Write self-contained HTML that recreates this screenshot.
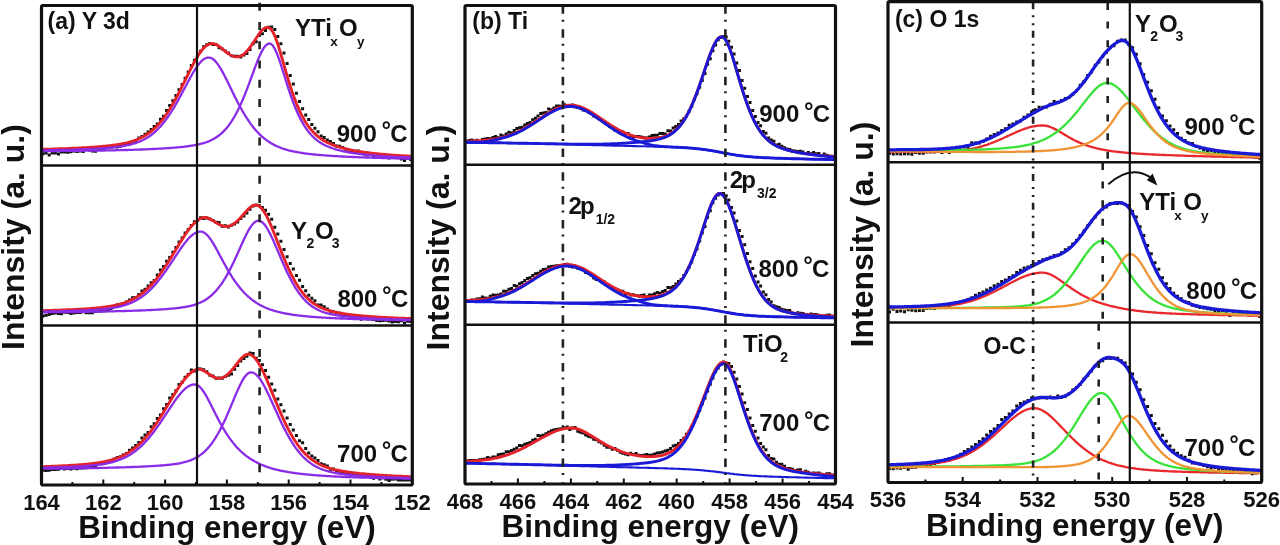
<!DOCTYPE html><html><head><meta charset="utf-8"><style>
html,body{margin:0;padding:0;background:#fff;width:1280px;height:545px;overflow:hidden}
svg{display:block;filter:blur(0.45px)}
text{font-family:"Liberation Sans",sans-serif;font-weight:bold;fill:#111}
</style></head><body>
<svg width="1280" height="545" viewBox="0 0 1280 545">
<defs><clipPath id="ca0"><rect x="41.5" y="5.5" width="370.8" height="160.0"/></clipPath><clipPath id="ca1"><rect x="41.5" y="165.5" width="370.8" height="160.0"/></clipPath><clipPath id="ca2"><rect x="41.5" y="325.5" width="370.8" height="159.5"/></clipPath><clipPath id="cb0"><rect x="465.0" y="5.5" width="370.5" height="159.3"/></clipPath><clipPath id="cb1"><rect x="465.0" y="164.8" width="370.5" height="160.0"/></clipPath><clipPath id="cb2"><rect x="465.0" y="324.8" width="370.5" height="159.2"/></clipPath><clipPath id="cc0"><rect x="888.0" y="1.7" width="373.70000000000005" height="160.5"/></clipPath><clipPath id="cc1"><rect x="888.0" y="162.2" width="373.70000000000005" height="160.3"/></clipPath><clipPath id="cc2"><rect x="888.0" y="322.5" width="373.70000000000005" height="160.0"/></clipPath></defs><g clip-path="url(#ca0)"><path d="M43.0 153.8h0M46.1 153.1h0M49.2 154.9h0M52.3 152.9h0M55.4 153.0h0M58.5 153.9h0M61.5 151.9h0M64.6 152.0h0M67.7 152.3h0M70.8 151.8h0M73.9 151.0h0M77.0 151.4h0M80.1 151.1h0M83.2 151.5h0M86.3 149.6h0M89.4 150.0h0M92.4 151.0h0M95.5 151.2h0M98.6 148.4h0M101.7 149.6h0M104.8 148.0h0M107.9 147.6h0M111.0 147.0h0M114.1 146.8h0M117.2 147.1h0M120.3 146.2h0M123.3 144.8h0M126.4 143.6h0M129.5 142.7h0M132.6 141.4h0M135.7 140.6h0M138.8 138.0h0M141.9 136.5h0M145.0 134.3h0M148.1 132.0h0M151.2 129.5h0M154.2 126.4h0M157.3 123.9h0M160.4 119.2h0M163.5 116.2h0M166.6 110.5h0M169.7 105.5h0M172.8 100.8h0M175.9 95.5h0M179.0 89.7h0M182.1 84.5h0M185.1 78.3h0M188.2 71.9h0M191.3 65.5h0M194.4 60.2h0M197.5 56.3h0M200.6 51.2h0M203.7 46.7h0M206.8 44.7h0M209.9 43.4h0M213.0 44.4h0M216.0 44.4h0M219.1 47.8h0M222.2 48.9h0M225.3 50.9h0M228.4 52.9h0M231.5 55.8h0M234.6 56.2h0M237.7 56.3h0M240.8 56.9h0M243.9 55.1h0M246.9 53.6h0M250.0 49.5h0M253.1 43.7h0M256.2 41.8h0M259.3 35.4h0M262.4 33.7h0M265.5 30.6h0M268.6 27.3h0M271.7 27.0h0M274.8 29.4h0M277.8 36.6h0M280.9 43.8h0M284.0 53.0h0M287.1 63.5h0M290.2 75.4h0M293.3 83.9h0M296.4 93.2h0M299.5 101.4h0M302.6 108.7h0M305.7 115.1h0M308.7 119.4h0M311.8 124.5h0M314.9 128.2h0M318.0 131.7h0M321.1 136.0h0M324.2 137.5h0M327.3 140.1h0M330.4 141.6h0M333.5 143.4h0M336.6 145.9h0M339.6 146.3h0M342.7 147.5h0M345.8 149.3h0M348.9 150.2h0M352.0 151.3h0M355.1 151.7h0M358.2 151.1h0M361.3 153.5h0M364.4 154.0h0M367.5 155.0h0M370.5 154.2h0M373.6 157.1h0M376.7 155.0h0M379.8 156.8h0M382.9 156.7h0M386.0 156.8h0M389.1 158.1h0M392.2 157.6h0M395.3 156.5h0M398.4 157.7h0M401.4 159.1h0M404.5 160.6h0M407.6 158.3h0M410.7 159.6h0" stroke="#111" stroke-width="3.0" stroke-linecap="square" fill="none"/><path d="M41.5 149.3L42.5 149.3L43.5 149.3L44.5 149.2L45.5 149.2L46.5 149.2L47.5 149.2L48.5 149.1L49.5 149.1L50.5 149.1L51.5 149.1L52.5 149.0L53.5 149.0L54.5 149.0L55.5 148.9L56.5 148.9L57.5 148.9L58.5 148.8L59.5 148.8L60.5 148.8L61.5 148.7L62.5 148.7L63.5 148.7L64.5 148.6L65.5 148.6L66.5 148.6L67.5 148.5L68.5 148.5L69.5 148.4L70.5 148.4L71.5 148.3L72.5 148.3L73.5 148.3L74.5 148.2L75.5 148.2L76.5 148.1L77.5 148.1L78.5 148.0L79.5 148.0L80.5 147.9L81.5 147.9L82.5 147.8L83.5 147.8L84.5 147.7L85.5 147.6L86.5 147.6L87.5 147.5L88.5 147.5L89.5 147.4L90.5 147.3L91.5 147.3L92.5 147.2L93.5 147.1L94.5 147.1L95.5 147.0L96.5 146.9L97.5 146.8L98.5 146.7L99.5 146.7L100.5 146.6L101.5 146.5L102.5 146.4L103.5 146.3L104.5 146.2L105.5 146.1L106.5 146.0L107.5 145.9L108.5 145.8L109.5 145.7L110.5 145.6L111.5 145.4L112.5 145.3L113.5 145.2L114.5 145.0L115.5 144.9L116.5 144.8L117.5 144.6L118.5 144.4L119.5 144.3L120.5 144.1L121.5 143.9L122.5 143.7L123.5 143.5L124.5 143.3L125.5 143.1L126.5 142.9L127.5 142.6L128.5 142.4L129.5 142.1L130.5 141.8L131.5 141.5L132.5 141.2L133.5 140.9L134.5 140.5L135.5 140.2L136.5 139.8L137.5 139.4L138.5 139.0L139.5 138.5L140.5 138.1L141.5 137.6L142.5 137.0L143.5 136.5L144.5 135.9L145.5 135.3L146.5 134.7L147.5 134.0L148.5 133.3L149.5 132.6L150.5 131.8L151.5 131.0L152.5 130.2L153.5 129.3L154.5 128.4L155.5 127.5L156.5 126.5L157.5 125.4L158.5 124.4L159.5 123.2L160.5 122.1L161.5 120.9L162.5 119.6L163.5 118.3L164.5 117.0L165.5 115.6L166.5 114.1L167.5 112.6L168.5 111.1L169.5 109.5L170.5 107.9L171.5 106.3L172.5 104.6L173.5 102.8L174.5 101.1L175.5 99.2L176.5 97.4L177.5 95.5L178.5 93.6L179.5 91.6L180.5 89.7L181.5 87.7L182.5 85.7L183.5 83.6L184.5 81.6L185.5 79.5L186.5 77.5L187.5 75.5L188.5 73.4L189.5 71.4L190.5 69.4L191.5 67.4L192.5 65.5L193.5 63.6L194.5 61.7L195.5 59.9L196.5 58.2L197.5 56.5L198.5 54.9L199.5 53.4L200.5 51.9L201.5 50.6L202.5 49.4L203.5 48.2L204.5 47.2L205.5 46.3L206.5 45.6L207.5 44.9L208.5 44.4L209.5 44.0L210.5 43.7L211.5 43.6L212.5 43.6L213.5 43.7L214.5 43.9L215.5 44.3L216.5 44.8L217.5 45.3L218.5 46.0L219.5 46.7L220.5 47.4L221.5 48.2L222.5 49.0L223.5 49.8L224.5 50.7L225.5 51.5L226.5 52.3L227.5 53.0L228.5 53.7L229.5 54.4L230.5 55.0L231.5 55.5L232.5 56.0L233.5 56.3L234.5 56.6L235.5 56.8L236.5 56.9L237.5 56.8L238.5 56.7L239.5 56.5L240.5 56.1L241.5 55.6L242.5 55.1L243.5 54.4L244.5 53.6L245.5 52.6L246.5 51.6L247.5 50.5L248.5 49.3L249.5 48.0L250.5 46.7L251.5 45.3L252.5 43.8L253.5 42.3L254.5 40.7L255.5 39.2L256.5 37.7L257.5 36.2L258.5 34.7L259.5 33.3L260.5 32.0L261.5 30.8L262.5 29.8L263.5 28.9L264.5 28.2L265.5 27.7L266.5 27.5L267.5 27.4L268.5 27.6L269.5 28.1L270.5 28.8L271.5 29.9L272.5 31.4L273.5 33.2L274.5 35.3L275.5 37.7L276.5 40.4L277.5 43.3L278.5 46.4L279.5 49.6L280.5 52.9L281.5 56.4L282.5 59.8L283.5 63.3L284.5 66.9L285.5 70.3L286.5 73.8L287.5 77.2L288.5 80.5L289.5 83.7L290.5 86.9L291.5 89.9L292.5 92.9L293.5 95.8L294.5 98.5L295.5 101.1L296.5 103.7L297.5 106.1L298.5 108.4L299.5 110.7L300.5 112.8L301.5 114.8L302.5 116.7L303.5 118.5L304.5 120.3L305.5 121.9L306.5 123.5L307.5 125.0L308.5 126.4L309.5 127.7L310.5 129.0L311.5 130.1L312.5 131.3L313.5 132.3L314.5 133.4L315.5 134.3L316.5 135.2L317.5 136.1L318.5 136.9L319.5 137.7L320.5 138.4L321.5 139.1L322.5 139.7L323.5 140.4L324.5 140.9L325.5 141.5L326.5 142.0L327.5 142.6L328.5 143.0L329.5 143.5L330.5 143.9L331.5 144.4L332.5 144.8L333.5 145.2L334.5 145.5L335.5 145.9L336.5 146.2L337.5 146.6L338.5 146.9L339.5 147.2L340.5 147.5L341.5 147.8L342.5 148.0L343.5 148.3L344.5 148.5L345.5 148.8L346.5 149.0L347.5 149.3L348.5 149.5L349.5 149.7L350.5 149.9L351.5 150.1L352.5 150.3L353.5 150.5L354.5 150.7L355.5 150.9L356.5 151.0L357.5 151.2L358.5 151.4L359.5 151.5L360.5 151.7L361.5 151.8L362.5 152.0L363.5 152.1L364.5 152.3L365.5 152.4L366.5 152.5L367.5 152.7L368.5 152.8L369.5 152.9L370.5 153.0L371.5 153.1L372.5 153.3L373.5 153.4L374.5 153.5L375.5 153.6L376.5 153.7L377.5 153.8L378.5 153.9L379.5 154.0L380.5 154.1L381.5 154.2L382.5 154.3L383.5 154.4L384.5 154.4L385.5 154.5L386.5 154.6L387.5 154.7L388.5 154.8L389.5 154.9L390.5 154.9L391.5 155.0L392.5 155.1L393.5 155.1L394.5 155.2L395.5 155.3L396.5 155.4L397.5 155.4L398.5 155.5L399.5 155.6L400.5 155.6L401.5 155.7L402.5 155.7L403.5 155.8L404.5 155.9L405.5 155.9L406.5 156.0L407.5 156.0L408.5 156.1L409.5 156.1L410.5 156.2L411.5 156.2" fill="none" stroke="#e3222a" stroke-width="2.9"/><path d="M41.5 150.4L42.5 150.3L43.5 150.3L44.5 150.3L45.5 150.3L46.5 150.3L47.5 150.3L48.5 150.2L49.5 150.2L50.5 150.2L51.5 150.2L52.5 150.2L53.5 150.1L54.5 150.1L55.5 150.1L56.5 150.1L57.5 150.1L58.5 150.0L59.5 150.0L60.5 150.0L61.5 150.0L62.5 149.9L63.5 149.9L64.5 149.9L65.5 149.9L66.5 149.8L67.5 149.8L68.5 149.8L69.5 149.8L70.5 149.7L71.5 149.7L72.5 149.7L73.5 149.6L74.5 149.6L75.5 149.6L76.5 149.5L77.5 149.5L78.5 149.5L79.5 149.4L80.5 149.4L81.5 149.4L82.5 149.3L83.5 149.3L84.5 149.2L85.5 149.2L86.5 149.2L87.5 149.1L88.5 149.1L89.5 149.0L90.5 149.0L91.5 148.9L92.5 148.9L93.5 148.8L94.5 148.8L95.5 148.7L96.5 148.7L97.5 148.6L98.5 148.6L99.5 148.5L100.5 148.4L101.5 148.4L102.5 148.3L103.5 148.2L104.5 148.2L105.5 148.1L106.5 148.0L107.5 147.9L108.5 147.8L109.5 147.7L110.5 147.6L111.5 147.6L112.5 147.5L113.5 147.3L114.5 147.2L115.5 147.1L116.5 147.0L117.5 146.9L118.5 146.7L119.5 146.6L120.5 146.5L121.5 146.3L122.5 146.2L123.5 146.0L124.5 145.8L125.5 145.6L126.5 145.4L127.5 145.2L128.5 145.0L129.5 144.8L130.5 144.5L131.5 144.3L132.5 144.0L133.5 143.7L134.5 143.4L135.5 143.1L136.5 142.7L137.5 142.4L138.5 142.0L139.5 141.6L140.5 141.2L141.5 140.7L142.5 140.3L143.5 139.8L144.5 139.2L145.5 138.7L146.5 138.1L147.5 137.5L148.5 136.9L149.5 136.2L150.5 135.5L151.5 134.7L152.5 134.0L153.5 133.2L154.5 132.3L155.5 131.4L156.5 130.5L157.5 129.5L158.5 128.5L159.5 127.5L160.5 126.4L161.5 125.2L162.5 124.1L163.5 122.8L164.5 121.6L165.5 120.3L166.5 118.9L167.5 117.5L168.5 116.1L169.5 114.6L170.5 113.1L171.5 111.5L172.5 109.9L173.5 108.3L174.5 106.6L175.5 104.9L176.5 103.2L177.5 101.4L178.5 99.6L179.5 97.8L180.5 95.9L181.5 94.1L182.5 92.2L183.5 90.3L184.5 88.4L185.5 86.5L186.5 84.7L187.5 82.8L188.5 80.9L189.5 79.1L190.5 77.2L191.5 75.5L192.5 73.7L193.5 72.0L194.5 70.4L195.5 68.8L196.5 67.3L197.5 65.9L198.5 64.5L199.5 63.3L200.5 62.2L201.5 61.1L202.5 60.2L203.5 59.4L204.5 58.8L205.5 58.3L206.5 57.9L207.5 57.7L208.5 57.6L209.5 57.6L210.5 57.8L211.5 58.2L212.5 58.8L213.5 59.5L214.5 60.4L215.5 61.4L216.5 62.6L217.5 63.9L218.5 65.3L219.5 66.8L220.5 68.4L221.5 70.1L222.5 71.9L223.5 73.7L224.5 75.7L225.5 77.6L226.5 79.6L227.5 81.6L228.5 83.7L229.5 85.7L230.5 87.8L231.5 89.8L232.5 91.9L233.5 93.9L234.5 95.9L235.5 98.0L236.5 99.9L237.5 101.9L238.5 103.8L239.5 105.7L240.5 107.5L241.5 109.3L242.5 111.1L243.5 112.8L244.5 114.5L245.5 116.1L246.5 117.7L247.5 119.2L248.5 120.7L249.5 122.2L250.5 123.6L251.5 124.9L252.5 126.2L253.5 127.5L254.5 128.7L255.5 129.9L256.5 131.0L257.5 132.1L258.5 133.2L259.5 134.2L260.5 135.1L261.5 136.1L262.5 137.0L263.5 137.8L264.5 138.6L265.5 139.4L266.5 140.2L267.5 140.9L268.5 141.6L269.5 142.2L270.5 142.8L271.5 143.4L272.5 144.0L273.5 144.6L274.5 145.1L275.5 145.6L276.5 146.0L277.5 146.5L278.5 146.9L279.5 147.3L280.5 147.7L281.5 148.1L282.5 148.5L283.5 148.8L284.5 149.1L285.5 149.4L286.5 149.7L287.5 150.0L288.5 150.3L289.5 150.5L290.5 150.8L291.5 151.0L292.5 151.2L293.5 151.4L294.5 151.7L295.5 151.8L296.5 152.0L297.5 152.2L298.5 152.4L299.5 152.6L300.5 152.7L301.5 152.9L302.5 153.0L303.5 153.2L304.5 153.3L305.5 153.5L306.5 153.6L307.5 153.7L308.5 153.8L309.5 154.0L310.5 154.1L311.5 154.2L312.5 154.3L313.5 154.4L314.5 154.5L315.5 154.6L316.5 154.7L317.5 154.8L318.5 154.9L319.5 155.0L320.5 155.0L321.5 155.1L322.5 155.2L323.5 155.3L324.5 155.4L325.5 155.4L326.5 155.5L327.5 155.6L328.5 155.7L329.5 155.7L330.5 155.8L331.5 155.9L332.5 155.9L333.5 156.0L334.5 156.1L335.5 156.1L336.5 156.2L337.5 156.2L338.5 156.3L339.5 156.3L340.5 156.4L341.5 156.5L342.5 156.5L343.5 156.6L344.5 156.6L345.5 156.7L346.5 156.7L347.5 156.8L348.5 156.8L349.5 156.8L350.5 156.9L351.5 156.9L352.5 157.0L353.5 157.0L354.5 157.1L355.5 157.1L356.5 157.1L357.5 157.2L358.5 157.2L359.5 157.3L360.5 157.3L361.5 157.3L362.5 157.4L363.5 157.4L364.5 157.4L365.5 157.5L366.5 157.5L367.5 157.5L368.5 157.6L369.5 157.6L370.5 157.6L371.5 157.7L372.5 157.7L373.5 157.7L374.5 157.8L375.5 157.8L376.5 157.8L377.5 157.9L378.5 157.9L379.5 157.9L380.5 157.9L381.5 158.0L382.5 158.0L383.5 158.0L384.5 158.0L385.5 158.1L386.5 158.1L387.5 158.1L388.5 158.1L389.5 158.2L390.5 158.2L391.5 158.2L392.5 158.2L393.5 158.3L394.5 158.3L395.5 158.3L396.5 158.3L397.5 158.4L398.5 158.4L399.5 158.4L400.5 158.4L401.5 158.4L402.5 158.5L403.5 158.5L404.5 158.5L405.5 158.5L406.5 158.5L407.5 158.6L408.5 158.6L409.5 158.6L410.5 158.6L411.5 158.6" fill="none" stroke="#8a2be8" stroke-width="2.3"/><path d="M41.5 151.1L42.5 151.0L43.5 151.0L44.5 151.0L45.5 151.0L46.5 151.0L47.5 151.0L48.5 151.0L49.5 151.0L50.5 151.0L51.5 151.0L52.5 151.0L53.5 151.0L54.5 151.0L55.5 151.0L56.5 151.0L57.5 151.0L58.5 151.0L59.5 151.0L60.5 150.9L61.5 150.9L62.5 150.9L63.5 150.9L64.5 150.9L65.5 150.9L66.5 150.9L67.5 150.9L68.5 150.9L69.5 150.9L70.5 150.9L71.5 150.9L72.5 150.9L73.5 150.8L74.5 150.8L75.5 150.8L76.5 150.8L77.5 150.8L78.5 150.8L79.5 150.8L80.5 150.8L81.5 150.8L82.5 150.8L83.5 150.7L84.5 150.7L85.5 150.7L86.5 150.7L87.5 150.7L88.5 150.7L89.5 150.7L90.5 150.7L91.5 150.7L92.5 150.6L93.5 150.6L94.5 150.6L95.5 150.6L96.5 150.6L97.5 150.6L98.5 150.6L99.5 150.5L100.5 150.5L101.5 150.5L102.5 150.5L103.5 150.5L104.5 150.5L105.5 150.4L106.5 150.4L107.5 150.4L108.5 150.4L109.5 150.4L110.5 150.4L111.5 150.3L112.5 150.3L113.5 150.3L114.5 150.3L115.5 150.3L116.5 150.2L117.5 150.2L118.5 150.2L119.5 150.2L120.5 150.1L121.5 150.1L122.5 150.1L123.5 150.1L124.5 150.0L125.5 150.0L126.5 150.0L127.5 150.0L128.5 149.9L129.5 149.9L130.5 149.9L131.5 149.8L132.5 149.8L133.5 149.8L134.5 149.7L135.5 149.7L136.5 149.7L137.5 149.6L138.5 149.6L139.5 149.6L140.5 149.5L141.5 149.5L142.5 149.5L143.5 149.4L144.5 149.4L145.5 149.3L146.5 149.3L147.5 149.3L148.5 149.2L149.5 149.2L150.5 149.1L151.5 149.1L152.5 149.0L153.5 149.0L154.5 148.9L155.5 148.9L156.5 148.8L157.5 148.8L158.5 148.7L159.5 148.7L160.5 148.6L161.5 148.6L162.5 148.5L163.5 148.4L164.5 148.4L165.5 148.3L166.5 148.2L167.5 148.2L168.5 148.1L169.5 148.0L170.5 148.0L171.5 147.9L172.5 147.8L173.5 147.7L174.5 147.6L175.5 147.6L176.5 147.5L177.5 147.4L178.5 147.3L179.5 147.2L180.5 147.1L181.5 147.0L182.5 146.9L183.5 146.8L184.5 146.7L185.5 146.5L186.5 146.4L187.5 146.3L188.5 146.2L189.5 146.0L190.5 145.9L191.5 145.7L192.5 145.6L193.5 145.4L194.5 145.2L195.5 145.0L196.5 144.8L197.5 144.6L198.5 144.4L199.5 144.2L200.5 143.9L201.5 143.7L202.5 143.4L203.5 143.1L204.5 142.8L205.5 142.5L206.5 142.1L207.5 141.8L208.5 141.4L209.5 141.0L210.5 140.5L211.5 140.0L212.5 139.5L213.5 139.0L214.5 138.4L215.5 137.8L216.5 137.2L217.5 136.5L218.5 135.8L219.5 135.0L220.5 134.2L221.5 133.3L222.5 132.4L223.5 131.4L224.5 130.4L225.5 129.3L226.5 128.2L227.5 126.9L228.5 125.7L229.5 124.3L230.5 122.9L231.5 121.4L232.5 119.9L233.5 118.2L234.5 116.5L235.5 114.7L236.5 112.9L237.5 111.0L238.5 109.0L239.5 106.9L240.5 104.7L241.5 102.5L242.5 100.2L243.5 97.8L244.5 95.4L245.5 92.9L246.5 90.4L247.5 87.8L248.5 85.1L249.5 82.4L250.5 79.7L251.5 77.0L252.5 74.3L253.5 71.5L254.5 68.8L255.5 66.2L256.5 63.6L257.5 61.0L258.5 58.6L259.5 56.2L260.5 54.0L261.5 52.0L262.5 50.1L263.5 48.4L264.5 47.0L265.5 45.8L266.5 44.8L267.5 44.1L268.5 43.7L269.5 43.6L270.5 43.7L271.5 44.3L272.5 45.3L273.5 46.6L274.5 48.2L275.5 50.2L276.5 52.5L277.5 55.0L278.5 57.7L279.5 60.5L280.5 63.5L281.5 66.6L282.5 69.8L283.5 73.0L284.5 76.2L285.5 79.5L286.5 82.6L287.5 85.8L288.5 88.9L289.5 91.9L290.5 94.9L291.5 97.7L292.5 100.5L293.5 103.1L294.5 105.7L295.5 108.2L296.5 110.6L297.5 112.8L298.5 115.0L299.5 117.1L300.5 119.1L301.5 120.9L302.5 122.7L303.5 124.4L304.5 126.1L305.5 127.6L306.5 129.0L307.5 130.4L308.5 131.7L309.5 132.9L310.5 134.1L311.5 135.2L312.5 136.2L313.5 137.2L314.5 138.1L315.5 139.0L316.5 139.8L317.5 140.6L318.5 141.4L319.5 142.0L320.5 142.7L321.5 143.3L322.5 143.9L323.5 144.5L324.5 145.0L325.5 145.5L326.5 146.0L327.5 146.4L328.5 146.8L329.5 147.2L330.5 147.6L331.5 148.0L332.5 148.3L333.5 148.7L334.5 149.0L335.5 149.3L336.5 149.6L337.5 149.9L338.5 150.1L339.5 150.4L340.5 150.6L341.5 150.9L342.5 151.1L343.5 151.3L344.5 151.5L345.5 151.7L346.5 151.9L347.5 152.1L348.5 152.3L349.5 152.5L350.5 152.7L351.5 152.8L352.5 153.0L353.5 153.1L354.5 153.3L355.5 153.4L356.5 153.6L357.5 153.7L358.5 153.8L359.5 154.0L360.5 154.1L361.5 154.2L362.5 154.3L363.5 154.4L364.5 154.6L365.5 154.7L366.5 154.8L367.5 154.9L368.5 155.0L369.5 155.1L370.5 155.2L371.5 155.3L372.5 155.3L373.5 155.4L374.5 155.5L375.5 155.6L376.5 155.7L377.5 155.8L378.5 155.8L379.5 155.9L380.5 156.0L381.5 156.1L382.5 156.1L383.5 156.2L384.5 156.3L385.5 156.3L386.5 156.4L387.5 156.5L388.5 156.5L389.5 156.6L390.5 156.6L391.5 156.7L392.5 156.7L393.5 156.8L394.5 156.9L395.5 156.9L396.5 157.0L397.5 157.0L398.5 157.1L399.5 157.1L400.5 157.2L401.5 157.2L402.5 157.2L403.5 157.3L404.5 157.3L405.5 157.4L406.5 157.4L407.5 157.5L408.5 157.5L409.5 157.5L410.5 157.6L411.5 157.6" fill="none" stroke="#8a2be8" stroke-width="2.3"/></g><g clip-path="url(#ca1)"><path d="M43.0 315.9h0M46.1 315.2h0M49.2 314.4h0M52.3 313.5h0M55.4 313.1h0M58.5 313.6h0M61.5 313.7h0M64.6 312.2h0M67.7 312.4h0M70.8 313.6h0M73.9 312.9h0M77.0 312.4h0M80.1 312.4h0M83.2 311.8h0M86.3 312.7h0M89.4 312.8h0M92.4 312.8h0M95.5 311.4h0M98.6 311.0h0M101.7 310.9h0M104.8 310.5h0M107.9 309.7h0M111.0 308.7h0M114.1 306.6h0M117.2 304.9h0M120.3 305.5h0M123.3 303.5h0M126.4 302.1h0M129.5 299.9h0M132.6 297.8h0M135.7 297.6h0M138.8 294.6h0M141.9 291.0h0M145.0 289.2h0M148.1 286.1h0M151.2 282.8h0M154.2 280.4h0M157.3 274.9h0M160.4 269.9h0M163.5 266.4h0M166.6 261.3h0M169.7 257.4h0M172.8 252.3h0M175.9 247.5h0M179.0 242.1h0M182.1 238.1h0M185.1 233.0h0M188.2 229.6h0M191.3 225.4h0M194.4 221.8h0M197.5 220.5h0M200.6 217.8h0M203.7 218.5h0M206.8 218.0h0M209.9 219.1h0M213.0 220.5h0M216.0 222.2h0M219.1 222.4h0M222.2 226.3h0M225.3 225.7h0M228.4 227.0h0M231.5 225.2h0M234.6 224.1h0M237.7 221.9h0M240.8 218.5h0M243.9 215.9h0M246.9 213.0h0M250.0 209.2h0M253.1 206.1h0M256.2 205.0h0M259.3 205.4h0M262.4 207.4h0M265.5 210.2h0M268.6 214.3h0M271.7 219.2h0M274.8 227.2h0M277.8 233.9h0M280.9 241.2h0M284.0 249.6h0M287.1 256.7h0M290.2 263.6h0M293.3 269.0h0M296.4 275.5h0M299.5 280.2h0M302.6 286.5h0M305.7 290.8h0M308.7 295.3h0M311.8 298.2h0M314.9 300.7h0M318.0 305.1h0M321.1 305.1h0M324.2 306.8h0M327.3 308.9h0M330.4 311.2h0M333.5 311.8h0M336.6 312.8h0M339.6 313.2h0M342.7 315.9h0M345.8 315.1h0M348.9 315.4h0M352.0 316.7h0M355.1 316.7h0M358.2 317.6h0M361.3 319.2h0M364.4 318.3h0M367.5 319.0h0M370.5 319.1h0M373.6 319.6h0M376.7 320.6h0M379.8 320.7h0M382.9 320.4h0M386.0 320.2h0M389.1 321.0h0M392.2 321.9h0M395.3 321.6h0M398.4 321.7h0M401.4 320.7h0M404.5 322.9h0M407.6 321.3h0M410.7 321.6h0" stroke="#111" stroke-width="3.0" stroke-linecap="square" fill="none"/><path d="M41.5 310.7L42.5 310.6L43.5 310.6L44.5 310.6L45.5 310.6L46.5 310.5L47.5 310.5L48.5 310.5L49.5 310.4L50.5 310.4L51.5 310.4L52.5 310.4L53.5 310.3L54.5 310.3L55.5 310.3L56.5 310.2L57.5 310.2L58.5 310.2L59.5 310.1L60.5 310.1L61.5 310.0L62.5 310.0L63.5 310.0L64.5 309.9L65.5 309.9L66.5 309.8L67.5 309.8L68.5 309.8L69.5 309.7L70.5 309.7L71.5 309.6L72.5 309.6L73.5 309.5L74.5 309.5L75.5 309.4L76.5 309.4L77.5 309.3L78.5 309.3L79.5 309.2L80.5 309.2L81.5 309.1L82.5 309.0L83.5 309.0L84.5 308.9L85.5 308.9L86.5 308.8L87.5 308.7L88.5 308.6L89.5 308.6L90.5 308.5L91.5 308.4L92.5 308.3L93.5 308.3L94.5 308.2L95.5 308.1L96.5 308.0L97.5 307.9L98.5 307.8L99.5 307.7L100.5 307.6L101.5 307.5L102.5 307.3L103.5 307.2L104.5 307.1L105.5 307.0L106.5 306.8L107.5 306.7L108.5 306.5L109.5 306.4L110.5 306.2L111.5 306.0L112.5 305.8L113.5 305.6L114.5 305.4L115.5 305.2L116.5 305.0L117.5 304.8L118.5 304.5L119.5 304.3L120.5 304.0L121.5 303.7L122.5 303.4L123.5 303.1L124.5 302.8L125.5 302.4L126.5 302.0L127.5 301.7L128.5 301.2L129.5 300.8L130.5 300.4L131.5 299.9L132.5 299.4L133.5 298.9L134.5 298.4L135.5 297.8L136.5 297.2L137.5 296.6L138.5 295.9L139.5 295.3L140.5 294.6L141.5 293.8L142.5 293.1L143.5 292.3L144.5 291.4L145.5 290.6L146.5 289.7L147.5 288.8L148.5 287.8L149.5 286.8L150.5 285.8L151.5 284.7L152.5 283.6L153.5 282.5L154.5 281.3L155.5 280.1L156.5 278.9L157.5 277.6L158.5 276.3L159.5 275.0L160.5 273.6L161.5 272.2L162.5 270.8L163.5 269.3L164.5 267.8L165.5 266.3L166.5 264.8L167.5 263.2L168.5 261.6L169.5 260.1L170.5 258.4L171.5 256.8L172.5 255.2L173.5 253.5L174.5 251.9L175.5 250.2L176.5 248.5L177.5 246.9L178.5 245.2L179.5 243.6L180.5 242.0L181.5 240.4L182.5 238.8L183.5 237.2L184.5 235.7L185.5 234.2L186.5 232.7L187.5 231.3L188.5 229.9L189.5 228.6L190.5 227.3L191.5 226.1L192.5 225.0L193.5 223.9L194.5 222.9L195.5 222.0L196.5 221.1L197.5 220.4L198.5 219.7L199.5 219.0L200.5 218.5L201.5 218.0L202.5 217.7L203.5 217.5L204.5 217.4L205.5 217.5L206.5 217.6L207.5 217.9L208.5 218.3L209.5 218.7L210.5 219.2L211.5 219.8L212.5 220.4L213.5 221.0L214.5 221.6L215.5 222.3L216.5 222.9L217.5 223.5L218.5 224.1L219.5 224.6L220.5 225.1L221.5 225.5L222.5 225.8L223.5 226.1L224.5 226.3L225.5 226.4L226.5 226.4L227.5 226.3L228.5 226.2L229.5 225.9L230.5 225.6L231.5 225.2L232.5 224.6L233.5 224.0L234.5 223.3L235.5 222.5L236.5 221.7L237.5 220.8L238.5 219.8L239.5 218.8L240.5 217.7L241.5 216.6L242.5 215.5L243.5 214.3L244.5 213.2L245.5 212.1L246.5 211.0L247.5 209.9L248.5 208.9L249.5 208.0L250.5 207.2L251.5 206.5L252.5 205.9L253.5 205.5L254.5 205.2L255.5 205.1L256.5 205.1L257.5 205.4L258.5 205.8L259.5 206.5L260.5 207.3L261.5 208.3L262.5 209.5L263.5 210.8L264.5 212.4L265.5 214.1L266.5 215.9L267.5 217.9L268.5 219.9L269.5 222.1L270.5 224.4L271.5 226.8L272.5 229.2L273.5 231.7L274.5 234.2L275.5 236.7L276.5 239.3L277.5 241.9L278.5 244.4L279.5 247.0L280.5 249.6L281.5 252.1L282.5 254.6L283.5 257.0L284.5 259.4L285.5 261.8L286.5 264.1L287.5 266.4L288.5 268.6L289.5 270.7L290.5 272.8L291.5 274.8L292.5 276.7L293.5 278.6L294.5 280.4L295.5 282.2L296.5 283.9L297.5 285.5L298.5 287.1L299.5 288.5L300.5 290.0L301.5 291.3L302.5 292.6L303.5 293.9L304.5 295.0L305.5 296.2L306.5 297.2L307.5 298.2L308.5 299.2L309.5 300.1L310.5 301.0L311.5 301.8L312.5 302.5L313.5 303.3L314.5 304.0L315.5 304.6L316.5 305.2L317.5 305.8L318.5 306.3L319.5 306.9L320.5 307.3L321.5 307.8L322.5 308.2L323.5 308.7L324.5 309.0L325.5 309.4L326.5 309.8L327.5 310.1L328.5 310.4L329.5 310.7L330.5 311.0L331.5 311.2L332.5 311.5L333.5 311.7L334.5 312.0L335.5 312.2L336.5 312.4L337.5 312.6L338.5 312.8L339.5 313.0L340.5 313.2L341.5 313.3L342.5 313.5L343.5 313.7L344.5 313.8L345.5 314.0L346.5 314.1L347.5 314.2L348.5 314.4L349.5 314.5L350.5 314.6L351.5 314.7L352.5 314.9L353.5 315.0L354.5 315.1L355.5 315.2L356.5 315.3L357.5 315.4L358.5 315.5L359.5 315.6L360.5 315.7L361.5 315.8L362.5 315.9L363.5 316.0L364.5 316.1L365.5 316.1L366.5 316.2L367.5 316.3L368.5 316.4L369.5 316.4L370.5 316.5L371.5 316.6L372.5 316.7L373.5 316.7L374.5 316.8L375.5 316.9L376.5 316.9L377.5 317.0L378.5 317.1L379.5 317.1L380.5 317.2L381.5 317.2L382.5 317.3L383.5 317.4L384.5 317.4L385.5 317.5L386.5 317.5L387.5 317.6L388.5 317.6L389.5 317.7L390.5 317.7L391.5 317.8L392.5 317.8L393.5 317.9L394.5 317.9L395.5 317.9L396.5 318.0L397.5 318.0L398.5 318.1L399.5 318.1L400.5 318.2L401.5 318.2L402.5 318.2L403.5 318.3L404.5 318.3L405.5 318.4L406.5 318.4L407.5 318.4L408.5 318.5L409.5 318.5L410.5 318.5L411.5 318.6" fill="none" stroke="#e3222a" stroke-width="2.9"/><path d="M41.5 311.6L42.5 311.6L43.5 311.6L44.5 311.6L45.5 311.6L46.5 311.6L47.5 311.5L48.5 311.5L49.5 311.5L50.5 311.5L51.5 311.5L52.5 311.4L53.5 311.4L54.5 311.4L55.5 311.4L56.5 311.3L57.5 311.3L58.5 311.3L59.5 311.3L60.5 311.2L61.5 311.2L62.5 311.2L63.5 311.2L64.5 311.1L65.5 311.1L66.5 311.1L67.5 311.0L68.5 311.0L69.5 311.0L70.5 311.0L71.5 310.9L72.5 310.9L73.5 310.9L74.5 310.8L75.5 310.8L76.5 310.7L77.5 310.7L78.5 310.7L79.5 310.6L80.5 310.6L81.5 310.5L82.5 310.5L83.5 310.5L84.5 310.4L85.5 310.4L86.5 310.3L87.5 310.3L88.5 310.2L89.5 310.2L90.5 310.1L91.5 310.0L92.5 310.0L93.5 309.9L94.5 309.8L95.5 309.8L96.5 309.7L97.5 309.6L98.5 309.6L99.5 309.5L100.5 309.4L101.5 309.3L102.5 309.2L103.5 309.1L104.5 309.0L105.5 308.9L106.5 308.8L107.5 308.7L108.5 308.5L109.5 308.4L110.5 308.3L111.5 308.1L112.5 307.9L113.5 307.8L114.5 307.6L115.5 307.4L116.5 307.2L117.5 307.0L118.5 306.8L119.5 306.6L120.5 306.3L121.5 306.1L122.5 305.8L123.5 305.5L124.5 305.2L125.5 304.9L126.5 304.6L127.5 304.2L128.5 303.9L129.5 303.5L130.5 303.1L131.5 302.7L132.5 302.2L133.5 301.7L134.5 301.2L135.5 300.7L136.5 300.2L137.5 299.6L138.5 299.0L139.5 298.4L140.5 297.7L141.5 297.0L142.5 296.3L143.5 295.6L144.5 294.8L145.5 294.0L146.5 293.2L147.5 292.3L148.5 291.4L149.5 290.5L150.5 289.5L151.5 288.5L152.5 287.5L153.5 286.4L154.5 285.3L155.5 284.2L156.5 283.0L157.5 281.8L158.5 280.6L159.5 279.4L160.5 278.1L161.5 276.8L162.5 275.4L163.5 274.1L164.5 272.7L165.5 271.3L166.5 269.8L167.5 268.4L168.5 266.9L169.5 265.4L170.5 263.9L171.5 262.4L172.5 260.9L173.5 259.4L174.5 257.9L175.5 256.3L176.5 254.8L177.5 253.3L178.5 251.8L179.5 250.4L180.5 248.9L181.5 247.5L182.5 246.1L183.5 244.7L184.5 243.4L185.5 242.1L186.5 240.9L187.5 239.7L188.5 238.6L189.5 237.5L190.5 236.6L191.5 235.7L192.5 234.8L193.5 234.1L194.5 233.5L195.5 232.9L196.5 232.4L197.5 232.1L198.5 231.8L199.5 231.7L200.5 231.6L201.5 231.7L202.5 231.9L203.5 232.3L204.5 232.9L205.5 233.6L206.5 234.4L207.5 235.5L208.5 236.6L209.5 237.9L210.5 239.2L211.5 240.7L212.5 242.3L213.5 243.9L214.5 245.6L215.5 247.4L216.5 249.2L217.5 251.0L218.5 252.9L219.5 254.7L220.5 256.6L221.5 258.5L222.5 260.4L223.5 262.2L224.5 264.0L225.5 265.8L226.5 267.6L227.5 269.4L228.5 271.1L229.5 272.8L230.5 274.4L231.5 276.0L232.5 277.6L233.5 279.1L234.5 280.6L235.5 282.0L236.5 283.4L237.5 284.7L238.5 286.1L239.5 287.3L240.5 288.5L241.5 289.7L242.5 290.8L243.5 291.9L244.5 293.0L245.5 294.0L246.5 295.0L247.5 295.9L248.5 296.8L249.5 297.7L250.5 298.5L251.5 299.3L252.5 300.1L253.5 300.8L254.5 301.5L255.5 302.2L256.5 302.9L257.5 303.5L258.5 304.1L259.5 304.7L260.5 305.2L261.5 305.7L262.5 306.2L263.5 306.7L264.5 307.2L265.5 307.6L266.5 308.0L267.5 308.5L268.5 308.8L269.5 309.2L270.5 309.6L271.5 309.9L272.5 310.2L273.5 310.6L274.5 310.9L275.5 311.1L276.5 311.4L277.5 311.7L278.5 311.9L279.5 312.2L280.5 312.4L281.5 312.7L282.5 312.9L283.5 313.1L284.5 313.3L285.5 313.5L286.5 313.7L287.5 313.9L288.5 314.0L289.5 314.2L290.5 314.4L291.5 314.5L292.5 314.7L293.5 314.8L294.5 315.0L295.5 315.1L296.5 315.2L297.5 315.3L298.5 315.5L299.5 315.6L300.5 315.7L301.5 315.8L302.5 315.9L303.5 316.0L304.5 316.1L305.5 316.2L306.5 316.3L307.5 316.4L308.5 316.5L309.5 316.6L310.5 316.7L311.5 316.8L312.5 316.9L313.5 316.9L314.5 317.0L315.5 317.1L316.5 317.2L317.5 317.2L318.5 317.3L319.5 317.4L320.5 317.4L321.5 317.5L322.5 317.6L323.5 317.6L324.5 317.7L325.5 317.7L326.5 317.8L327.5 317.9L328.5 317.9L329.5 318.0L330.5 318.0L331.5 318.1L332.5 318.1L333.5 318.2L334.5 318.2L335.5 318.3L336.5 318.3L337.5 318.4L338.5 318.4L339.5 318.4L340.5 318.5L341.5 318.5L342.5 318.6L343.5 318.6L344.5 318.6L345.5 318.7L346.5 318.7L347.5 318.8L348.5 318.8L349.5 318.8L350.5 318.9L351.5 318.9L352.5 318.9L353.5 319.0L354.5 319.0L355.5 319.0L356.5 319.1L357.5 319.1L358.5 319.1L359.5 319.1L360.5 319.2L361.5 319.2L362.5 319.2L363.5 319.3L364.5 319.3L365.5 319.3L366.5 319.3L367.5 319.4L368.5 319.4L369.5 319.4L370.5 319.4L371.5 319.5L372.5 319.5L373.5 319.5L374.5 319.5L375.5 319.6L376.5 319.6L377.5 319.6L378.5 319.6L379.5 319.6L380.5 319.7L381.5 319.7L382.5 319.7L383.5 319.7L384.5 319.7L385.5 319.8L386.5 319.8L387.5 319.8L388.5 319.8L389.5 319.8L390.5 319.9L391.5 319.9L392.5 319.9L393.5 319.9L394.5 319.9L395.5 319.9L396.5 320.0L397.5 320.0L398.5 320.0L399.5 320.0L400.5 320.0L401.5 320.0L402.5 320.0L403.5 320.1L404.5 320.1L405.5 320.1L406.5 320.1L407.5 320.1L408.5 320.1L409.5 320.1L410.5 320.2L411.5 320.2" fill="none" stroke="#8a2be8" stroke-width="2.3"/><path d="M41.5 312.3L42.5 312.3L43.5 312.3L44.5 312.3L45.5 312.2L46.5 312.2L47.5 312.2L48.5 312.2L49.5 312.2L50.5 312.2L51.5 312.2L52.5 312.2L53.5 312.2L54.5 312.2L55.5 312.2L56.5 312.2L57.5 312.1L58.5 312.1L59.5 312.1L60.5 312.1L61.5 312.1L62.5 312.1L63.5 312.1L64.5 312.1L65.5 312.1L66.5 312.1L67.5 312.0L68.5 312.0L69.5 312.0L70.5 312.0L71.5 312.0L72.5 312.0L73.5 312.0L74.5 312.0L75.5 312.0L76.5 311.9L77.5 311.9L78.5 311.9L79.5 311.9L80.5 311.9L81.5 311.9L82.5 311.9L83.5 311.8L84.5 311.8L85.5 311.8L86.5 311.8L87.5 311.8L88.5 311.8L89.5 311.8L90.5 311.7L91.5 311.7L92.5 311.7L93.5 311.7L94.5 311.7L95.5 311.7L96.5 311.6L97.5 311.6L98.5 311.6L99.5 311.6L100.5 311.6L101.5 311.6L102.5 311.5L103.5 311.5L104.5 311.5L105.5 311.5L106.5 311.5L107.5 311.4L108.5 311.4L109.5 311.4L110.5 311.4L111.5 311.3L112.5 311.3L113.5 311.3L114.5 311.3L115.5 311.2L116.5 311.2L117.5 311.2L118.5 311.2L119.5 311.1L120.5 311.1L121.5 311.1L122.5 311.1L123.5 311.0L124.5 311.0L125.5 311.0L126.5 310.9L127.5 310.9L128.5 310.9L129.5 310.9L130.5 310.8L131.5 310.8L132.5 310.8L133.5 310.7L134.5 310.7L135.5 310.7L136.5 310.6L137.5 310.6L138.5 310.5L139.5 310.5L140.5 310.5L141.5 310.4L142.5 310.4L143.5 310.3L144.5 310.3L145.5 310.3L146.5 310.2L147.5 310.2L148.5 310.1L149.5 310.1L150.5 310.0L151.5 310.0L152.5 309.9L153.5 309.9L154.5 309.8L155.5 309.8L156.5 309.7L157.5 309.7L158.5 309.6L159.5 309.5L160.5 309.5L161.5 309.4L162.5 309.3L163.5 309.3L164.5 309.2L165.5 309.1L166.5 309.1L167.5 309.0L168.5 308.9L169.5 308.8L170.5 308.7L171.5 308.7L172.5 308.6L173.5 308.5L174.5 308.4L175.5 308.3L176.5 308.2L177.5 308.0L178.5 307.9L179.5 307.8L180.5 307.7L181.5 307.5L182.5 307.4L183.5 307.2L184.5 307.1L185.5 306.9L186.5 306.7L187.5 306.5L188.5 306.3L189.5 306.1L190.5 305.9L191.5 305.6L192.5 305.3L193.5 305.1L194.5 304.8L195.5 304.4L196.5 304.1L197.5 303.7L198.5 303.3L199.5 302.9L200.5 302.5L201.5 302.0L202.5 301.5L203.5 301.0L204.5 300.4L205.5 299.8L206.5 299.2L207.5 298.5L208.5 297.7L209.5 297.0L210.5 296.2L211.5 295.3L212.5 294.4L213.5 293.4L214.5 292.4L215.5 291.4L216.5 290.2L217.5 289.1L218.5 287.8L219.5 286.6L220.5 285.2L221.5 283.8L222.5 282.3L223.5 280.8L224.5 279.2L225.5 277.6L226.5 275.9L227.5 274.1L228.5 272.3L229.5 270.4L230.5 268.5L231.5 266.5L232.5 264.4L233.5 262.4L234.5 260.3L235.5 258.1L236.5 255.9L237.5 253.7L238.5 251.5L239.5 249.3L240.5 247.0L241.5 244.8L242.5 242.6L243.5 240.4L244.5 238.3L245.5 236.2L246.5 234.2L247.5 232.3L248.5 230.4L249.5 228.7L250.5 227.1L251.5 225.7L252.5 224.4L253.5 223.3L254.5 222.4L255.5 221.7L256.5 221.1L257.5 220.8L258.5 220.7L259.5 220.9L260.5 221.2L261.5 221.8L262.5 222.5L263.5 223.5L264.5 224.6L265.5 225.9L266.5 227.4L267.5 229.0L268.5 230.7L269.5 232.6L270.5 234.6L271.5 236.7L272.5 238.8L273.5 241.0L274.5 243.3L275.5 245.6L276.5 247.9L277.5 250.3L278.5 252.6L279.5 255.0L280.5 257.4L281.5 259.7L282.5 262.0L283.5 264.3L284.5 266.5L285.5 268.7L286.5 270.9L287.5 273.0L288.5 275.1L289.5 277.1L290.5 279.0L291.5 280.9L292.5 282.7L293.5 284.5L294.5 286.2L295.5 287.8L296.5 289.4L297.5 290.9L298.5 292.4L299.5 293.8L300.5 295.1L301.5 296.3L302.5 297.5L303.5 298.7L304.5 299.8L305.5 300.8L306.5 301.8L307.5 302.7L308.5 303.6L309.5 304.4L310.5 305.2L311.5 306.0L312.5 306.7L313.5 307.3L314.5 308.0L315.5 308.5L316.5 309.1L317.5 309.6L318.5 310.1L319.5 310.5L320.5 311.0L321.5 311.4L322.5 311.8L323.5 312.1L324.5 312.5L325.5 312.8L326.5 313.1L327.5 313.4L328.5 313.6L329.5 313.9L330.5 314.1L331.5 314.3L332.5 314.5L333.5 314.7L334.5 314.9L335.5 315.1L336.5 315.3L337.5 315.4L338.5 315.6L339.5 315.7L340.5 315.9L341.5 316.0L342.5 316.1L343.5 316.3L344.5 316.4L345.5 316.5L346.5 316.6L347.5 316.7L348.5 316.8L349.5 316.9L350.5 317.0L351.5 317.1L352.5 317.2L353.5 317.3L354.5 317.3L355.5 317.4L356.5 317.5L357.5 317.6L358.5 317.6L359.5 317.7L360.5 317.8L361.5 317.9L362.5 317.9L363.5 318.0L364.5 318.0L365.5 318.1L366.5 318.2L367.5 318.2L368.5 318.3L369.5 318.3L370.5 318.4L371.5 318.4L372.5 318.5L373.5 318.5L374.5 318.6L375.5 318.6L376.5 318.7L377.5 318.7L378.5 318.8L379.5 318.8L380.5 318.8L381.5 318.9L382.5 318.9L383.5 319.0L384.5 319.0L385.5 319.0L386.5 319.1L387.5 319.1L388.5 319.1L389.5 319.2L390.5 319.2L391.5 319.2L392.5 319.3L393.5 319.3L394.5 319.3L395.5 319.4L396.5 319.4L397.5 319.4L398.5 319.5L399.5 319.5L400.5 319.5L401.5 319.5L402.5 319.6L403.5 319.6L404.5 319.6L405.5 319.6L406.5 319.7L407.5 319.7L408.5 319.7L409.5 319.7L410.5 319.8L411.5 319.8" fill="none" stroke="#8a2be8" stroke-width="2.3"/></g><g clip-path="url(#ca2)"><path d="M43.0 470.3h0M46.1 470.5h0M49.2 470.3h0M52.3 469.5h0M55.4 469.6h0M58.5 469.2h0M61.5 468.2h0M64.6 469.0h0M67.7 468.4h0M70.8 468.9h0M73.9 468.2h0M77.0 468.7h0M80.1 468.1h0M83.2 467.9h0M86.3 467.7h0M89.4 466.8h0M92.4 465.7h0M95.5 466.1h0M98.6 463.8h0M101.7 463.7h0M104.8 463.4h0M107.9 461.6h0M111.0 461.2h0M114.1 458.9h0M117.2 457.6h0M120.3 456.8h0M123.3 455.1h0M126.4 453.4h0M129.5 450.3h0M132.6 448.1h0M135.7 445.6h0M138.8 442.5h0M141.9 438.0h0M145.0 435.0h0M148.1 432.6h0M151.2 426.7h0M154.2 423.8h0M157.3 418.5h0M160.4 414.9h0M163.5 408.8h0M166.6 404.5h0M169.7 398.1h0M172.8 394.6h0M175.9 390.7h0M179.0 384.4h0M182.1 382.2h0M185.1 377.2h0M188.2 374.6h0M191.3 370.1h0M194.4 370.9h0M197.5 368.6h0M200.6 369.0h0M203.7 369.7h0M206.8 371.8h0M209.9 375.3h0M213.0 375.9h0M216.0 378.2h0M219.1 378.1h0M222.2 378.2h0M225.3 376.5h0M228.4 375.2h0M231.5 373.9h0M234.6 369.2h0M237.7 365.4h0M240.8 360.9h0M243.9 358.6h0M246.9 356.3h0M250.0 353.0h0M253.1 353.6h0M256.2 358.2h0M259.3 360.4h0M262.4 364.8h0M265.5 370.6h0M268.6 377.3h0M271.7 383.9h0M274.8 390.3h0M277.8 399.1h0M280.9 404.8h0M284.0 411.1h0M287.1 417.9h0M290.2 424.4h0M293.3 430.1h0M296.4 435.5h0M299.5 440.8h0M302.6 442.7h0M305.7 448.4h0M308.7 453.1h0M311.8 456.0h0M314.9 457.9h0M318.0 460.4h0M321.1 463.8h0M324.2 464.7h0M327.3 466.1h0M330.4 469.3h0M333.5 469.0h0M336.6 470.8h0M339.6 471.3h0M342.7 472.2h0M345.8 472.3h0M348.9 473.0h0M352.0 475.1h0M355.1 474.0h0M358.2 475.5h0M361.3 474.9h0M364.4 476.1h0M367.5 476.6h0M370.5 475.9h0M373.6 478.2h0M376.7 477.6h0M379.8 478.9h0M382.9 477.7h0M386.0 479.2h0M389.1 480.5h0M392.2 479.3h0M395.3 478.9h0M398.4 479.9h0M401.4 479.9h0M404.5 479.9h0M407.6 480.1h0M410.7 480.0h0" stroke="#111" stroke-width="3.0" stroke-linecap="square" fill="none"/><path d="M41.5 466.7L42.5 466.6L43.5 466.6L44.5 466.6L45.5 466.5L46.5 466.5L47.5 466.5L48.5 466.4L49.5 466.4L50.5 466.4L51.5 466.3L52.5 466.3L53.5 466.2L54.5 466.2L55.5 466.2L56.5 466.1L57.5 466.1L58.5 466.0L59.5 466.0L60.5 465.9L61.5 465.9L62.5 465.8L63.5 465.8L64.5 465.7L65.5 465.7L66.5 465.6L67.5 465.6L68.5 465.5L69.5 465.5L70.5 465.4L71.5 465.3L72.5 465.3L73.5 465.2L74.5 465.1L75.5 465.1L76.5 465.0L77.5 464.9L78.5 464.9L79.5 464.8L80.5 464.7L81.5 464.6L82.5 464.5L83.5 464.5L84.5 464.4L85.5 464.3L86.5 464.2L87.5 464.1L88.5 464.0L89.5 463.9L90.5 463.8L91.5 463.7L92.5 463.5L93.5 463.4L94.5 463.3L95.5 463.2L96.5 463.0L97.5 462.9L98.5 462.7L99.5 462.6L100.5 462.4L101.5 462.2L102.5 462.0L103.5 461.8L104.5 461.6L105.5 461.4L106.5 461.2L107.5 461.0L108.5 460.7L109.5 460.5L110.5 460.2L111.5 459.9L112.5 459.7L113.5 459.4L114.5 459.0L115.5 458.7L116.5 458.3L117.5 458.0L118.5 457.6L119.5 457.2L120.5 456.8L121.5 456.3L122.5 455.8L123.5 455.4L124.5 454.9L125.5 454.3L126.5 453.8L127.5 453.2L128.5 452.6L129.5 451.9L130.5 451.3L131.5 450.6L132.5 449.9L133.5 449.1L134.5 448.4L135.5 447.6L136.5 446.7L137.5 445.9L138.5 445.0L139.5 444.0L140.5 443.1L141.5 442.1L142.5 441.0L143.5 440.0L144.5 438.9L145.5 437.8L146.5 436.6L147.5 435.4L148.5 434.2L149.5 432.9L150.5 431.6L151.5 430.3L152.5 428.9L153.5 427.5L154.5 426.1L155.5 424.7L156.5 423.2L157.5 421.7L158.5 420.2L159.5 418.6L160.5 417.1L161.5 415.5L162.5 413.9L163.5 412.3L164.5 410.6L165.5 409.0L166.5 407.3L167.5 405.6L168.5 404.0L169.5 402.3L170.5 400.6L171.5 399.0L172.5 397.3L173.5 395.7L174.5 394.0L175.5 392.4L176.5 390.8L177.5 389.3L178.5 387.7L179.5 386.2L180.5 384.8L181.5 383.3L182.5 382.0L183.5 380.7L184.5 379.4L185.5 378.2L186.5 377.0L187.5 375.9L188.5 374.9L189.5 374.0L190.5 373.1L191.5 372.3L192.5 371.5L193.5 370.9L194.5 370.3L195.5 369.8L196.5 369.4L197.5 369.2L198.5 369.1L199.5 369.2L200.5 369.4L201.5 369.7L202.5 370.1L203.5 370.6L204.5 371.2L205.5 371.8L206.5 372.5L207.5 373.1L208.5 373.8L209.5 374.5L210.5 375.2L211.5 375.8L212.5 376.4L213.5 376.9L214.5 377.3L215.5 377.7L216.5 378.0L217.5 378.1L218.5 378.2L219.5 378.2L220.5 378.1L221.5 377.9L222.5 377.6L223.5 377.2L224.5 376.7L225.5 376.1L226.5 375.3L227.5 374.5L228.5 373.6L229.5 372.7L230.5 371.6L231.5 370.5L232.5 369.3L233.5 368.1L234.5 366.8L235.5 365.5L236.5 364.2L237.5 363.0L238.5 361.7L239.5 360.5L240.5 359.3L241.5 358.2L242.5 357.2L243.5 356.3L244.5 355.5L245.5 354.9L246.5 354.5L247.5 354.2L248.5 354.1L249.5 354.2L250.5 354.5L251.5 355.1L252.5 355.8L253.5 356.6L254.5 357.7L255.5 358.8L256.5 360.1L257.5 361.5L258.5 363.1L259.5 364.8L260.5 366.6L261.5 368.4L262.5 370.4L263.5 372.5L264.5 374.7L265.5 376.9L266.5 379.2L267.5 381.5L268.5 383.9L269.5 386.3L270.5 388.7L271.5 391.1L272.5 393.6L273.5 396.0L274.5 398.5L275.5 400.9L276.5 403.3L277.5 405.7L278.5 408.1L279.5 410.4L280.5 412.7L281.5 415.0L282.5 417.2L283.5 419.4L284.5 421.5L285.5 423.6L286.5 425.6L287.5 427.6L288.5 429.6L289.5 431.4L290.5 433.3L291.5 435.0L292.5 436.7L293.5 438.4L294.5 440.0L295.5 441.5L296.5 443.0L297.5 444.5L298.5 445.9L299.5 447.2L300.5 448.5L301.5 449.7L302.5 450.8L303.5 452.0L304.5 453.0L305.5 454.1L306.5 455.0L307.5 456.0L308.5 456.9L309.5 457.7L310.5 458.5L311.5 459.3L312.5 460.0L313.5 460.7L314.5 461.4L315.5 462.0L316.5 462.6L317.5 463.2L318.5 463.7L319.5 464.3L320.5 464.8L321.5 465.2L322.5 465.7L323.5 466.1L324.5 466.5L325.5 466.9L326.5 467.2L327.5 467.6L328.5 467.9L329.5 468.2L330.5 468.5L331.5 468.8L332.5 469.1L333.5 469.3L334.5 469.6L335.5 469.8L336.5 470.0L337.5 470.2L338.5 470.4L339.5 470.6L340.5 470.8L341.5 471.0L342.5 471.2L343.5 471.4L344.5 471.5L345.5 471.7L346.5 471.8L347.5 472.0L348.5 472.1L349.5 472.3L350.5 472.4L351.5 472.5L352.5 472.7L353.5 472.8L354.5 472.9L355.5 473.0L356.5 473.1L357.5 473.2L358.5 473.3L359.5 473.5L360.5 473.6L361.5 473.7L362.5 473.8L363.5 473.8L364.5 473.9L365.5 474.0L366.5 474.1L367.5 474.2L368.5 474.3L369.5 474.4L370.5 474.4L371.5 474.5L372.5 474.6L373.5 474.7L374.5 474.8L375.5 474.8L376.5 474.9L377.5 475.0L378.5 475.0L379.5 475.1L380.5 475.2L381.5 475.2L382.5 475.3L383.5 475.4L384.5 475.4L385.5 475.5L386.5 475.5L387.5 475.6L388.5 475.6L389.5 475.7L390.5 475.8L391.5 475.8L392.5 475.9L393.5 475.9L394.5 476.0L395.5 476.0L396.5 476.1L397.5 476.1L398.5 476.2L399.5 476.2L400.5 476.2L401.5 476.3L402.5 476.3L403.5 476.4L404.5 476.4L405.5 476.5L406.5 476.5L407.5 476.5L408.5 476.6L409.5 476.6L410.5 476.7L411.5 476.7" fill="none" stroke="#e3222a" stroke-width="2.9"/><path d="M41.5 467.8L42.5 467.7L43.5 467.7L44.5 467.7L45.5 467.7L46.5 467.6L47.5 467.6L48.5 467.6L49.5 467.6L50.5 467.5L51.5 467.5L52.5 467.5L53.5 467.4L54.5 467.4L55.5 467.4L56.5 467.4L57.5 467.3L58.5 467.3L59.5 467.3L60.5 467.2L61.5 467.2L62.5 467.2L63.5 467.1L64.5 467.1L65.5 467.0L66.5 467.0L67.5 467.0L68.5 466.9L69.5 466.9L70.5 466.8L71.5 466.8L72.5 466.7L73.5 466.7L74.5 466.6L75.5 466.6L76.5 466.5L77.5 466.5L78.5 466.4L79.5 466.4L80.5 466.3L81.5 466.3L82.5 466.2L83.5 466.1L84.5 466.1L85.5 466.0L86.5 465.9L87.5 465.8L88.5 465.7L89.5 465.7L90.5 465.6L91.5 465.5L92.5 465.4L93.5 465.3L94.5 465.2L95.5 465.1L96.5 465.0L97.5 464.8L98.5 464.7L99.5 464.6L100.5 464.4L101.5 464.3L102.5 464.1L103.5 464.0L104.5 463.8L105.5 463.6L106.5 463.4L107.5 463.2L108.5 463.0L109.5 462.8L110.5 462.6L111.5 462.3L112.5 462.1L113.5 461.8L114.5 461.5L115.5 461.2L116.5 460.9L117.5 460.5L118.5 460.2L119.5 459.8L120.5 459.4L121.5 459.0L122.5 458.6L123.5 458.2L124.5 457.7L125.5 457.2L126.5 456.7L127.5 456.2L128.5 455.6L129.5 455.0L130.5 454.4L131.5 453.8L132.5 453.1L133.5 452.4L134.5 451.7L135.5 451.0L136.5 450.2L137.5 449.4L138.5 448.5L139.5 447.7L140.5 446.8L141.5 445.8L142.5 444.9L143.5 443.9L144.5 442.8L145.5 441.8L146.5 440.7L147.5 439.6L148.5 438.4L149.5 437.2L150.5 436.0L151.5 434.8L152.5 433.5L153.5 432.2L154.5 430.9L155.5 429.5L156.5 428.1L157.5 426.7L158.5 425.3L159.5 423.9L160.5 422.4L161.5 420.9L162.5 419.5L163.5 418.0L164.5 416.4L165.5 414.9L166.5 413.4L167.5 411.9L168.5 410.3L169.5 408.8L170.5 407.3L171.5 405.8L172.5 404.3L173.5 402.9L174.5 401.4L175.5 400.0L176.5 398.6L177.5 397.3L178.5 396.0L179.5 394.7L180.5 393.5L181.5 392.4L182.5 391.3L183.5 390.2L184.5 389.3L185.5 388.4L186.5 387.6L187.5 386.9L188.5 386.3L189.5 385.7L190.5 385.3L191.5 384.9L192.5 384.7L193.5 384.5L194.5 384.5L195.5 384.6L196.5 384.8L197.5 385.3L198.5 385.9L199.5 386.7L200.5 387.7L201.5 388.8L202.5 390.1L203.5 391.5L204.5 393.0L205.5 394.7L206.5 396.4L207.5 398.2L208.5 400.1L209.5 402.0L210.5 404.0L211.5 406.0L212.5 408.0L213.5 410.0L214.5 412.0L215.5 414.0L216.5 415.9L217.5 417.9L218.5 419.8L219.5 421.7L220.5 423.5L221.5 425.3L222.5 427.1L223.5 428.8L224.5 430.5L225.5 432.1L226.5 433.7L227.5 435.2L228.5 436.7L229.5 438.1L230.5 439.5L231.5 440.8L232.5 442.1L233.5 443.4L234.5 444.6L235.5 445.8L236.5 446.9L237.5 448.0L238.5 449.0L239.5 450.0L240.5 451.0L241.5 451.9L242.5 452.8L243.5 453.7L244.5 454.5L245.5 455.3L246.5 456.1L247.5 456.8L248.5 457.5L249.5 458.2L250.5 458.9L251.5 459.5L252.5 460.1L253.5 460.7L254.5 461.3L255.5 461.8L256.5 462.3L257.5 462.9L258.5 463.3L259.5 463.8L260.5 464.3L261.5 464.7L262.5 465.1L263.5 465.5L264.5 465.9L265.5 466.3L266.5 466.6L267.5 467.0L268.5 467.3L269.5 467.6L270.5 468.0L271.5 468.3L272.5 468.6L273.5 468.8L274.5 469.1L275.5 469.4L276.5 469.6L277.5 469.9L278.5 470.1L279.5 470.3L280.5 470.6L281.5 470.8L282.5 471.0L283.5 471.2L284.5 471.4L285.5 471.6L286.5 471.7L287.5 471.9L288.5 472.1L289.5 472.3L290.5 472.4L291.5 472.6L292.5 472.7L293.5 472.9L294.5 473.0L295.5 473.2L296.5 473.3L297.5 473.4L298.5 473.5L299.5 473.7L300.5 473.8L301.5 473.9L302.5 474.0L303.5 474.1L304.5 474.2L305.5 474.3L306.5 474.4L307.5 474.5L308.5 474.6L309.5 474.7L310.5 474.8L311.5 474.9L312.5 475.0L313.5 475.1L314.5 475.2L315.5 475.2L316.5 475.3L317.5 475.4L318.5 475.5L319.5 475.5L320.5 475.6L321.5 475.7L322.5 475.7L323.5 475.8L324.5 475.9L325.5 475.9L326.5 476.0L327.5 476.1L328.5 476.1L329.5 476.2L330.5 476.2L331.5 476.3L332.5 476.3L333.5 476.4L334.5 476.4L335.5 476.5L336.5 476.5L337.5 476.6L338.5 476.6L339.5 476.7L340.5 476.7L341.5 476.8L342.5 476.8L343.5 476.9L344.5 476.9L345.5 477.0L346.5 477.0L347.5 477.0L348.5 477.1L349.5 477.1L350.5 477.2L351.5 477.2L352.5 477.2L353.5 477.3L354.5 477.3L355.5 477.3L356.5 477.4L357.5 477.4L358.5 477.4L359.5 477.5L360.5 477.5L361.5 477.5L362.5 477.6L363.5 477.6L364.5 477.6L365.5 477.6L366.5 477.7L367.5 477.7L368.5 477.7L369.5 477.8L370.5 477.8L371.5 477.8L372.5 477.8L373.5 477.9L374.5 477.9L375.5 477.9L376.5 477.9L377.5 478.0L378.5 478.0L379.5 478.0L380.5 478.0L381.5 478.1L382.5 478.1L383.5 478.1L384.5 478.1L385.5 478.1L386.5 478.2L387.5 478.2L388.5 478.2L389.5 478.2L390.5 478.2L391.5 478.3L392.5 478.3L393.5 478.3L394.5 478.3L395.5 478.3L396.5 478.4L397.5 478.4L398.5 478.4L399.5 478.4L400.5 478.4L401.5 478.4L402.5 478.5L403.5 478.5L404.5 478.5L405.5 478.5L406.5 478.5L407.5 478.5L408.5 478.6L409.5 478.6L410.5 478.6L411.5 478.6" fill="none" stroke="#8a2be8" stroke-width="2.3"/><path d="M41.5 468.7L42.5 468.7L43.5 468.7L44.5 468.7L45.5 468.7L46.5 468.7L47.5 468.7L48.5 468.7L49.5 468.6L50.5 468.6L51.5 468.6L52.5 468.6L53.5 468.6L54.5 468.6L55.5 468.6L56.5 468.6L57.5 468.6L58.5 468.6L59.5 468.5L60.5 468.5L61.5 468.5L62.5 468.5L63.5 468.5L64.5 468.5L65.5 468.5L66.5 468.5L67.5 468.5L68.5 468.4L69.5 468.4L70.5 468.4L71.5 468.4L72.5 468.4L73.5 468.4L74.5 468.4L75.5 468.4L76.5 468.3L77.5 468.3L78.5 468.3L79.5 468.3L80.5 468.3L81.5 468.3L82.5 468.3L83.5 468.2L84.5 468.2L85.5 468.2L86.5 468.2L87.5 468.2L88.5 468.2L89.5 468.1L90.5 468.1L91.5 468.1L92.5 468.1L93.5 468.1L94.5 468.0L95.5 468.0L96.5 468.0L97.5 468.0L98.5 468.0L99.5 467.9L100.5 467.9L101.5 467.9L102.5 467.9L103.5 467.9L104.5 467.8L105.5 467.8L106.5 467.8L107.5 467.8L108.5 467.7L109.5 467.7L110.5 467.7L111.5 467.7L112.5 467.6L113.5 467.6L114.5 467.6L115.5 467.6L116.5 467.5L117.5 467.5L118.5 467.5L119.5 467.4L120.5 467.4L121.5 467.4L122.5 467.4L123.5 467.3L124.5 467.3L125.5 467.3L126.5 467.2L127.5 467.2L128.5 467.2L129.5 467.1L130.5 467.1L131.5 467.0L132.5 467.0L133.5 467.0L134.5 466.9L135.5 466.9L136.5 466.8L137.5 466.8L138.5 466.8L139.5 466.7L140.5 466.7L141.5 466.6L142.5 466.6L143.5 466.5L144.5 466.5L145.5 466.4L146.5 466.4L147.5 466.3L148.5 466.3L149.5 466.2L150.5 466.2L151.5 466.1L152.5 466.1L153.5 466.0L154.5 465.9L155.5 465.9L156.5 465.8L157.5 465.7L158.5 465.7L159.5 465.6L160.5 465.5L161.5 465.5L162.5 465.4L163.5 465.3L164.5 465.2L165.5 465.1L166.5 465.0L167.5 464.9L168.5 464.8L169.5 464.7L170.5 464.6L171.5 464.5L172.5 464.4L173.5 464.2L174.5 464.1L175.5 464.0L176.5 463.8L177.5 463.6L178.5 463.5L179.5 463.3L180.5 463.1L181.5 462.9L182.5 462.7L183.5 462.4L184.5 462.2L185.5 461.9L186.5 461.6L187.5 461.3L188.5 461.0L189.5 460.6L190.5 460.3L191.5 459.9L192.5 459.4L193.5 459.0L194.5 458.5L195.5 458.0L196.5 457.4L197.5 456.9L198.5 456.2L199.5 455.6L200.5 454.9L201.5 454.1L202.5 453.3L203.5 452.5L204.5 451.6L205.5 450.6L206.5 449.6L207.5 448.5L208.5 447.4L209.5 446.3L210.5 445.0L211.5 443.7L212.5 442.3L213.5 440.9L214.5 439.4L215.5 437.9L216.5 436.2L217.5 434.5L218.5 432.8L219.5 431.0L220.5 429.1L221.5 427.1L222.5 425.1L223.5 423.1L224.5 420.9L225.5 418.8L226.5 416.5L227.5 414.3L228.5 411.9L229.5 409.6L230.5 407.2L231.5 404.8L232.5 402.4L233.5 400.0L234.5 397.6L235.5 395.3L236.5 392.9L237.5 390.6L238.5 388.4L239.5 386.2L240.5 384.2L241.5 382.2L242.5 380.4L243.5 378.7L244.5 377.2L245.5 375.9L246.5 374.7L247.5 373.8L248.5 373.1L249.5 372.6L250.5 372.3L251.5 372.3L252.5 372.5L253.5 372.8L254.5 373.4L255.5 374.1L256.5 374.9L257.5 375.9L258.5 377.0L259.5 378.3L260.5 379.7L261.5 381.3L262.5 382.9L263.5 384.7L264.5 386.5L265.5 388.4L266.5 390.4L267.5 392.5L268.5 394.6L269.5 396.7L270.5 398.9L271.5 401.1L272.5 403.3L273.5 405.5L274.5 407.7L275.5 409.9L276.5 412.1L277.5 414.3L278.5 416.5L279.5 418.7L280.5 420.8L281.5 422.9L282.5 425.0L283.5 427.0L284.5 429.0L285.5 430.9L286.5 432.8L287.5 434.6L288.5 436.4L289.5 438.2L290.5 439.9L291.5 441.5L292.5 443.1L293.5 444.6L294.5 446.1L295.5 447.6L296.5 448.9L297.5 450.3L298.5 451.5L299.5 452.8L300.5 453.9L301.5 455.1L302.5 456.2L303.5 457.2L304.5 458.2L305.5 459.1L306.5 460.0L307.5 460.9L308.5 461.7L309.5 462.4L310.5 463.2L311.5 463.9L312.5 464.5L313.5 465.2L314.5 465.8L315.5 466.3L316.5 466.8L317.5 467.4L318.5 467.8L319.5 468.3L320.5 468.7L321.5 469.1L322.5 469.5L323.5 469.9L324.5 470.2L325.5 470.5L326.5 470.8L327.5 471.1L328.5 471.4L329.5 471.7L330.5 471.9L331.5 472.2L332.5 472.4L333.5 472.6L334.5 472.8L335.5 473.0L336.5 473.2L337.5 473.3L338.5 473.5L339.5 473.7L340.5 473.8L341.5 474.0L342.5 474.1L343.5 474.2L344.5 474.4L345.5 474.5L346.5 474.6L347.5 474.7L348.5 474.8L349.5 474.9L350.5 475.0L351.5 475.1L352.5 475.2L353.5 475.3L354.5 475.4L355.5 475.5L356.5 475.6L357.5 475.7L358.5 475.7L359.5 475.8L360.5 475.9L361.5 476.0L362.5 476.0L363.5 476.1L364.5 476.2L365.5 476.2L366.5 476.3L367.5 476.4L368.5 476.4L369.5 476.5L370.5 476.5L371.5 476.6L372.5 476.6L373.5 476.7L374.5 476.7L375.5 476.8L376.5 476.8L377.5 476.9L378.5 476.9L379.5 477.0L380.5 477.0L381.5 477.1L382.5 477.1L383.5 477.2L384.5 477.2L385.5 477.2L386.5 477.3L387.5 477.3L388.5 477.4L389.5 477.4L390.5 477.4L391.5 477.5L392.5 477.5L393.5 477.5L394.5 477.6L395.5 477.6L396.5 477.6L397.5 477.7L398.5 477.7L399.5 477.7L400.5 477.8L401.5 477.8L402.5 477.8L403.5 477.9L404.5 477.9L405.5 477.9L406.5 477.9L407.5 478.0L408.5 478.0L409.5 478.0L410.5 478.1L411.5 478.1" fill="none" stroke="#8a2be8" stroke-width="2.3"/></g><g clip-path="url(#cb0)"><path d="M466.5 141.2h0M469.1 140.5h0M471.8 140.1h0M474.4 141.1h0M477.1 140.2h0M479.7 141.9h0M482.4 139.6h0M485.0 138.9h0M487.7 138.6h0M490.3 138.8h0M493.0 137.5h0M495.6 136.5h0M498.3 137.8h0M500.9 135.0h0M503.6 136.1h0M506.2 134.1h0M508.9 132.2h0M511.5 133.0h0M514.2 130.4h0M516.8 128.5h0M519.5 127.8h0M522.1 127.2h0M524.8 125.1h0M527.4 123.6h0M530.1 122.6h0M532.7 119.8h0M535.4 118.2h0M538.0 116.1h0M540.7 113.6h0M543.3 112.9h0M546.0 112.6h0M548.6 108.9h0M551.3 109.7h0M553.9 107.9h0M556.6 106.1h0M559.2 106.1h0M561.9 106.8h0M564.5 104.8h0M567.2 105.7h0M569.8 106.1h0M572.5 105.1h0M575.1 106.8h0M577.8 107.6h0M580.4 108.0h0M583.1 110.0h0M585.7 110.6h0M588.4 112.0h0M591.0 113.1h0M593.7 115.9h0M596.3 117.1h0M599.0 118.8h0M601.6 120.1h0M604.3 121.7h0M606.9 123.7h0M609.6 126.4h0M612.2 126.9h0M614.9 130.0h0M617.5 130.6h0M620.2 131.7h0M622.8 131.9h0M625.5 135.1h0M628.1 133.6h0M630.8 135.8h0M633.4 137.2h0M636.1 136.4h0M638.7 136.4h0M641.4 137.0h0M644.0 137.7h0M646.7 137.9h0M649.3 137.1h0M652.0 135.5h0M654.6 135.3h0M657.3 135.3h0M659.9 133.5h0M662.6 133.4h0M665.2 134.1h0M667.9 130.7h0M670.5 131.0h0M673.2 128.0h0M675.8 126.6h0M678.5 124.6h0M681.1 120.9h0M683.8 118.8h0M686.4 116.0h0M689.1 111.3h0M691.7 106.3h0M694.4 99.6h0M697.0 93.8h0M699.7 87.3h0M702.3 80.4h0M705.0 73.4h0M707.6 64.3h0M710.3 58.8h0M712.9 50.7h0M715.6 44.9h0M718.2 39.7h0M720.9 37.5h0M723.5 36.5h0M726.2 37.0h0M728.8 41.3h0M731.5 47.3h0M734.1 54.1h0M736.8 63.1h0M739.4 70.5h0M742.1 80.6h0M744.7 88.3h0M747.4 96.6h0M750.0 102.5h0M752.7 110.6h0M755.3 116.5h0M758.0 122.5h0M760.6 125.7h0M763.3 131.5h0M765.9 133.3h0M768.6 138.0h0M771.2 140.0h0M773.9 141.2h0M776.5 145.0h0M779.2 144.2h0M781.8 146.3h0M784.5 147.7h0M787.1 148.9h0M789.8 149.5h0M792.4 150.7h0M795.1 151.1h0M797.7 151.4h0M800.4 151.3h0M803.0 152.1h0M805.7 153.5h0M808.3 152.4h0M811.0 153.7h0M813.6 152.5h0M816.3 153.8h0M818.9 153.5h0M821.6 155.8h0M824.2 153.9h0M826.9 155.3h0M829.5 156.2h0M832.2 156.3h0" stroke="#111" stroke-width="3.0" stroke-linecap="square" fill="none"/><path d="M465.0 141.2L466.0 141.1L467.0 141.1L468.0 141.1L469.0 141.1L470.0 141.1L471.0 141.0L472.0 141.0L473.0 141.0L474.0 140.9L475.0 140.9L476.0 140.9L477.0 140.8L478.0 140.8L479.0 140.7L480.0 140.7L481.0 140.6L482.0 140.5L483.0 140.4L484.0 140.4L485.0 140.3L486.0 140.2L487.0 140.1L488.0 140.0L489.0 139.9L490.0 139.7L491.0 139.6L492.0 139.5L493.0 139.3L494.0 139.2L495.0 139.0L496.0 138.8L497.0 138.6L498.0 138.4L499.0 138.2L500.0 138.0L501.0 137.7L502.0 137.5L503.0 137.2L504.0 137.0L505.0 136.7L506.0 136.4L507.0 136.1L508.0 135.8L509.0 135.4L510.0 135.1L511.0 134.7L512.0 134.3L513.0 133.9L514.0 133.5L515.0 133.1L516.0 132.6L517.0 132.2L518.0 131.7L519.0 131.2L520.0 130.7L521.0 130.2L522.0 129.7L523.0 129.1L524.0 128.6L525.0 128.0L526.0 127.4L527.0 126.8L528.0 126.2L529.0 125.6L530.0 125.0L531.0 124.3L532.0 123.7L533.0 123.1L534.0 122.4L535.0 121.7L536.0 121.1L537.0 120.4L538.0 119.7L539.0 119.1L540.0 118.4L541.0 117.7L542.0 117.1L543.0 116.4L544.0 115.7L545.0 115.1L546.0 114.4L547.0 113.8L548.0 113.2L549.0 112.6L550.0 112.0L551.0 111.4L552.0 110.8L553.0 110.3L554.0 109.8L555.0 109.3L556.0 108.8L557.0 108.3L558.0 107.9L559.0 107.5L560.0 107.1L561.0 106.8L562.0 106.5L563.0 106.2L564.0 105.9L565.0 105.7L566.0 105.5L567.0 105.4L568.0 105.3L569.0 105.2L570.0 105.2L571.0 105.2L572.0 105.2L573.0 105.3L574.0 105.4L575.0 105.5L576.0 105.7L577.0 105.9L578.0 106.1L579.0 106.4L580.0 106.7L581.0 107.1L582.0 107.5L583.0 107.9L584.0 108.3L585.0 108.8L586.0 109.2L587.0 109.8L588.0 110.3L589.0 110.8L590.0 111.4L591.0 112.0L592.0 112.6L593.0 113.2L594.0 113.9L595.0 114.5L596.0 115.2L597.0 115.9L598.0 116.5L599.0 117.2L600.0 117.9L601.0 118.6L602.0 119.3L603.0 119.9L604.0 120.6L605.0 121.3L606.0 122.0L607.0 122.7L608.0 123.3L609.0 124.0L610.0 124.6L611.0 125.3L612.0 125.9L613.0 126.5L614.0 127.1L615.0 127.7L616.0 128.3L617.0 128.9L618.0 129.4L619.0 130.0L620.0 130.5L621.0 131.0L622.0 131.5L623.0 132.0L624.0 132.4L625.0 132.9L626.0 133.3L627.0 133.7L628.0 134.1L629.0 134.5L630.0 134.8L631.0 135.2L632.0 135.5L633.0 135.8L634.0 136.1L635.0 136.3L636.0 136.6L637.0 136.8L638.0 137.0L639.0 137.2L640.0 137.4L641.0 137.6L642.0 137.7L643.0 137.9L644.0 138.0L645.0 138.1L646.0 138.2L647.0 138.3L648.0 138.3L649.0 138.4L650.0 138.4L651.0 138.4L652.0 138.4L653.0 138.3L654.0 138.3L655.0 138.2L656.0 138.1L657.0 138.0L658.0 137.9L659.0 137.7L660.0 137.5L661.0 137.3L662.0 137.1L663.0 136.8L664.0 136.5L665.0 136.2L666.0 135.8L667.0 135.4L668.0 135.0L669.0 134.5L670.0 134.0L671.0 133.4L672.0 132.7L673.0 132.1L674.0 131.3L675.0 130.5L676.0 129.6L677.0 128.7L678.0 127.7L679.0 126.6L680.0 125.4L681.0 124.2L682.0 122.9L683.0 121.5L684.0 120.0L685.0 118.4L686.0 116.7L687.0 115.0L688.0 113.1L689.0 111.1L690.0 109.1L691.0 106.9L692.0 104.7L693.0 102.3L694.0 99.9L695.0 97.4L696.0 94.8L697.0 92.2L698.0 89.4L699.0 86.6L700.0 83.8L701.0 80.8L702.0 77.9L703.0 74.9L704.0 71.9L705.0 68.9L706.0 66.0L707.0 63.0L708.0 60.1L709.0 57.3L710.0 54.6L711.0 51.9L712.0 49.4L713.0 47.1L714.0 44.9L715.0 43.0L716.0 41.2L717.0 39.8L718.0 38.5L719.0 37.6L720.0 37.0L721.0 36.7L722.0 36.7L723.0 37.0L724.0 37.7L725.0 38.8L726.0 40.3L727.0 42.1L728.0 44.2L729.0 46.6L730.0 49.2L731.0 52.1L732.0 55.1L733.0 58.2L734.0 61.5L735.0 64.8L736.0 68.2L737.0 71.7L738.0 75.1L739.0 78.5L740.0 81.9L741.0 85.2L742.0 88.5L743.0 91.7L744.0 94.8L745.0 97.8L746.0 100.8L747.0 103.6L748.0 106.3L749.0 108.9L750.0 111.5L751.0 113.9L752.0 116.2L753.0 118.4L754.0 120.4L755.0 122.4L756.0 124.3L757.0 126.1L758.0 127.8L759.0 129.4L760.0 130.9L761.0 132.3L762.0 133.6L763.0 134.9L764.0 136.0L765.0 137.1L766.0 138.2L767.0 139.1L768.0 140.1L769.0 140.9L770.0 141.7L771.0 142.5L772.0 143.2L773.0 143.8L774.0 144.4L775.0 145.0L776.0 145.6L777.0 146.1L778.0 146.6L779.0 147.0L780.0 147.4L781.0 147.9L782.0 148.2L783.0 148.6L784.0 148.9L785.0 149.3L786.0 149.6L787.0 149.9L788.0 150.1L789.0 150.4L790.0 150.7L791.0 150.9L792.0 151.2L793.0 151.4L794.0 151.6L795.0 151.8L796.0 152.0L797.0 152.2L798.0 152.4L799.0 152.6L800.0 152.7L801.0 152.9L802.0 153.1L803.0 153.2L804.0 153.4L805.0 153.5L806.0 153.7L807.0 153.8L808.0 154.0L809.0 154.1L810.0 154.2L811.0 154.3L812.0 154.5L813.0 154.6L814.0 154.7L815.0 154.8L816.0 154.9L817.0 155.0L818.0 155.1L819.0 155.2L820.0 155.3L821.0 155.4L822.0 155.5L823.0 155.6L824.0 155.7L825.0 155.8L826.0 155.9L827.0 156.0L828.0 156.1L829.0 156.1L830.0 156.2L831.0 156.3L832.0 156.4L833.0 156.5L834.0 156.5L835.0 156.6" fill="none" stroke="#e3222a" stroke-width="2.9"/><path d="M465.0 142.3L466.0 142.3L467.0 142.3L468.0 142.3L469.0 142.4L470.0 142.4L471.0 142.4L472.0 142.4L473.0 142.4L474.0 142.4L475.0 142.5L476.0 142.5L477.0 142.5L478.0 142.5L479.0 142.5L480.0 142.5L481.0 142.6L482.0 142.6L483.0 142.6L484.0 142.6L485.0 142.6L486.0 142.6L487.0 142.7L488.0 142.7L489.0 142.7L490.0 142.7L491.0 142.7L492.0 142.8L493.0 142.8L494.0 142.8L495.0 142.8L496.0 142.8L497.0 142.8L498.0 142.9L499.0 142.9L500.0 142.9L501.0 142.9L502.0 142.9L503.0 143.0L504.0 143.0L505.0 143.0L506.0 143.0L507.0 143.0L508.0 143.0L509.0 143.1L510.0 143.1L511.0 143.1L512.0 143.1L513.0 143.1L514.0 143.2L515.0 143.2L516.0 143.2L517.0 143.2L518.0 143.2L519.0 143.3L520.0 143.3L521.0 143.3L522.0 143.3L523.0 143.3L524.0 143.4L525.0 143.4L526.0 143.4L527.0 143.4L528.0 143.4L529.0 143.5L530.0 143.5L531.0 143.5L532.0 143.5L533.0 143.5L534.0 143.6L535.0 143.6L536.0 143.6L537.0 143.6L538.0 143.7L539.0 143.7L540.0 143.7L541.0 143.7L542.0 143.8L543.0 143.8L544.0 143.8L545.0 143.8L546.0 143.8L547.0 143.9L548.0 143.9L549.0 143.9L550.0 143.9L551.0 144.0L552.0 144.0L553.0 144.0L554.0 144.0L555.0 144.1L556.0 144.1L557.0 144.1L558.0 144.2L559.0 144.2L560.0 144.2L561.0 144.2L562.0 144.3L563.0 144.3L564.0 144.3L565.0 144.3L566.0 144.4L567.0 144.4L568.0 144.4L569.0 144.4L570.0 144.5L571.0 144.5L572.0 144.5L573.0 144.6L574.0 144.6L575.0 144.6L576.0 144.6L577.0 144.7L578.0 144.7L579.0 144.7L580.0 144.7L581.0 144.8L582.0 144.8L583.0 144.8L584.0 144.8L585.0 144.9L586.0 144.9L587.0 144.9L588.0 145.0L589.0 145.0L590.0 145.0L591.0 145.0L592.0 145.1L593.0 145.1L594.0 145.1L595.0 145.1L596.0 145.2L597.0 145.2L598.0 145.2L599.0 145.2L600.0 145.3L601.0 145.3L602.0 145.3L603.0 145.3L604.0 145.4L605.0 145.4L606.0 145.4L607.0 145.4L608.0 145.5L609.0 145.5L610.0 145.5L611.0 145.5L612.0 145.6L613.0 145.6L614.0 145.6L615.0 145.6L616.0 145.7L617.0 145.7L618.0 145.7L619.0 145.7L620.0 145.7L621.0 145.8L622.0 145.8L623.0 145.8L624.0 145.8L625.0 145.9L626.0 145.9L627.0 145.9L628.0 145.9L629.0 146.0L630.0 146.0L631.0 146.0L632.0 146.0L633.0 146.1L634.0 146.1L635.0 146.1L636.0 146.1L637.0 146.1L638.0 146.2L639.0 146.2L640.0 146.2L641.0 146.2L642.0 146.3L643.0 146.3L644.0 146.3L645.0 146.3L646.0 146.4L647.0 146.4L648.0 146.4L649.0 146.4L650.0 146.5L651.0 146.5L652.0 146.5L653.0 146.5L654.0 146.6L655.0 146.6L656.0 146.6L657.0 146.6L658.0 146.7L659.0 146.7L660.0 146.7L661.0 146.8L662.0 146.8L663.0 146.8L664.0 146.8L665.0 146.9L666.0 146.9L667.0 146.9L668.0 147.0L669.0 147.0L670.0 147.0L671.0 147.1L672.0 147.1L673.0 147.1L674.0 147.2L675.0 147.2L676.0 147.3L677.0 147.3L678.0 147.4L679.0 147.4L680.0 147.5L681.0 147.5L682.0 147.6L683.0 147.6L684.0 147.7L685.0 147.7L686.0 147.8L687.0 147.8L688.0 147.9L689.0 148.0L690.0 148.1L691.0 148.1L692.0 148.2L693.0 148.3L694.0 148.4L695.0 148.5L696.0 148.6L697.0 148.7L698.0 148.8L699.0 148.9L700.0 149.0L701.0 149.1L702.0 149.2L703.0 149.4L704.0 149.5L705.0 149.6L706.0 149.8L707.0 149.9L708.0 150.1L709.0 150.2L710.0 150.4L711.0 150.6L712.0 150.7L713.0 150.9L714.0 151.1L715.0 151.3L716.0 151.4L717.0 151.6L718.0 151.8L719.0 152.0L720.0 152.2L721.0 152.4L722.0 152.6L723.0 152.8L724.0 153.0L725.0 153.2L726.0 153.4L727.0 153.5L728.0 153.7L729.0 153.9L730.0 154.1L731.0 154.3L732.0 154.4L733.0 154.6L734.0 154.8L735.0 154.9L736.0 155.1L737.0 155.2L738.0 155.4L739.0 155.5L740.0 155.7L741.0 155.8L742.0 155.9L743.0 156.0L744.0 156.1L745.0 156.3L746.0 156.4L747.0 156.5L748.0 156.6L749.0 156.6L750.0 156.7L751.0 156.8L752.0 156.9L753.0 157.0L754.0 157.1L755.0 157.1L756.0 157.2L757.0 157.3L758.0 157.3L759.0 157.4L760.0 157.4L761.0 157.5L762.0 157.6L763.0 157.6L764.0 157.7L765.0 157.7L766.0 157.8L767.0 157.8L768.0 157.8L769.0 157.9L770.0 157.9L771.0 158.0L772.0 158.0L773.0 158.0L774.0 158.1L775.0 158.1L776.0 158.2L777.0 158.2L778.0 158.2L779.0 158.3L780.0 158.3L781.0 158.3L782.0 158.4L783.0 158.4L784.0 158.4L785.0 158.5L786.0 158.5L787.0 158.5L788.0 158.5L789.0 158.6L790.0 158.6L791.0 158.6L792.0 158.7L793.0 158.7L794.0 158.7L795.0 158.7L796.0 158.8L797.0 158.8L798.0 158.8L799.0 158.8L800.0 158.9L801.0 158.9L802.0 158.9L803.0 158.9L804.0 159.0L805.0 159.0L806.0 159.0L807.0 159.0L808.0 159.1L809.0 159.1L810.0 159.1L811.0 159.1L812.0 159.2L813.0 159.2L814.0 159.2L815.0 159.2L816.0 159.3L817.0 159.3L818.0 159.3L819.0 159.3L820.0 159.3L821.0 159.4L822.0 159.4L823.0 159.4L824.0 159.4L825.0 159.5L826.0 159.5L827.0 159.5L828.0 159.5L829.0 159.5L830.0 159.6L831.0 159.6L832.0 159.6L833.0 159.6L834.0 159.6L835.0 159.7" fill="none" stroke="#1a1ad6" stroke-width="2.1"/><path d="M465.0 142.2L466.0 142.2L467.0 142.2L468.0 142.3L469.0 142.3L470.0 142.3L471.0 142.3L472.0 142.3L473.0 142.3L474.0 142.3L475.0 142.2L476.0 142.2L477.0 142.2L478.0 142.2L479.0 142.2L480.0 142.1L481.0 142.1L482.0 142.0L483.0 141.9L484.0 141.8L485.0 141.7L486.0 141.6L487.0 141.5L488.0 141.4L489.0 141.2L490.0 141.0L491.0 140.8L492.0 140.6L493.0 140.4L494.0 140.2L495.0 140.0L496.0 139.7L497.0 139.5L498.0 139.2L499.0 139.0L500.0 138.7L501.0 138.5L502.0 138.2L503.0 137.9L504.0 137.6L505.0 137.4L506.0 137.1L507.0 136.8L508.0 136.4L509.0 136.1L510.0 135.7L511.0 135.4L512.0 135.0L513.0 134.6L514.0 134.2L515.0 133.8L516.0 133.4L517.0 132.9L518.0 132.4L519.0 132.0L520.0 131.5L521.0 131.0L522.0 130.4L523.0 129.9L524.0 129.4L525.0 128.8L526.0 128.2L527.0 127.6L528.0 127.0L529.0 126.4L530.0 125.8L531.0 125.2L532.0 124.6L533.0 123.9L534.0 123.3L535.0 122.6L536.0 122.0L537.0 121.3L538.0 120.6L539.0 120.0L540.0 119.3L541.0 118.7L542.0 118.0L543.0 117.3L544.0 116.7L545.0 116.1L546.0 115.4L547.0 114.8L548.0 114.2L549.0 113.6L550.0 113.0L551.0 112.5L552.0 111.9L553.0 111.4L554.0 110.9L555.0 110.4L556.0 109.9L557.0 109.5L558.0 109.0L559.0 108.7L560.0 108.3L561.0 108.0L562.0 107.7L563.0 107.4L564.0 107.2L565.0 107.0L566.0 106.8L567.0 106.7L568.0 106.6L569.0 106.5L570.0 106.5L571.0 106.5L572.0 106.5L573.0 106.6L574.0 106.8L575.0 106.9L576.0 107.1L577.0 107.3L578.0 107.6L579.0 107.9L580.0 108.2L581.0 108.6L582.0 109.0L583.0 109.4L584.0 109.9L585.0 110.4L586.0 110.9L587.0 111.4L588.0 112.0L589.0 112.6L590.0 113.2L591.0 113.8L592.0 114.4L593.0 115.1L594.0 115.7L595.0 116.4L596.0 117.1L597.0 117.8L598.0 118.5L599.0 119.2L600.0 119.9L601.0 120.6L602.0 121.4L603.0 122.1L604.0 122.8L605.0 123.5L606.0 124.2L607.0 124.9L608.0 125.6L609.0 126.3L610.0 127.0L611.0 127.7L612.0 128.4L613.0 129.0L614.0 129.7L615.0 130.3L616.0 131.0L617.0 131.6L618.0 132.2L619.0 132.8L620.0 133.4L621.0 133.9L622.0 134.5L623.0 135.0L624.0 135.5L625.0 136.0L626.0 136.5L627.0 137.0L628.0 137.4L629.0 137.9L630.0 138.3L631.0 138.7L632.0 139.1L633.0 139.5L634.0 139.8L635.0 140.2L636.0 140.5L637.0 140.9L638.0 141.2L639.0 141.5L640.0 141.8L641.0 142.1L642.0 142.4L643.0 142.7L644.0 143.0L645.0 143.3L646.0 143.6L647.0 143.9L648.0 144.1L649.0 144.4L650.0 144.6L651.0 144.9L652.0 145.1L653.0 145.3L654.0 145.5L655.0 145.6L656.0 145.8L657.0 145.9L658.0 146.0L659.0 146.2L660.0 146.3L661.0 146.4L662.0 146.4L663.0 146.5L664.0 146.6L665.0 146.7L666.0 146.7L667.0 146.8L668.0 146.8L669.0 146.9L670.0 146.9L671.0 147.0L672.0 147.0L673.0 147.1L674.0 147.1L675.0 147.2L676.0 147.2L677.0 147.3L678.0 147.3L679.0 147.4L680.0 147.4L681.0 147.5L682.0 147.5L683.0 147.6L684.0 147.6L685.0 147.7L686.0 147.8L687.0 147.8L688.0 147.9L689.0 148.0L690.0 148.0L691.0 148.1L692.0 148.2L693.0 148.3L694.0 148.4L695.0 148.5L696.0 148.6L697.0 148.7L698.0 148.8L699.0 148.9L700.0 149.0L701.0 149.1L702.0 149.2L703.0 149.4L704.0 149.5L705.0 149.6L706.0 149.8L707.0 149.9L708.0 150.1L709.0 150.2L710.0 150.4L711.0 150.5L712.0 150.7L713.0 150.9L714.0 151.1L715.0 151.2L716.0 151.4L717.0 151.6L718.0 151.8L719.0 152.0L720.0 152.2L721.0 152.4L722.0 152.6L723.0 152.8L724.0 153.0L725.0 153.2L726.0 153.4L727.0 153.5L728.0 153.7L729.0 153.9L730.0 154.1L731.0 154.3L732.0 154.4L733.0 154.6L734.0 154.8L735.0 154.9L736.0 155.1L737.0 155.2L738.0 155.4L739.0 155.5L740.0 155.7L741.0 155.8L742.0 155.9L743.0 156.0L744.0 156.1L745.0 156.3L746.0 156.4L747.0 156.5L748.0 156.6L749.0 156.6L750.0 156.7L751.0 156.8L752.0 156.9L753.0 157.0L754.0 157.1L755.0 157.1L756.0 157.2L757.0 157.3L758.0 157.3L759.0 157.4L760.0 157.4L761.0 157.5L762.0 157.6L763.0 157.6L764.0 157.7L765.0 157.7L766.0 157.8L767.0 157.8L768.0 157.8L769.0 157.9L770.0 157.9L771.0 158.0L772.0 158.0L773.0 158.0L774.0 158.1L775.0 158.1L776.0 158.2L777.0 158.2L778.0 158.2L779.0 158.3L780.0 158.3L781.0 158.3L782.0 158.4L783.0 158.4L784.0 158.4L785.0 158.5L786.0 158.5L787.0 158.5L788.0 158.5L789.0 158.6L790.0 158.6L791.0 158.6L792.0 158.7L793.0 158.7L794.0 158.7L795.0 158.7L796.0 158.8L797.0 158.8L798.0 158.8L799.0 158.8L800.0 158.9L801.0 158.9L802.0 158.9L803.0 158.9L804.0 159.0L805.0 159.0L806.0 159.0L807.0 159.0L808.0 159.1L809.0 159.1L810.0 159.1L811.0 159.1L812.0 159.2L813.0 159.2L814.0 159.2L815.0 159.2L816.0 159.3L817.0 159.3L818.0 159.3L819.0 159.3L820.0 159.3L821.0 159.4L822.0 159.4L823.0 159.4L824.0 159.4L825.0 159.5L826.0 159.5L827.0 159.5L828.0 159.5L829.0 159.5L830.0 159.6L831.0 159.6L832.0 159.6L833.0 159.6L834.0 159.6L835.0 159.7" fill="none" stroke="#1a1ad6" stroke-width="2.9"/><path d="M465.0 142.3L466.0 142.3L467.0 142.3L468.0 142.3L469.0 142.3L470.0 142.3L471.0 142.4L472.0 142.4L473.0 142.4L474.0 142.4L475.0 142.4L476.0 142.4L477.0 142.5L478.0 142.5L479.0 142.5L480.0 142.5L481.0 142.5L482.0 142.5L483.0 142.6L484.0 142.6L485.0 142.6L486.0 142.6L487.0 142.6L488.0 142.6L489.0 142.7L490.0 142.7L491.0 142.7L492.0 142.7L493.0 142.7L494.0 142.7L495.0 142.8L496.0 142.8L497.0 142.8L498.0 142.8L499.0 142.8L500.0 142.8L501.0 142.9L502.0 142.9L503.0 142.9L504.0 142.9L505.0 142.9L506.0 142.9L507.0 143.0L508.0 143.0L509.0 143.0L510.0 143.0L511.0 143.0L512.0 143.1L513.0 143.1L514.0 143.1L515.0 143.1L516.0 143.1L517.0 143.1L518.0 143.2L519.0 143.2L520.0 143.2L521.0 143.2L522.0 143.2L523.0 143.2L524.0 143.3L525.0 143.3L526.0 143.3L527.0 143.3L528.0 143.3L529.0 143.4L530.0 143.4L531.0 143.4L532.0 143.4L533.0 143.4L534.0 143.4L535.0 143.5L536.0 143.5L537.0 143.5L538.0 143.5L539.0 143.5L540.0 143.6L541.0 143.6L542.0 143.6L543.0 143.6L544.0 143.6L545.0 143.6L546.0 143.7L547.0 143.7L548.0 143.7L549.0 143.7L550.0 143.7L551.0 143.8L552.0 143.8L553.0 143.8L554.0 143.8L555.0 143.8L556.0 143.8L557.0 143.9L558.0 143.9L559.0 143.9L560.0 143.9L561.0 143.9L562.0 143.9L563.0 144.0L564.0 144.0L565.0 144.0L566.0 144.0L567.0 144.0L568.0 144.0L569.0 144.1L570.0 144.1L571.0 144.1L572.0 144.1L573.0 144.1L574.0 144.1L575.0 144.1L576.0 144.1L577.0 144.1L578.0 144.2L579.0 144.2L580.0 144.2L581.0 144.2L582.0 144.2L583.0 144.2L584.0 144.2L585.0 144.2L586.0 144.2L587.0 144.2L588.0 144.2L589.0 144.2L590.0 144.2L591.0 144.2L592.0 144.2L593.0 144.2L594.0 144.2L595.0 144.2L596.0 144.2L597.0 144.1L598.0 144.1L599.0 144.1L600.0 144.1L601.0 144.1L602.0 144.1L603.0 144.0L604.0 144.0L605.0 144.0L606.0 144.0L607.0 143.9L608.0 143.9L609.0 143.9L610.0 143.9L611.0 143.8L612.0 143.8L613.0 143.7L614.0 143.7L615.0 143.7L616.0 143.6L617.0 143.6L618.0 143.5L619.0 143.5L620.0 143.4L621.0 143.4L622.0 143.3L623.0 143.3L624.0 143.2L625.0 143.1L626.0 143.1L627.0 143.0L628.0 142.9L629.0 142.9L630.0 142.8L631.0 142.7L632.0 142.7L633.0 142.6L634.0 142.5L635.0 142.4L636.0 142.3L637.0 142.3L638.0 142.2L639.0 142.1L640.0 142.0L641.0 141.9L642.0 141.8L643.0 141.7L644.0 141.6L645.0 141.5L646.0 141.4L647.0 141.3L648.0 141.2L649.0 141.0L650.0 140.9L651.0 140.7L652.0 140.6L653.0 140.4L654.0 140.3L655.0 140.1L656.0 139.9L657.0 139.7L658.0 139.4L659.0 139.2L660.0 138.9L661.0 138.6L662.0 138.3L663.0 138.0L664.0 137.6L665.0 137.3L666.0 136.8L667.0 136.4L668.0 135.9L669.0 135.4L670.0 134.8L671.0 134.2L672.0 133.5L673.0 132.8L674.0 132.0L675.0 131.2L676.0 130.3L677.0 129.3L678.0 128.3L679.0 127.2L680.0 126.0L681.0 124.7L682.0 123.4L683.0 122.0L684.0 120.5L685.0 118.9L686.0 117.2L687.0 115.4L688.0 113.5L689.0 111.5L690.0 109.5L691.0 107.3L692.0 105.1L693.0 102.7L694.0 100.3L695.0 97.8L696.0 95.2L697.0 92.5L698.0 89.7L699.0 86.9L700.0 84.1L701.0 81.2L702.0 78.2L703.0 75.2L704.0 72.2L705.0 69.2L706.0 66.3L707.0 63.3L708.0 60.4L709.0 57.6L710.0 54.8L711.0 52.2L712.0 49.7L713.0 47.4L714.0 45.2L715.0 43.2L716.0 41.5L717.0 40.0L718.0 38.8L719.0 37.9L720.0 37.2L721.0 36.9L722.0 36.9L723.0 37.2L724.0 38.0L725.0 39.1L726.0 40.5L727.0 42.3L728.0 44.4L729.0 46.8L730.0 49.4L731.0 52.3L732.0 55.3L733.0 58.4L734.0 61.7L735.0 65.0L736.0 68.4L737.0 71.9L738.0 75.3L739.0 78.7L740.0 82.1L741.0 85.4L742.0 88.7L743.0 91.9L744.0 95.0L745.0 98.0L746.0 100.9L747.0 103.8L748.0 106.5L749.0 109.1L750.0 111.6L751.0 114.0L752.0 116.3L753.0 118.5L754.0 120.6L755.0 122.6L756.0 124.5L757.0 126.2L758.0 127.9L759.0 129.5L760.0 131.0L761.0 132.4L762.0 133.8L763.0 135.0L764.0 136.2L765.0 137.3L766.0 138.3L767.0 139.3L768.0 140.2L769.0 141.1L770.0 141.8L771.0 142.6L772.0 143.3L773.0 144.0L774.0 144.6L775.0 145.2L776.0 145.7L777.0 146.2L778.0 146.7L779.0 147.1L780.0 147.6L781.0 148.0L782.0 148.4L783.0 148.7L784.0 149.1L785.0 149.4L786.0 149.7L787.0 150.0L788.0 150.3L789.0 150.5L790.0 150.8L791.0 151.0L792.0 151.3L793.0 151.5L794.0 151.7L795.0 151.9L796.0 152.1L797.0 152.3L798.0 152.5L799.0 152.7L800.0 152.8L801.0 153.0L802.0 153.2L803.0 153.3L804.0 153.5L805.0 153.6L806.0 153.8L807.0 153.9L808.0 154.1L809.0 154.2L810.0 154.3L811.0 154.5L812.0 154.6L813.0 154.7L814.0 154.9L815.0 155.0L816.0 155.1L817.0 155.2L818.0 155.4L819.0 155.5L820.0 155.6L821.0 155.7L822.0 155.8L823.0 155.9L824.0 156.0L825.0 156.1L826.0 156.3L827.0 156.4L828.0 156.5L829.0 156.6L830.0 156.7L831.0 156.8L832.0 156.9L833.0 157.0L834.0 157.1L835.0 157.2" fill="none" stroke="#1a1ad6" stroke-width="2.9"/></g><g clip-path="url(#cb1)"><path d="M466.5 300.7h0M469.1 300.7h0M471.8 300.1h0M474.4 300.1h0M477.1 299.1h0M479.7 298.8h0M482.4 297.1h0M485.0 298.0h0M487.7 298.2h0M490.3 296.2h0M493.0 295.1h0M495.6 295.2h0M498.3 295.1h0M500.9 294.1h0M503.6 291.2h0M506.2 291.3h0M508.9 289.3h0M511.5 288.6h0M514.2 285.4h0M516.8 286.2h0M519.5 283.7h0M522.1 282.5h0M524.8 280.6h0M527.4 278.4h0M530.1 277.8h0M532.7 275.5h0M535.4 273.7h0M538.0 273.2h0M540.7 271.2h0M543.3 269.4h0M546.0 269.3h0M548.6 267.1h0M551.3 266.5h0M553.9 266.3h0M556.6 265.8h0M559.2 265.6h0M561.9 265.7h0M564.5 264.6h0M567.2 264.2h0M569.8 266.4h0M572.5 266.9h0M575.1 266.5h0M577.8 268.3h0M580.4 268.7h0M583.1 269.3h0M585.7 272.6h0M588.4 273.6h0M591.0 275.1h0M593.7 277.9h0M596.3 279.4h0M599.0 279.6h0M601.6 280.9h0M604.3 282.0h0M606.9 284.9h0M609.6 286.1h0M612.2 288.1h0M614.9 289.1h0M617.5 289.9h0M620.2 291.2h0M622.8 291.3h0M625.5 294.2h0M628.1 293.7h0M630.8 295.1h0M633.4 294.7h0M636.1 295.5h0M638.7 296.1h0M641.4 295.5h0M644.0 295.1h0M646.7 297.0h0M649.3 294.9h0M652.0 294.9h0M654.6 293.8h0M657.3 292.6h0M659.9 293.2h0M662.6 291.6h0M665.2 290.4h0M667.9 287.4h0M670.5 287.7h0M673.2 286.4h0M675.8 284.0h0M678.5 281.4h0M681.1 279.5h0M683.8 275.4h0M686.4 271.7h0M689.1 267.4h0M691.7 262.1h0M694.4 254.5h0M697.0 249.0h0M699.7 241.1h0M702.3 232.7h0M705.0 226.5h0M707.6 217.3h0M710.3 210.7h0M712.9 202.7h0M715.6 198.3h0M718.2 194.9h0M720.9 193.5h0M723.5 193.6h0M726.2 195.7h0M728.8 200.0h0M731.5 207.4h0M734.1 212.9h0M736.8 220.9h0M739.4 230.5h0M742.1 236.5h0M744.7 244.7h0M747.4 253.6h0M750.0 261.8h0M752.7 268.5h0M755.3 276.0h0M758.0 281.9h0M760.6 286.1h0M763.3 291.9h0M765.9 294.7h0M768.6 299.6h0M771.2 302.0h0M773.9 305.7h0M776.5 306.7h0M779.2 307.6h0M781.8 309.2h0M784.5 310.1h0M787.1 310.4h0M789.8 310.6h0M792.4 312.9h0M795.1 313.7h0M797.7 312.7h0M800.4 313.2h0M803.0 313.4h0M805.7 314.7h0M808.3 315.1h0M811.0 313.9h0M813.6 314.4h0M816.3 314.5h0M818.9 315.2h0M821.6 315.7h0M824.2 316.1h0M826.9 315.3h0M829.5 315.0h0M832.2 316.2h0" stroke="#111" stroke-width="3.0" stroke-linecap="square" fill="none"/><path d="M465.0 300.6L466.0 300.5L467.0 300.5L468.0 300.5L469.0 300.4L470.0 300.4L471.0 300.3L472.0 300.3L473.0 300.2L474.0 300.2L475.0 300.1L476.0 300.0L477.0 299.9L478.0 299.9L479.0 299.8L480.0 299.7L481.0 299.6L482.0 299.5L483.0 299.4L484.0 299.2L485.0 299.1L486.0 299.0L487.0 298.8L488.0 298.6L489.0 298.5L490.0 298.3L491.0 298.1L492.0 297.9L493.0 297.7L494.0 297.5L495.0 297.2L496.0 297.0L497.0 296.7L498.0 296.5L499.0 296.2L500.0 295.9L501.0 295.6L502.0 295.3L503.0 294.9L504.0 294.6L505.0 294.2L506.0 293.8L507.0 293.4L508.0 293.0L509.0 292.6L510.0 292.2L511.0 291.7L512.0 291.3L513.0 290.8L514.0 290.3L515.0 289.8L516.0 289.3L517.0 288.8L518.0 288.2L519.0 287.7L520.0 287.1L521.0 286.5L522.0 285.9L523.0 285.4L524.0 284.8L525.0 284.1L526.0 283.5L527.0 282.9L528.0 282.3L529.0 281.6L530.0 281.0L531.0 280.3L532.0 279.7L533.0 279.0L534.0 278.4L535.0 277.7L536.0 277.1L537.0 276.5L538.0 275.8L539.0 275.2L540.0 274.6L541.0 273.9L542.0 273.3L543.0 272.7L544.0 272.1L545.0 271.6L546.0 271.0L547.0 270.5L548.0 270.0L549.0 269.4L550.0 269.0L551.0 268.5L552.0 268.0L553.0 267.6L554.0 267.2L555.0 266.9L556.0 266.5L557.0 266.2L558.0 265.9L559.0 265.6L560.0 265.4L561.0 265.2L562.0 265.0L563.0 264.8L564.0 264.7L565.0 264.6L566.0 264.6L567.0 264.5L568.0 264.5L569.0 264.6L570.0 264.7L571.0 264.8L572.0 264.9L573.0 265.1L574.0 265.3L575.0 265.5L576.0 265.8L577.0 266.1L578.0 266.5L579.0 266.8L580.0 267.2L581.0 267.7L582.0 268.1L583.0 268.6L584.0 269.1L585.0 269.6L586.0 270.1L587.0 270.7L588.0 271.3L589.0 271.9L590.0 272.5L591.0 273.1L592.0 273.7L593.0 274.3L594.0 275.0L595.0 275.6L596.0 276.3L597.0 277.0L598.0 277.6L599.0 278.3L600.0 278.9L601.0 279.6L602.0 280.3L603.0 280.9L604.0 281.6L605.0 282.2L606.0 282.9L607.0 283.5L608.0 284.1L609.0 284.7L610.0 285.3L611.0 285.9L612.0 286.5L613.0 287.0L614.0 287.6L615.0 288.1L616.0 288.6L617.0 289.2L618.0 289.6L619.0 290.1L620.0 290.6L621.0 291.0L622.0 291.5L623.0 291.9L624.0 292.3L625.0 292.6L626.0 293.0L627.0 293.3L628.0 293.7L629.0 294.0L630.0 294.3L631.0 294.5L632.0 294.8L633.0 295.0L634.0 295.3L635.0 295.5L636.0 295.7L637.0 295.9L638.0 296.0L639.0 296.2L640.0 296.3L641.0 296.4L642.0 296.5L643.0 296.6L644.0 296.7L645.0 296.7L646.0 296.7L647.0 296.8L648.0 296.8L649.0 296.8L650.0 296.7L651.0 296.7L652.0 296.6L653.0 296.5L654.0 296.4L655.0 296.3L656.0 296.2L657.0 296.0L658.0 295.8L659.0 295.6L660.0 295.4L661.0 295.1L662.0 294.9L663.0 294.5L664.0 294.2L665.0 293.8L666.0 293.4L667.0 292.9L668.0 292.4L669.0 291.9L670.0 291.3L671.0 290.6L672.0 289.9L673.0 289.2L674.0 288.3L675.0 287.5L676.0 286.5L677.0 285.5L678.0 284.4L679.0 283.2L680.0 282.0L681.0 280.7L682.0 279.2L683.0 277.7L684.0 276.1L685.0 274.4L686.0 272.6L687.0 270.7L688.0 268.7L689.0 266.6L690.0 264.5L691.0 262.2L692.0 259.8L693.0 257.3L694.0 254.7L695.0 252.1L696.0 249.3L697.0 246.5L698.0 243.6L699.0 240.6L700.0 237.6L701.0 234.6L702.0 231.5L703.0 228.4L704.0 225.2L705.0 222.1L706.0 219.1L707.0 216.1L708.0 213.1L709.0 210.3L710.0 207.6L711.0 205.1L712.0 202.7L713.0 200.5L714.0 198.6L715.0 197.0L716.0 195.6L717.0 194.6L718.0 193.8L719.0 193.5L720.0 193.4L721.0 193.7L722.0 194.3L723.0 195.2L724.0 196.4L725.0 197.9L726.0 199.6L727.0 201.5L728.0 203.7L729.0 206.1L730.0 208.7L731.0 211.4L732.0 214.3L733.0 217.3L734.0 220.4L735.0 223.6L736.0 226.8L737.0 230.1L738.0 233.4L739.0 236.8L740.0 240.1L741.0 243.4L742.0 246.7L743.0 250.0L744.0 253.2L745.0 256.3L746.0 259.4L747.0 262.3L748.0 265.3L749.0 268.1L750.0 270.8L751.0 273.4L752.0 275.9L753.0 278.4L754.0 280.7L755.0 282.9L756.0 285.0L757.0 287.0L758.0 288.9L759.0 290.7L760.0 292.4L761.0 293.9L762.0 295.4L763.0 296.8L764.0 298.1L765.0 299.4L766.0 300.5L767.0 301.6L768.0 302.6L769.0 303.5L770.0 304.3L771.0 305.1L772.0 305.9L773.0 306.5L774.0 307.2L775.0 307.7L776.0 308.3L777.0 308.8L778.0 309.2L779.0 309.6L780.0 310.0L781.0 310.4L782.0 310.7L783.0 311.0L784.0 311.3L785.0 311.6L786.0 311.8L787.0 312.0L788.0 312.2L789.0 312.4L790.0 312.6L791.0 312.8L792.0 312.9L793.0 313.1L794.0 313.2L795.0 313.4L796.0 313.5L797.0 313.6L798.0 313.7L799.0 313.8L800.0 314.0L801.0 314.1L802.0 314.2L803.0 314.2L804.0 314.3L805.0 314.4L806.0 314.5L807.0 314.6L808.0 314.7L809.0 314.7L810.0 314.8L811.0 314.9L812.0 315.0L813.0 315.0L814.0 315.1L815.0 315.2L816.0 315.2L817.0 315.3L818.0 315.4L819.0 315.4L820.0 315.5L821.0 315.5L822.0 315.6L823.0 315.6L824.0 315.7L825.0 315.7L826.0 315.8L827.0 315.9L828.0 315.9L829.0 316.0L830.0 316.0L831.0 316.0L832.0 316.1L833.0 316.1L834.0 316.2L835.0 316.2" fill="none" stroke="#e3222a" stroke-width="2.9"/><path d="M465.0 301.5L466.0 301.6L467.0 301.6L468.0 301.6L469.0 301.6L470.0 301.6L471.0 301.6L472.0 301.7L473.0 301.7L474.0 301.7L475.0 301.7L476.0 301.7L477.0 301.7L478.0 301.7L479.0 301.8L480.0 301.8L481.0 301.8L482.0 301.8L483.0 301.8L484.0 301.8L485.0 301.9L486.0 301.9L487.0 301.9L488.0 301.9L489.0 301.9L490.0 301.9L491.0 302.0L492.0 302.0L493.0 302.0L494.0 302.0L495.0 302.0L496.0 302.0L497.0 302.1L498.0 302.1L499.0 302.1L500.0 302.1L501.0 302.1L502.0 302.1L503.0 302.2L504.0 302.2L505.0 302.2L506.0 302.2L507.0 302.2L508.0 302.2L509.0 302.3L510.0 302.3L511.0 302.3L512.0 302.3L513.0 302.3L514.0 302.3L515.0 302.4L516.0 302.4L517.0 302.4L518.0 302.4L519.0 302.4L520.0 302.5L521.0 302.5L522.0 302.5L523.0 302.5L524.0 302.5L525.0 302.6L526.0 302.6L527.0 302.6L528.0 302.6L529.0 302.6L530.0 302.7L531.0 302.7L532.0 302.7L533.0 302.7L534.0 302.7L535.0 302.8L536.0 302.8L537.0 302.8L538.0 302.8L539.0 302.9L540.0 302.9L541.0 302.9L542.0 302.9L543.0 302.9L544.0 303.0L545.0 303.0L546.0 303.0L547.0 303.0L548.0 303.1L549.0 303.1L550.0 303.1L551.0 303.1L552.0 303.2L553.0 303.2L554.0 303.2L555.0 303.2L556.0 303.2L557.0 303.3L558.0 303.3L559.0 303.3L560.0 303.3L561.0 303.4L562.0 303.4L563.0 303.4L564.0 303.4L565.0 303.5L566.0 303.5L567.0 303.5L568.0 303.5L569.0 303.6L570.0 303.6L571.0 303.6L572.0 303.6L573.0 303.7L574.0 303.7L575.0 303.7L576.0 303.7L577.0 303.8L578.0 303.8L579.0 303.8L580.0 303.8L581.0 303.9L582.0 303.9L583.0 303.9L584.0 303.9L585.0 304.0L586.0 304.0L587.0 304.0L588.0 304.0L589.0 304.1L590.0 304.1L591.0 304.1L592.0 304.1L593.0 304.2L594.0 304.2L595.0 304.2L596.0 304.2L597.0 304.3L598.0 304.3L599.0 304.3L600.0 304.3L601.0 304.4L602.0 304.4L603.0 304.4L604.0 304.4L605.0 304.4L606.0 304.5L607.0 304.5L608.0 304.5L609.0 304.5L610.0 304.6L611.0 304.6L612.0 304.6L613.0 304.6L614.0 304.6L615.0 304.7L616.0 304.7L617.0 304.7L618.0 304.7L619.0 304.8L620.0 304.8L621.0 304.8L622.0 304.8L623.0 304.8L624.0 304.9L625.0 304.9L626.0 304.9L627.0 304.9L628.0 305.0L629.0 305.0L630.0 305.0L631.0 305.0L632.0 305.0L633.0 305.1L634.0 305.1L635.0 305.1L636.0 305.1L637.0 305.2L638.0 305.2L639.0 305.2L640.0 305.2L641.0 305.2L642.0 305.3L643.0 305.3L644.0 305.3L645.0 305.3L646.0 305.4L647.0 305.4L648.0 305.4L649.0 305.4L650.0 305.5L651.0 305.5L652.0 305.5L653.0 305.5L654.0 305.6L655.0 305.6L656.0 305.6L657.0 305.6L658.0 305.7L659.0 305.7L660.0 305.7L661.0 305.7L662.0 305.8L663.0 305.8L664.0 305.8L665.0 305.9L666.0 305.9L667.0 305.9L668.0 306.0L669.0 306.0L670.0 306.0L671.0 306.1L672.0 306.1L673.0 306.1L674.0 306.2L675.0 306.2L676.0 306.3L677.0 306.3L678.0 306.4L679.0 306.4L680.0 306.4L681.0 306.5L682.0 306.6L683.0 306.6L684.0 306.7L685.0 306.7L686.0 306.8L687.0 306.9L688.0 306.9L689.0 307.0L690.0 307.1L691.0 307.1L692.0 307.2L693.0 307.3L694.0 307.4L695.0 307.5L696.0 307.6L697.0 307.7L698.0 307.8L699.0 307.9L700.0 308.0L701.0 308.1L702.0 308.3L703.0 308.4L704.0 308.5L705.0 308.7L706.0 308.8L707.0 308.9L708.0 309.1L709.0 309.3L710.0 309.4L711.0 309.6L712.0 309.8L713.0 309.9L714.0 310.1L715.0 310.3L716.0 310.5L717.0 310.6L718.0 310.8L719.0 311.0L720.0 311.2L721.0 311.4L722.0 311.6L723.0 311.8L724.0 312.0L725.0 312.1L726.0 312.3L727.0 312.5L728.0 312.7L729.0 312.8L730.0 313.0L731.0 313.2L732.0 313.3L733.0 313.5L734.0 313.7L735.0 313.8L736.0 314.0L737.0 314.1L738.0 314.2L739.0 314.4L740.0 314.5L741.0 314.6L742.0 314.7L743.0 314.9L744.0 315.0L745.0 315.1L746.0 315.2L747.0 315.3L748.0 315.3L749.0 315.4L750.0 315.5L751.0 315.6L752.0 315.7L753.0 315.7L754.0 315.8L755.0 315.9L756.0 315.9L757.0 316.0L758.0 316.1L759.0 316.1L760.0 316.2L761.0 316.2L762.0 316.3L763.0 316.3L764.0 316.3L765.0 316.4L766.0 316.4L767.0 316.5L768.0 316.5L769.0 316.5L770.0 316.6L771.0 316.6L772.0 316.6L773.0 316.7L774.0 316.7L775.0 316.7L776.0 316.7L777.0 316.8L778.0 316.8L779.0 316.8L780.0 316.8L781.0 316.9L782.0 316.9L783.0 316.9L784.0 316.9L785.0 317.0L786.0 317.0L787.0 317.0L788.0 317.0L789.0 317.1L790.0 317.1L791.0 317.1L792.0 317.1L793.0 317.1L794.0 317.2L795.0 317.2L796.0 317.2L797.0 317.2L798.0 317.2L799.0 317.3L800.0 317.3L801.0 317.3L802.0 317.3L803.0 317.3L804.0 317.4L805.0 317.4L806.0 317.4L807.0 317.4L808.0 317.4L809.0 317.4L810.0 317.5L811.0 317.5L812.0 317.5L813.0 317.5L814.0 317.5L815.0 317.6L816.0 317.6L817.0 317.6L818.0 317.6L819.0 317.6L820.0 317.6L821.0 317.7L822.0 317.7L823.0 317.7L824.0 317.7L825.0 317.7L826.0 317.8L827.0 317.8L828.0 317.8L829.0 317.8L830.0 317.8L831.0 317.8L832.0 317.9L833.0 317.9L834.0 317.9L835.0 317.9" fill="none" stroke="#1a1ad6" stroke-width="2.1"/><path d="M465.0 301.5L466.0 301.5L467.0 301.5L468.0 301.5L469.0 301.6L470.0 301.6L471.0 301.6L472.0 301.5L473.0 301.5L474.0 301.5L475.0 301.5L476.0 301.5L477.0 301.4L478.0 301.4L479.0 301.3L480.0 301.2L481.0 301.1L482.0 301.0L483.0 300.9L484.0 300.7L485.0 300.6L486.0 300.4L487.0 300.2L488.0 299.9L489.0 299.7L490.0 299.4L491.0 299.2L492.0 298.9L493.0 298.6L494.0 298.3L495.0 298.0L496.0 297.8L497.0 297.5L498.0 297.2L499.0 296.9L500.0 296.6L501.0 296.3L502.0 296.0L503.0 295.7L504.0 295.3L505.0 295.0L506.0 294.6L507.0 294.2L508.0 293.8L509.0 293.4L510.0 293.0L511.0 292.5L512.0 292.1L513.0 291.6L514.0 291.1L515.0 290.6L516.0 290.1L517.0 289.6L518.0 289.1L519.0 288.5L520.0 288.0L521.0 287.4L522.0 286.8L523.0 286.2L524.0 285.7L525.0 285.0L526.0 284.4L527.0 283.8L528.0 283.2L529.0 282.6L530.0 281.9L531.0 281.3L532.0 280.7L533.0 280.0L534.0 279.4L535.0 278.8L536.0 278.1L537.0 277.5L538.0 276.9L539.0 276.2L540.0 275.6L541.0 275.0L542.0 274.4L543.0 273.8L544.0 273.3L545.0 272.7L546.0 272.2L547.0 271.6L548.0 271.1L549.0 270.6L550.0 270.2L551.0 269.7L552.0 269.3L553.0 268.9L554.0 268.5L555.0 268.1L556.0 267.8L557.0 267.5L558.0 267.2L559.0 266.9L560.0 266.7L561.0 266.5L562.0 266.4L563.0 266.2L564.0 266.1L565.0 266.1L566.0 266.0L567.0 266.0L568.0 266.0L569.0 266.1L570.0 266.2L571.0 266.3L572.0 266.5L573.0 266.7L574.0 266.9L575.0 267.2L576.0 267.5L577.0 267.8L578.0 268.2L579.0 268.6L580.0 269.0L581.0 269.4L582.0 269.9L583.0 270.4L584.0 270.9L585.0 271.5L586.0 272.0L587.0 272.6L588.0 273.2L589.0 273.8L590.0 274.5L591.0 275.1L592.0 275.8L593.0 276.4L594.0 277.1L595.0 277.8L596.0 278.5L597.0 279.2L598.0 279.9L599.0 280.6L600.0 281.3L601.0 282.0L602.0 282.7L603.0 283.4L604.0 284.1L605.0 284.8L606.0 285.4L607.0 286.1L608.0 286.8L609.0 287.4L610.0 288.1L611.0 288.7L612.0 289.3L613.0 290.0L614.0 290.6L615.0 291.2L616.0 291.7L617.0 292.3L618.0 292.8L619.0 293.4L620.0 293.9L621.0 294.4L622.0 294.9L623.0 295.4L624.0 295.8L625.0 296.3L626.0 296.7L627.0 297.1L628.0 297.6L629.0 297.9L630.0 298.3L631.0 298.7L632.0 299.0L633.0 299.4L634.0 299.7L635.0 300.0L636.0 300.3L637.0 300.6L638.0 300.9L639.0 301.2L640.0 301.5L641.0 301.8L642.0 302.1L643.0 302.4L644.0 302.7L645.0 302.9L646.0 303.2L647.0 303.5L648.0 303.7L649.0 303.9L650.0 304.1L651.0 304.3L652.0 304.5L653.0 304.6L654.0 304.8L655.0 304.9L656.0 305.0L657.0 305.1L658.0 305.2L659.0 305.3L660.0 305.4L661.0 305.5L662.0 305.5L663.0 305.6L664.0 305.7L665.0 305.7L666.0 305.8L667.0 305.8L668.0 305.9L669.0 305.9L670.0 306.0L671.0 306.0L672.0 306.0L673.0 306.1L674.0 306.1L675.0 306.2L676.0 306.2L677.0 306.3L678.0 306.3L679.0 306.4L680.0 306.4L681.0 306.5L682.0 306.5L683.0 306.6L684.0 306.6L685.0 306.7L686.0 306.8L687.0 306.8L688.0 306.9L689.0 307.0L690.0 307.1L691.0 307.1L692.0 307.2L693.0 307.3L694.0 307.4L695.0 307.5L696.0 307.6L697.0 307.7L698.0 307.8L699.0 307.9L700.0 308.0L701.0 308.1L702.0 308.3L703.0 308.4L704.0 308.5L705.0 308.7L706.0 308.8L707.0 308.9L708.0 309.1L709.0 309.3L710.0 309.4L711.0 309.6L712.0 309.7L713.0 309.9L714.0 310.1L715.0 310.3L716.0 310.5L717.0 310.6L718.0 310.8L719.0 311.0L720.0 311.2L721.0 311.4L722.0 311.6L723.0 311.8L724.0 311.9L725.0 312.1L726.0 312.3L727.0 312.5L728.0 312.7L729.0 312.8L730.0 313.0L731.0 313.2L732.0 313.3L733.0 313.5L734.0 313.7L735.0 313.8L736.0 314.0L737.0 314.1L738.0 314.2L739.0 314.4L740.0 314.5L741.0 314.6L742.0 314.7L743.0 314.8L744.0 315.0L745.0 315.1L746.0 315.2L747.0 315.3L748.0 315.3L749.0 315.4L750.0 315.5L751.0 315.6L752.0 315.7L753.0 315.7L754.0 315.8L755.0 315.9L756.0 315.9L757.0 316.0L758.0 316.1L759.0 316.1L760.0 316.2L761.0 316.2L762.0 316.3L763.0 316.3L764.0 316.3L765.0 316.4L766.0 316.4L767.0 316.5L768.0 316.5L769.0 316.5L770.0 316.6L771.0 316.6L772.0 316.6L773.0 316.7L774.0 316.7L775.0 316.7L776.0 316.7L777.0 316.8L778.0 316.8L779.0 316.8L780.0 316.8L781.0 316.9L782.0 316.9L783.0 316.9L784.0 316.9L785.0 317.0L786.0 317.0L787.0 317.0L788.0 317.0L789.0 317.1L790.0 317.1L791.0 317.1L792.0 317.1L793.0 317.1L794.0 317.2L795.0 317.2L796.0 317.2L797.0 317.2L798.0 317.2L799.0 317.3L800.0 317.3L801.0 317.3L802.0 317.3L803.0 317.3L804.0 317.4L805.0 317.4L806.0 317.4L807.0 317.4L808.0 317.4L809.0 317.4L810.0 317.5L811.0 317.5L812.0 317.5L813.0 317.5L814.0 317.5L815.0 317.6L816.0 317.6L817.0 317.6L818.0 317.6L819.0 317.6L820.0 317.6L821.0 317.7L822.0 317.7L823.0 317.7L824.0 317.7L825.0 317.7L826.0 317.8L827.0 317.8L828.0 317.8L829.0 317.8L830.0 317.8L831.0 317.8L832.0 317.9L833.0 317.9L834.0 317.9L835.0 317.9" fill="none" stroke="#1a1ad6" stroke-width="2.9"/><path d="M465.0 301.5L466.0 301.5L467.0 301.5L468.0 301.6L469.0 301.6L470.0 301.6L471.0 301.6L472.0 301.6L473.0 301.6L474.0 301.6L475.0 301.7L476.0 301.7L477.0 301.7L478.0 301.7L479.0 301.7L480.0 301.7L481.0 301.7L482.0 301.8L483.0 301.8L484.0 301.8L485.0 301.8L486.0 301.8L487.0 301.8L488.0 301.9L489.0 301.9L490.0 301.9L491.0 301.9L492.0 301.9L493.0 301.9L494.0 301.9L495.0 302.0L496.0 302.0L497.0 302.0L498.0 302.0L499.0 302.0L500.0 302.0L501.0 302.0L502.0 302.1L503.0 302.1L504.0 302.1L505.0 302.1L506.0 302.1L507.0 302.1L508.0 302.2L509.0 302.2L510.0 302.2L511.0 302.2L512.0 302.2L513.0 302.2L514.0 302.2L515.0 302.3L516.0 302.3L517.0 302.3L518.0 302.3L519.0 302.3L520.0 302.3L521.0 302.4L522.0 302.4L523.0 302.4L524.0 302.4L525.0 302.4L526.0 302.4L527.0 302.4L528.0 302.5L529.0 302.5L530.0 302.5L531.0 302.5L532.0 302.5L533.0 302.5L534.0 302.6L535.0 302.6L536.0 302.6L537.0 302.6L538.0 302.6L539.0 302.6L540.0 302.6L541.0 302.7L542.0 302.7L543.0 302.7L544.0 302.7L545.0 302.7L546.0 302.7L547.0 302.8L548.0 302.8L549.0 302.8L550.0 302.8L551.0 302.8L552.0 302.8L553.0 302.8L554.0 302.9L555.0 302.9L556.0 302.9L557.0 302.9L558.0 302.9L559.0 302.9L560.0 302.9L561.0 302.9L562.0 302.9L563.0 303.0L564.0 303.0L565.0 303.0L566.0 303.0L567.0 303.0L568.0 303.0L569.0 303.0L570.0 303.0L571.0 303.0L572.0 303.0L573.0 303.0L574.0 303.0L575.0 303.0L576.0 303.0L577.0 303.0L578.0 303.0L579.0 303.0L580.0 303.0L581.0 303.0L582.0 303.0L583.0 303.0L584.0 303.0L585.0 303.0L586.0 303.0L587.0 303.0L588.0 303.0L589.0 303.0L590.0 303.0L591.0 302.9L592.0 302.9L593.0 302.9L594.0 302.9L595.0 302.9L596.0 302.8L597.0 302.8L598.0 302.8L599.0 302.8L600.0 302.7L601.0 302.7L602.0 302.7L603.0 302.6L604.0 302.6L605.0 302.6L606.0 302.5L607.0 302.5L608.0 302.4L609.0 302.4L610.0 302.3L611.0 302.3L612.0 302.3L613.0 302.2L614.0 302.1L615.0 302.1L616.0 302.0L617.0 302.0L618.0 301.9L619.0 301.9L620.0 301.8L621.0 301.7L622.0 301.7L623.0 301.6L624.0 301.5L625.0 301.5L626.0 301.4L627.0 301.3L628.0 301.2L629.0 301.2L630.0 301.1L631.0 301.0L632.0 300.9L633.0 300.8L634.0 300.7L635.0 300.7L636.0 300.6L637.0 300.5L638.0 300.4L639.0 300.3L640.0 300.2L641.0 300.1L642.0 300.0L643.0 299.9L644.0 299.7L645.0 299.6L646.0 299.5L647.0 299.4L648.0 299.2L649.0 299.1L650.0 298.9L651.0 298.7L652.0 298.6L653.0 298.4L654.0 298.2L655.0 297.9L656.0 297.7L657.0 297.5L658.0 297.2L659.0 296.9L660.0 296.6L661.0 296.3L662.0 296.0L663.0 295.6L664.0 295.2L665.0 294.7L666.0 294.3L667.0 293.8L668.0 293.2L669.0 292.6L670.0 292.0L671.0 291.3L672.0 290.6L673.0 289.8L674.0 289.0L675.0 288.1L676.0 287.1L677.0 286.1L678.0 284.9L679.0 283.8L680.0 282.5L681.0 281.1L682.0 279.7L683.0 278.2L684.0 276.6L685.0 274.8L686.0 273.0L687.0 271.1L688.0 269.1L689.0 267.0L690.0 264.8L691.0 262.5L692.0 260.1L693.0 257.7L694.0 255.1L695.0 252.4L696.0 249.6L697.0 246.8L698.0 243.9L699.0 240.9L700.0 237.9L701.0 234.9L702.0 231.8L703.0 228.7L704.0 225.5L705.0 222.4L706.0 219.4L707.0 216.3L708.0 213.4L709.0 210.6L710.0 207.9L711.0 205.3L712.0 203.0L713.0 200.8L714.0 198.9L715.0 197.2L716.0 195.9L717.0 194.8L718.0 194.1L719.0 193.7L720.0 193.7L721.0 194.0L722.0 194.5L723.0 195.4L724.0 196.6L725.0 198.1L726.0 199.8L727.0 201.7L728.0 203.9L729.0 206.3L730.0 208.9L731.0 211.6L732.0 214.5L733.0 217.5L734.0 220.6L735.0 223.7L736.0 227.0L737.0 230.3L738.0 233.6L739.0 236.9L740.0 240.3L741.0 243.6L742.0 246.9L743.0 250.1L744.0 253.3L745.0 256.5L746.0 259.5L747.0 262.5L748.0 265.4L749.0 268.2L750.0 271.0L751.0 273.6L752.0 276.1L753.0 278.5L754.0 280.8L755.0 283.0L756.0 285.1L757.0 287.1L758.0 289.0L759.0 290.8L760.0 292.5L761.0 294.1L762.0 295.6L763.0 297.0L764.0 298.3L765.0 299.5L766.0 300.7L767.0 301.7L768.0 302.7L769.0 303.6L770.0 304.5L771.0 305.3L772.0 306.0L773.0 306.7L774.0 307.3L775.0 307.9L776.0 308.4L777.0 308.9L778.0 309.3L779.0 309.8L780.0 310.1L781.0 310.5L782.0 310.8L783.0 311.1L784.0 311.4L785.0 311.7L786.0 311.9L787.0 312.2L788.0 312.4L789.0 312.6L790.0 312.8L791.0 313.0L792.0 313.2L793.0 313.4L794.0 313.5L795.0 313.7L796.0 313.9L797.0 314.0L798.0 314.2L799.0 314.3L800.0 314.4L801.0 314.6L802.0 314.7L803.0 314.8L804.0 314.9L805.0 315.1L806.0 315.2L807.0 315.3L808.0 315.4L809.0 315.5L810.0 315.6L811.0 315.7L812.0 315.8L813.0 315.9L814.0 315.9L815.0 316.0L816.0 316.1L817.0 316.2L818.0 316.3L819.0 316.3L820.0 316.4L821.0 316.5L822.0 316.5L823.0 316.6L824.0 316.7L825.0 316.7L826.0 316.8L827.0 316.8L828.0 316.9L829.0 317.0L830.0 317.0L831.0 317.1L832.0 317.1L833.0 317.2L834.0 317.2L835.0 317.3" fill="none" stroke="#1a1ad6" stroke-width="2.9"/></g><g clip-path="url(#cb2)"><path d="M466.5 461.3h0M469.1 460.5h0M471.8 460.6h0M474.4 460.5h0M477.1 460.6h0M479.7 459.7h0M482.4 459.6h0M485.0 458.9h0M487.7 457.6h0M490.3 458.2h0M493.0 457.1h0M495.6 457.1h0M498.3 454.8h0M500.9 454.3h0M503.6 454.1h0M506.2 451.7h0M508.9 451.8h0M511.5 450.4h0M514.2 449.2h0M516.8 448.1h0M519.5 445.4h0M522.1 445.7h0M524.8 444.3h0M527.4 443.6h0M530.1 442.4h0M532.7 440.2h0M535.4 439.2h0M538.0 435.4h0M540.7 436.1h0M543.3 435.2h0M546.0 433.8h0M548.6 432.2h0M551.3 430.8h0M553.9 429.9h0M556.6 429.4h0M559.2 429.1h0M561.9 428.7h0M564.5 428.0h0M567.2 427.1h0M569.8 429.4h0M572.5 428.0h0M575.1 427.5h0M577.8 431.3h0M580.4 432.2h0M583.1 433.0h0M585.7 435.1h0M588.4 436.3h0M591.0 437.0h0M593.7 439.2h0M596.3 439.8h0M599.0 441.8h0M601.6 443.1h0M604.3 445.2h0M606.9 447.2h0M609.6 447.3h0M612.2 449.2h0M614.9 448.4h0M617.5 450.2h0M620.2 452.2h0M622.8 453.3h0M625.5 454.0h0M628.1 454.7h0M630.8 453.3h0M633.4 454.5h0M636.1 453.4h0M638.7 455.3h0M641.4 455.6h0M644.0 455.2h0M646.7 454.6h0M649.3 455.2h0M652.0 454.9h0M654.6 454.1h0M657.3 452.9h0M659.9 452.7h0M662.6 451.9h0M665.2 451.0h0M667.9 450.2h0M670.5 448.5h0M673.2 446.1h0M675.8 445.2h0M678.5 443.6h0M681.1 440.6h0M683.8 438.2h0M686.4 434.2h0M689.1 431.7h0M691.7 426.6h0M694.4 421.5h0M697.0 416.4h0M699.7 410.5h0M702.3 403.8h0M705.0 397.9h0M707.6 391.1h0M710.3 384.3h0M712.9 378.0h0M715.6 371.7h0M718.2 368.1h0M720.9 364.6h0M723.5 361.9h0M726.2 363.0h0M728.8 363.6h0M731.5 366.4h0M734.1 372.2h0M736.8 379.1h0M739.4 386.6h0M742.1 394.0h0M744.7 402.7h0M747.4 409.6h0M750.0 417.9h0M752.7 425.6h0M755.3 431.3h0M758.0 438.1h0M760.6 443.4h0M763.3 447.0h0M765.9 449.7h0M768.6 455.4h0M771.2 458.6h0M773.9 459.0h0M776.5 462.3h0M779.2 464.2h0M781.8 464.2h0M784.5 466.2h0M787.1 468.5h0M789.8 468.6h0M792.4 469.2h0M795.1 470.7h0M797.7 470.0h0M800.4 469.7h0M803.0 472.4h0M805.7 471.3h0M808.3 472.2h0M811.0 473.4h0M813.6 473.1h0M816.3 473.3h0M818.9 473.1h0M821.6 474.2h0M824.2 475.5h0M826.9 473.8h0M829.5 473.7h0M832.2 474.9h0" stroke="#111" stroke-width="3.0" stroke-linecap="square" fill="none"/><path d="M465.0 461.4L466.0 461.3L467.0 461.3L468.0 461.3L469.0 461.2L470.0 461.2L471.0 461.1L472.0 461.1L473.0 461.0L474.0 460.9L475.0 460.9L476.0 460.8L477.0 460.7L478.0 460.6L479.0 460.6L480.0 460.5L481.0 460.4L482.0 460.3L483.0 460.1L484.0 460.0L485.0 459.9L486.0 459.8L487.0 459.6L488.0 459.5L489.0 459.3L490.0 459.2L491.0 459.0L492.0 458.8L493.0 458.6L494.0 458.4L495.0 458.2L496.0 458.0L497.0 457.8L498.0 457.5L499.0 457.3L500.0 457.0L501.0 456.8L502.0 456.5L503.0 456.2L504.0 455.9L505.0 455.6L506.0 455.3L507.0 454.9L508.0 454.6L509.0 454.3L510.0 453.9L511.0 453.5L512.0 453.1L513.0 452.7L514.0 452.3L515.0 451.9L516.0 451.5L517.0 451.0L518.0 450.6L519.0 450.1L520.0 449.6L521.0 449.2L522.0 448.7L523.0 448.2L524.0 447.7L525.0 447.2L526.0 446.6L527.0 446.1L528.0 445.6L529.0 445.0L530.0 444.5L531.0 443.9L532.0 443.4L533.0 442.8L534.0 442.3L535.0 441.7L536.0 441.1L537.0 440.6L538.0 440.0L539.0 439.4L540.0 438.9L541.0 438.3L542.0 437.8L543.0 437.2L544.0 436.7L545.0 436.1L546.0 435.6L547.0 435.1L548.0 434.6L549.0 434.1L550.0 433.6L551.0 433.1L552.0 432.7L553.0 432.2L554.0 431.8L555.0 431.4L556.0 431.0L557.0 430.6L558.0 430.3L559.0 430.0L560.0 429.6L561.0 429.4L562.0 429.1L563.0 428.9L564.0 428.7L565.0 428.5L566.0 428.3L567.0 428.2L568.0 428.1L569.0 428.0L570.0 428.0L571.0 428.0L572.0 428.0L573.0 428.1L574.0 428.2L575.0 428.3L576.0 428.5L577.0 428.8L578.0 429.1L579.0 429.4L580.0 429.8L581.0 430.2L582.0 430.6L583.0 431.1L584.0 431.6L585.0 432.1L586.0 432.6L587.0 433.2L588.0 433.8L589.0 434.4L590.0 435.0L591.0 435.6L592.0 436.2L593.0 436.8L594.0 437.5L595.0 438.1L596.0 438.7L597.0 439.3L598.0 440.0L599.0 440.6L600.0 441.2L601.0 441.8L602.0 442.4L603.0 443.0L604.0 443.5L605.0 444.1L606.0 444.7L607.0 445.2L608.0 445.7L609.0 446.3L610.0 446.8L611.0 447.2L612.0 447.7L613.0 448.2L614.0 448.6L615.0 449.1L616.0 449.5L617.0 449.9L618.0 450.3L619.0 450.7L620.0 451.1L621.0 451.4L622.0 451.8L623.0 452.1L624.0 452.5L625.0 452.8L626.0 453.1L627.0 453.3L628.0 453.6L629.0 453.9L630.0 454.1L631.0 454.4L632.0 454.6L633.0 454.8L634.0 455.0L635.0 455.2L636.0 455.4L637.0 455.5L638.0 455.7L639.0 455.8L640.0 456.0L641.0 456.1L642.0 456.2L643.0 456.3L644.0 456.4L645.0 456.5L646.0 456.5L647.0 456.6L648.0 456.6L649.0 456.6L650.0 456.6L651.0 456.6L652.0 456.6L653.0 456.6L654.0 456.5L655.0 456.4L656.0 456.3L657.0 456.2L658.0 456.1L659.0 455.9L660.0 455.8L661.0 455.6L662.0 455.3L663.0 455.1L664.0 454.8L665.0 454.5L666.0 454.1L667.0 453.7L668.0 453.3L669.0 452.8L670.0 452.3L671.0 451.7L672.0 451.1L673.0 450.5L674.0 449.8L675.0 449.0L676.0 448.2L677.0 447.3L678.0 446.3L679.0 445.3L680.0 444.2L681.0 443.1L682.0 441.8L683.0 440.5L684.0 439.2L685.0 437.7L686.0 436.2L687.0 434.6L688.0 432.9L689.0 431.1L690.0 429.3L691.0 427.3L692.0 425.3L693.0 423.3L694.0 421.1L695.0 418.9L696.0 416.6L697.0 414.3L698.0 411.9L699.0 409.4L700.0 406.9L701.0 404.4L702.0 401.8L703.0 399.2L704.0 396.6L705.0 394.0L706.0 391.4L707.0 388.8L708.0 386.2L709.0 383.7L710.0 381.2L711.0 378.9L712.0 376.6L713.0 374.4L714.0 372.3L715.0 370.4L716.0 368.6L717.0 367.0L718.0 365.7L719.0 364.5L720.0 363.5L721.0 362.8L722.0 362.3L723.0 362.1L724.0 362.1L725.0 362.4L726.0 363.0L727.0 364.0L728.0 365.3L729.0 366.9L730.0 368.7L731.0 370.8L732.0 373.1L733.0 375.7L734.0 378.4L735.0 381.2L736.0 384.1L737.0 387.2L738.0 390.3L739.0 393.4L740.0 396.6L741.0 399.8L742.0 402.9L743.0 406.1L744.0 409.2L745.0 412.2L746.0 415.2L747.0 418.2L748.0 421.0L749.0 423.8L750.0 426.4L751.0 429.0L752.0 431.5L753.0 433.9L754.0 436.2L755.0 438.4L756.0 440.5L757.0 442.5L758.0 444.4L759.0 446.2L760.0 447.9L761.0 449.5L762.0 451.0L763.0 452.4L764.0 453.7L765.0 455.0L766.0 456.2L767.0 457.3L768.0 458.3L769.0 459.3L770.0 460.2L771.0 461.0L772.0 461.8L773.0 462.6L774.0 463.3L775.0 463.9L776.0 464.5L777.0 465.1L778.0 465.6L779.0 466.1L780.0 466.5L781.0 466.9L782.0 467.3L783.0 467.7L784.0 468.1L785.0 468.4L786.0 468.7L787.0 469.0L788.0 469.3L789.0 469.5L790.0 469.8L791.0 470.0L792.0 470.3L793.0 470.5L794.0 470.7L795.0 470.9L796.0 471.1L797.0 471.2L798.0 471.4L799.0 471.6L800.0 471.7L801.0 471.9L802.0 472.0L803.0 472.2L804.0 472.3L805.0 472.5L806.0 472.6L807.0 472.7L808.0 472.9L809.0 473.0L810.0 473.1L811.0 473.2L812.0 473.3L813.0 473.4L814.0 473.5L815.0 473.6L816.0 473.7L817.0 473.8L818.0 473.9L819.0 474.0L820.0 474.1L821.0 474.2L822.0 474.3L823.0 474.4L824.0 474.5L825.0 474.6L826.0 474.7L827.0 474.7L828.0 474.8L829.0 474.9L830.0 475.0L831.0 475.0L832.0 475.1L833.0 475.2L834.0 475.3L835.0 475.3" fill="none" stroke="#e3222a" stroke-width="2.9"/><path d="M465.0 463.2L466.0 463.2L467.0 463.3L468.0 463.3L469.0 463.3L470.0 463.3L471.0 463.3L472.0 463.4L473.0 463.4L474.0 463.4L475.0 463.4L476.0 463.5L477.0 463.5L478.0 463.5L479.0 463.5L480.0 463.5L481.0 463.6L482.0 463.6L483.0 463.6L484.0 463.6L485.0 463.7L486.0 463.7L487.0 463.7L488.0 463.7L489.0 463.7L490.0 463.8L491.0 463.8L492.0 463.8L493.0 463.8L494.0 463.9L495.0 463.9L496.0 463.9L497.0 463.9L498.0 463.9L499.0 464.0L500.0 464.0L501.0 464.0L502.0 464.0L503.0 464.1L504.0 464.1L505.0 464.1L506.0 464.1L507.0 464.2L508.0 464.2L509.0 464.2L510.0 464.2L511.0 464.2L512.0 464.3L513.0 464.3L514.0 464.3L515.0 464.3L516.0 464.4L517.0 464.4L518.0 464.4L519.0 464.4L520.0 464.5L521.0 464.5L522.0 464.5L523.0 464.5L524.0 464.6L525.0 464.6L526.0 464.6L527.0 464.6L528.0 464.7L529.0 464.7L530.0 464.7L531.0 464.7L532.0 464.8L533.0 464.8L534.0 464.8L535.0 464.8L536.0 464.9L537.0 464.9L538.0 464.9L539.0 464.9L540.0 465.0L541.0 465.0L542.0 465.0L543.0 465.0L544.0 465.1L545.0 465.1L546.0 465.1L547.0 465.1L548.0 465.2L549.0 465.2L550.0 465.2L551.0 465.3L552.0 465.3L553.0 465.3L554.0 465.3L555.0 465.4L556.0 465.4L557.0 465.4L558.0 465.4L559.0 465.5L560.0 465.5L561.0 465.5L562.0 465.6L563.0 465.6L564.0 465.6L565.0 465.6L566.0 465.7L567.0 465.7L568.0 465.7L569.0 465.8L570.0 465.8L571.0 465.8L572.0 465.8L573.0 465.9L574.0 465.9L575.0 465.9L576.0 465.9L577.0 466.0L578.0 466.0L579.0 466.0L580.0 466.1L581.0 466.1L582.0 466.1L583.0 466.1L584.0 466.2L585.0 466.2L586.0 466.2L587.0 466.3L588.0 466.3L589.0 466.3L590.0 466.3L591.0 466.4L592.0 466.4L593.0 466.4L594.0 466.4L595.0 466.5L596.0 466.5L597.0 466.5L598.0 466.6L599.0 466.6L600.0 466.6L601.0 466.6L602.0 466.7L603.0 466.7L604.0 466.7L605.0 466.7L606.0 466.8L607.0 466.8L608.0 466.8L609.0 466.8L610.0 466.9L611.0 466.9L612.0 466.9L613.0 467.0L614.0 467.0L615.0 467.0L616.0 467.0L617.0 467.1L618.0 467.1L619.0 467.1L620.0 467.1L621.0 467.2L622.0 467.2L623.0 467.2L624.0 467.2L625.0 467.3L626.0 467.3L627.0 467.3L628.0 467.3L629.0 467.4L630.0 467.4L631.0 467.4L632.0 467.4L633.0 467.5L634.0 467.5L635.0 467.5L636.0 467.6L637.0 467.6L638.0 467.6L639.0 467.6L640.0 467.7L641.0 467.7L642.0 467.7L643.0 467.7L644.0 467.8L645.0 467.8L646.0 467.8L647.0 467.8L648.0 467.9L649.0 467.9L650.0 467.9L651.0 468.0L652.0 468.0L653.0 468.0L654.0 468.0L655.0 468.1L656.0 468.1L657.0 468.1L658.0 468.2L659.0 468.2L660.0 468.2L661.0 468.2L662.0 468.3L663.0 468.3L664.0 468.3L665.0 468.4L666.0 468.4L667.0 468.4L668.0 468.5L669.0 468.5L670.0 468.5L671.0 468.6L672.0 468.6L673.0 468.6L674.0 468.7L675.0 468.7L676.0 468.8L677.0 468.8L678.0 468.8L679.0 468.9L680.0 468.9L681.0 469.0L682.0 469.0L683.0 469.1L684.0 469.1L685.0 469.1L686.0 469.2L687.0 469.3L688.0 469.3L689.0 469.4L690.0 469.4L691.0 469.5L692.0 469.5L693.0 469.6L694.0 469.7L695.0 469.7L696.0 469.8L697.0 469.9L698.0 470.0L699.0 470.0L700.0 470.1L701.0 470.2L702.0 470.3L703.0 470.4L704.0 470.5L705.0 470.6L706.0 470.7L707.0 470.8L708.0 470.9L709.0 471.0L710.0 471.1L711.0 471.2L712.0 471.3L713.0 471.4L714.0 471.5L715.0 471.6L716.0 471.8L717.0 471.9L718.0 472.0L719.0 472.1L720.0 472.3L721.0 472.4L722.0 472.5L723.0 472.7L724.0 472.8L725.0 472.9L726.0 473.1L727.0 473.2L728.0 473.3L729.0 473.4L730.0 473.6L731.0 473.7L732.0 473.8L733.0 473.9L734.0 474.1L735.0 474.2L736.0 474.3L737.0 474.4L738.0 474.5L739.0 474.6L740.0 474.7L741.0 474.8L742.0 474.9L743.0 475.0L744.0 475.1L745.0 475.2L746.0 475.2L747.0 475.3L748.0 475.4L749.0 475.5L750.0 475.5L751.0 475.6L752.0 475.7L753.0 475.7L754.0 475.8L755.0 475.9L756.0 475.9L757.0 476.0L758.0 476.0L759.0 476.1L760.0 476.1L761.0 476.2L762.0 476.2L763.0 476.3L764.0 476.3L765.0 476.4L766.0 476.4L767.0 476.4L768.0 476.5L769.0 476.5L770.0 476.6L771.0 476.6L772.0 476.6L773.0 476.7L774.0 476.7L775.0 476.7L776.0 476.8L777.0 476.8L778.0 476.8L779.0 476.9L780.0 476.9L781.0 476.9L782.0 477.0L783.0 477.0L784.0 477.0L785.0 477.0L786.0 477.1L787.0 477.1L788.0 477.1L789.0 477.2L790.0 477.2L791.0 477.2L792.0 477.2L793.0 477.3L794.0 477.3L795.0 477.3L796.0 477.3L797.0 477.4L798.0 477.4L799.0 477.4L800.0 477.5L801.0 477.5L802.0 477.5L803.0 477.5L804.0 477.6L805.0 477.6L806.0 477.6L807.0 477.6L808.0 477.7L809.0 477.7L810.0 477.7L811.0 477.7L812.0 477.8L813.0 477.8L814.0 477.8L815.0 477.8L816.0 477.9L817.0 477.9L818.0 477.9L819.0 477.9L820.0 478.0L821.0 478.0L822.0 478.0L823.0 478.0L824.0 478.1L825.0 478.1L826.0 478.1L827.0 478.1L828.0 478.2L829.0 478.2L830.0 478.2L831.0 478.2L832.0 478.3L833.0 478.3L834.0 478.3L835.0 478.3" fill="none" stroke="#1a1ad6" stroke-width="2.1"/><path d="M465.0 463.2L466.0 463.2L467.0 463.2L468.0 463.3L469.0 463.3L470.0 463.3L471.0 463.3L472.0 463.3L473.0 463.4L474.0 463.4L475.0 463.4L476.0 463.4L477.0 463.4L478.0 463.5L479.0 463.5L480.0 463.5L481.0 463.5L482.0 463.6L483.0 463.6L484.0 463.6L485.0 463.6L486.0 463.6L487.0 463.7L488.0 463.7L489.0 463.7L490.0 463.7L491.0 463.7L492.0 463.8L493.0 463.8L494.0 463.8L495.0 463.8L496.0 463.9L497.0 463.9L498.0 463.9L499.0 463.9L500.0 463.9L501.0 464.0L502.0 464.0L503.0 464.0L504.0 464.0L505.0 464.0L506.0 464.1L507.0 464.1L508.0 464.1L509.0 464.1L510.0 464.2L511.0 464.2L512.0 464.2L513.0 464.2L514.0 464.2L515.0 464.3L516.0 464.3L517.0 464.3L518.0 464.3L519.0 464.4L520.0 464.4L521.0 464.4L522.0 464.4L523.0 464.4L524.0 464.5L525.0 464.5L526.0 464.5L527.0 464.5L528.0 464.5L529.0 464.6L530.0 464.6L531.0 464.6L532.0 464.6L533.0 464.7L534.0 464.7L535.0 464.7L536.0 464.7L537.0 464.7L538.0 464.8L539.0 464.8L540.0 464.8L541.0 464.8L542.0 464.8L543.0 464.9L544.0 464.9L545.0 464.9L546.0 464.9L547.0 465.0L548.0 465.0L549.0 465.0L550.0 465.0L551.0 465.0L552.0 465.1L553.0 465.1L554.0 465.1L555.0 465.1L556.0 465.1L557.0 465.2L558.0 465.2L559.0 465.2L560.0 465.2L561.0 465.2L562.0 465.2L563.0 465.3L564.0 465.3L565.0 465.3L566.0 465.3L567.0 465.3L568.0 465.3L569.0 465.4L570.0 465.4L571.0 465.4L572.0 465.4L573.0 465.4L574.0 465.4L575.0 465.4L576.0 465.4L577.0 465.5L578.0 465.5L579.0 465.5L580.0 465.5L581.0 465.5L582.0 465.5L583.0 465.5L584.0 465.5L585.0 465.5L586.0 465.5L587.0 465.5L588.0 465.5L589.0 465.5L590.0 465.5L591.0 465.5L592.0 465.5L593.0 465.5L594.0 465.5L595.0 465.5L596.0 465.5L597.0 465.5L598.0 465.5L599.0 465.5L600.0 465.5L601.0 465.4L602.0 465.4L603.0 465.4L604.0 465.4L605.0 465.4L606.0 465.3L607.0 465.3L608.0 465.3L609.0 465.3L610.0 465.2L611.0 465.2L612.0 465.2L613.0 465.1L614.0 465.1L615.0 465.1L616.0 465.0L617.0 465.0L618.0 464.9L619.0 464.9L620.0 464.9L621.0 464.8L622.0 464.8L623.0 464.7L624.0 464.7L625.0 464.6L626.0 464.5L627.0 464.5L628.0 464.4L629.0 464.4L630.0 464.3L631.0 464.2L632.0 464.1L633.0 464.1L634.0 464.0L635.0 463.9L636.0 463.9L637.0 463.8L638.0 463.7L639.0 463.6L640.0 463.5L641.0 463.4L642.0 463.3L643.0 463.2L644.0 463.1L645.0 463.0L646.0 462.9L647.0 462.8L648.0 462.7L649.0 462.5L650.0 462.4L651.0 462.3L652.0 462.1L653.0 461.9L654.0 461.7L655.0 461.6L656.0 461.3L657.0 461.1L658.0 460.9L659.0 460.6L660.0 460.3L661.0 460.0L662.0 459.7L663.0 459.4L664.0 459.0L665.0 458.6L666.0 458.2L667.0 457.7L668.0 457.2L669.0 456.6L670.0 456.0L671.0 455.4L672.0 454.7L673.0 454.0L674.0 453.2L675.0 452.4L676.0 451.5L677.0 450.6L678.0 449.6L679.0 448.5L680.0 447.3L681.0 446.1L682.0 444.9L683.0 443.5L684.0 442.1L685.0 440.6L686.0 439.0L687.0 437.4L688.0 435.6L689.0 433.8L690.0 431.9L691.0 430.0L692.0 427.9L693.0 425.8L694.0 423.6L695.0 421.4L696.0 419.0L697.0 416.7L698.0 414.2L699.0 411.7L700.0 409.2L701.0 406.6L702.0 404.0L703.0 401.4L704.0 398.8L705.0 396.1L706.0 393.5L707.0 390.8L708.0 388.3L709.0 385.7L710.0 383.2L711.0 380.8L712.0 378.5L713.0 376.3L714.0 374.2L715.0 372.2L716.0 370.5L717.0 368.9L718.0 367.4L719.0 366.2L720.0 365.3L721.0 364.5L722.0 364.0L723.0 363.7L724.0 363.7L725.0 364.0L726.0 364.6L727.0 365.6L728.0 366.9L729.0 368.4L730.0 370.3L731.0 372.3L732.0 374.6L733.0 377.1L734.0 379.8L735.0 382.6L736.0 385.6L737.0 388.6L738.0 391.7L739.0 394.8L740.0 398.0L741.0 401.1L742.0 404.3L743.0 407.4L744.0 410.5L745.0 413.5L746.0 416.5L747.0 419.4L748.0 422.3L749.0 425.0L750.0 427.7L751.0 430.2L752.0 432.7L753.0 435.1L754.0 437.4L755.0 439.6L756.0 441.6L757.0 443.6L758.0 445.5L759.0 447.3L760.0 449.0L761.0 450.6L762.0 452.1L763.0 453.5L764.0 454.8L765.0 456.1L766.0 457.2L767.0 458.3L768.0 459.4L769.0 460.3L770.0 461.2L771.0 462.0L772.0 462.8L773.0 463.5L774.0 464.2L775.0 464.9L776.0 465.4L777.0 466.0L778.0 466.5L779.0 467.0L780.0 467.4L781.0 467.8L782.0 468.2L783.0 468.6L784.0 468.9L785.0 469.3L786.0 469.6L787.0 469.9L788.0 470.1L789.0 470.4L790.0 470.6L791.0 470.9L792.0 471.1L793.0 471.3L794.0 471.5L795.0 471.7L796.0 471.9L797.0 472.0L798.0 472.2L799.0 472.4L800.0 472.5L801.0 472.7L802.0 472.8L803.0 473.0L804.0 473.1L805.0 473.3L806.0 473.4L807.0 473.6L808.0 473.7L809.0 473.8L810.0 474.0L811.0 474.1L812.0 474.2L813.0 474.3L814.0 474.5L815.0 474.6L816.0 474.7L817.0 474.8L818.0 474.9L819.0 475.1L820.0 475.2L821.0 475.3L822.0 475.4L823.0 475.5L824.0 475.6L825.0 475.7L826.0 475.8L827.0 475.9L828.0 476.0L829.0 476.1L830.0 476.2L831.0 476.3L832.0 476.4L833.0 476.5L834.0 476.5L835.0 476.6" fill="none" stroke="#1a1ad6" stroke-width="2.9"/></g><g clip-path="url(#cc0)"><path d="M889.5 153.3h0M893.2 153.9h0M897.0 153.8h0M900.7 154.0h0M904.5 153.8h0M908.2 153.7h0M911.9 154.3h0M915.7 152.6h0M919.4 153.2h0M923.2 153.2h0M926.9 152.0h0M930.6 151.9h0M934.4 152.1h0M938.1 151.6h0M941.9 152.4h0M945.6 151.2h0M949.3 152.6h0M953.1 149.7h0M956.8 149.0h0M960.6 149.9h0M964.3 146.9h0M968.0 147.8h0M971.8 142.8h0M975.5 143.1h0M979.3 143.0h0M983.0 141.5h0M986.7 138.9h0M990.5 136.2h0M994.2 134.5h0M998.0 133.0h0M1001.7 130.5h0M1005.4 128.7h0M1009.2 125.2h0M1012.9 124.0h0M1016.7 122.1h0M1020.4 121.1h0M1024.1 117.3h0M1027.9 115.1h0M1031.6 112.0h0M1035.4 109.7h0M1039.1 107.2h0M1042.8 107.3h0M1046.6 107.0h0M1050.3 104.3h0M1054.1 101.6h0M1057.8 102.2h0M1061.5 100.5h0M1065.3 98.4h0M1069.0 97.5h0M1072.8 94.2h0M1076.5 90.8h0M1080.2 85.2h0M1084.0 81.5h0M1087.7 75.6h0M1091.5 72.0h0M1095.2 65.3h0M1098.9 62.0h0M1102.7 56.6h0M1106.4 52.3h0M1110.2 47.4h0M1113.9 45.7h0M1117.6 41.3h0M1121.4 40.0h0M1125.1 40.1h0M1128.9 44.4h0M1132.6 47.8h0M1136.3 54.3h0M1140.1 63.7h0M1143.8 74.4h0M1147.6 82.2h0M1151.3 90.8h0M1155.0 99.3h0M1158.8 107.8h0M1162.5 116.0h0M1166.3 120.7h0M1170.0 125.9h0M1173.7 129.8h0M1177.5 133.5h0M1181.2 138.3h0M1185.0 140.5h0M1188.7 142.9h0M1192.4 143.6h0M1196.2 146.6h0M1199.9 147.9h0M1203.7 149.9h0M1207.4 150.7h0M1211.1 150.7h0M1214.9 151.9h0M1218.6 152.7h0M1222.4 153.0h0M1226.1 153.1h0M1229.8 154.9h0M1233.6 156.4h0M1237.3 155.2h0M1241.1 156.8h0M1244.8 155.9h0M1248.5 156.2h0M1252.3 156.8h0M1256.0 157.0h0M1259.8 158.2h0" stroke="#111" stroke-width="3.0" stroke-linecap="square" fill="none"/><path d="M888.0 151.5L889.0 151.5L890.0 151.5L891.0 151.5L892.0 151.5L893.0 151.6L894.0 151.6L895.0 151.6L896.0 151.6L897.0 151.6L898.0 151.6L899.0 151.6L900.0 151.7L901.0 151.7L902.0 151.7L903.0 151.7L904.0 151.7L905.0 151.7L906.0 151.7L907.0 151.7L908.0 151.8L909.0 151.8L910.0 151.8L911.0 151.8L912.0 151.8L913.0 151.8L914.0 151.8L915.0 151.8L916.0 151.8L917.0 151.8L918.0 151.9L919.0 151.9L920.0 151.9L921.0 151.9L922.0 151.9L923.0 151.9L924.0 151.9L925.0 151.9L926.0 151.9L927.0 151.9L928.0 151.9L929.0 151.9L930.0 151.9L931.0 151.9L932.0 151.9L933.0 151.9L934.0 151.9L935.0 151.9L936.0 151.8L937.0 151.8L938.0 151.8L939.0 151.8L940.0 151.8L941.0 151.8L942.0 151.7L943.0 151.7L944.0 151.7L945.0 151.6L946.0 151.6L947.0 151.6L948.0 151.5L949.0 151.5L950.0 151.4L951.0 151.3L952.0 151.3L953.0 151.2L954.0 151.1L955.0 151.1L956.0 151.0L957.0 150.9L958.0 150.8L959.0 150.7L960.0 150.6L961.0 150.5L962.0 150.4L963.0 150.3L964.0 150.1L965.0 150.0L966.0 149.8L967.0 149.7L968.0 149.5L969.0 149.4L970.0 149.2L971.0 149.0L972.0 148.8L973.0 148.6L974.0 148.4L975.0 148.2L976.0 147.9L977.0 147.7L978.0 147.4L979.0 147.2L980.0 146.9L981.0 146.6L982.0 146.3L983.0 146.0L984.0 145.7L985.0 145.4L986.0 145.1L987.0 144.8L988.0 144.4L989.0 144.0L990.0 143.7L991.0 143.3L992.0 142.9L993.0 142.5L994.0 142.1L995.0 141.7L996.0 141.3L997.0 140.9L998.0 140.5L999.0 140.0L1000.0 139.6L1001.0 139.1L1002.0 138.7L1003.0 138.2L1004.0 137.8L1005.0 137.3L1006.0 136.9L1007.0 136.4L1008.0 135.9L1009.0 135.5L1010.0 135.0L1011.0 134.5L1012.0 134.1L1013.0 133.6L1014.0 133.2L1015.0 132.7L1016.0 132.3L1017.0 131.9L1018.0 131.4L1019.0 131.0L1020.0 130.6L1021.0 130.2L1022.0 129.8L1023.0 129.4L1024.0 129.1L1025.0 128.7L1026.0 128.4L1027.0 128.1L1028.0 127.7L1029.0 127.5L1030.0 127.2L1031.0 126.9L1032.0 126.7L1033.0 126.5L1034.0 126.3L1035.0 126.1L1036.0 126.0L1037.0 125.8L1038.0 125.7L1039.0 125.6L1040.0 125.6L1041.0 125.5L1042.0 125.5L1043.0 125.5L1044.0 125.6L1045.0 125.6L1046.0 125.8L1047.0 126.0L1048.0 126.2L1049.0 126.5L1050.0 126.9L1051.0 127.2L1052.0 127.7L1053.0 128.1L1054.0 128.6L1055.0 129.1L1056.0 129.6L1057.0 130.2L1058.0 130.7L1059.0 131.3L1060.0 131.9L1061.0 132.5L1062.0 133.1L1063.0 133.7L1064.0 134.3L1065.0 134.9L1066.0 135.5L1067.0 136.1L1068.0 136.7L1069.0 137.3L1070.0 137.8L1071.0 138.4L1072.0 138.9L1073.0 139.4L1074.0 140.0L1075.0 140.5L1076.0 141.0L1077.0 141.4L1078.0 141.9L1079.0 142.4L1080.0 142.8L1081.0 143.2L1082.0 143.6L1083.0 144.0L1084.0 144.4L1085.0 144.8L1086.0 145.2L1087.0 145.5L1088.0 145.9L1089.0 146.2L1090.0 146.5L1091.0 146.8L1092.0 147.1L1093.0 147.4L1094.0 147.7L1095.0 147.9L1096.0 148.2L1097.0 148.4L1098.0 148.7L1099.0 148.9L1100.0 149.1L1101.0 149.3L1102.0 149.5L1103.0 149.7L1104.0 149.9L1105.0 150.1L1106.0 150.2L1107.0 150.4L1108.0 150.6L1109.0 150.7L1110.0 150.9L1111.0 151.0L1112.0 151.2L1113.0 151.3L1114.0 151.4L1115.0 151.6L1116.0 151.7L1117.0 151.8L1118.0 151.9L1119.0 152.0L1120.0 152.1L1121.0 152.2L1122.0 152.3L1123.0 152.4L1124.0 152.5L1125.0 152.6L1126.0 152.7L1127.0 152.8L1128.0 152.9L1129.0 153.0L1130.0 153.1L1131.0 153.1L1132.0 153.2L1133.0 153.3L1134.0 153.4L1135.0 153.4L1136.0 153.5L1137.0 153.6L1138.0 153.6L1139.0 153.7L1140.0 153.8L1141.0 153.8L1142.0 153.9L1143.0 153.9L1144.0 154.0L1145.0 154.1L1146.0 154.1L1147.0 154.2L1148.0 154.2L1149.0 154.3L1150.0 154.3L1151.0 154.4L1152.0 154.4L1153.0 154.5L1154.0 154.5L1155.0 154.6L1156.0 154.6L1157.0 154.7L1158.0 154.7L1159.0 154.8L1160.0 154.8L1161.0 154.8L1162.0 154.9L1163.0 154.9L1164.0 155.0L1165.0 155.0L1166.0 155.1L1167.0 155.1L1168.0 155.1L1169.0 155.2L1170.0 155.2L1171.0 155.2L1172.0 155.3L1173.0 155.3L1174.0 155.4L1175.0 155.4L1176.0 155.4L1177.0 155.5L1178.0 155.5L1179.0 155.5L1180.0 155.6L1181.0 155.6L1182.0 155.6L1183.0 155.7L1184.0 155.7L1185.0 155.7L1186.0 155.8L1187.0 155.8L1188.0 155.8L1189.0 155.9L1190.0 155.9L1191.0 155.9L1192.0 155.9L1193.0 156.0L1194.0 156.0L1195.0 156.0L1196.0 156.1L1197.0 156.1L1198.0 156.1L1199.0 156.1L1200.0 156.2L1201.0 156.2L1202.0 156.2L1203.0 156.3L1204.0 156.3L1205.0 156.3L1206.0 156.3L1207.0 156.4L1208.0 156.4L1209.0 156.4L1210.0 156.4L1211.0 156.5L1212.0 156.5L1213.0 156.5L1214.0 156.5L1215.0 156.6L1216.0 156.6L1217.0 156.6L1218.0 156.6L1219.0 156.7L1220.0 156.7L1221.0 156.7L1222.0 156.7L1223.0 156.8L1224.0 156.8L1225.0 156.8L1226.0 156.8L1227.0 156.9L1228.0 156.9L1229.0 156.9L1230.0 156.9L1231.0 157.0L1232.0 157.0L1233.0 157.0L1234.0 157.0L1235.0 157.0L1236.0 157.1L1237.0 157.1L1238.0 157.1L1239.0 157.1L1240.0 157.2L1241.0 157.2L1242.0 157.2L1243.0 157.2L1244.0 157.2L1245.0 157.3L1246.0 157.3L1247.0 157.3L1248.0 157.3L1249.0 157.4L1250.0 157.4L1251.0 157.4L1252.0 157.4L1253.0 157.4L1254.0 157.5L1255.0 157.5L1256.0 157.5L1257.0 157.5L1258.0 157.5L1259.0 157.6L1260.0 157.6L1261.0 157.6" fill="none" stroke="#e8282c" stroke-width="2.3"/><path d="M888.0 150.4L889.0 150.4L890.0 150.4L891.0 150.4L892.0 150.4L893.0 150.4L894.0 150.4L895.0 150.4L896.0 150.4L897.0 150.4L898.0 150.4L899.0 150.4L900.0 150.4L901.0 150.4L902.0 150.4L903.0 150.4L904.0 150.4L905.0 150.4L906.0 150.4L907.0 150.4L908.0 150.4L909.0 150.4L910.0 150.4L911.0 150.4L912.0 150.4L913.0 150.4L914.0 150.4L915.0 150.4L916.0 150.4L917.0 150.4L918.0 150.4L919.0 150.4L920.0 150.4L921.0 150.4L922.0 150.4L923.0 150.4L924.0 150.4L925.0 150.4L926.0 150.4L927.0 150.4L928.0 150.4L929.0 150.4L930.0 150.4L931.0 150.4L932.0 150.4L933.0 150.4L934.0 150.4L935.0 150.4L936.0 150.4L937.0 150.4L938.0 150.3L939.0 150.3L940.0 150.3L941.0 150.3L942.0 150.3L943.0 150.3L944.0 150.3L945.0 150.3L946.0 150.3L947.0 150.3L948.0 150.2L949.0 150.2L950.0 150.2L951.0 150.2L952.0 150.2L953.0 150.2L954.0 150.2L955.0 150.2L956.0 150.1L957.0 150.1L958.0 150.1L959.0 150.1L960.0 150.1L961.0 150.0L962.0 150.0L963.0 150.0L964.0 150.0L965.0 150.0L966.0 149.9L967.0 149.9L968.0 149.9L969.0 149.9L970.0 149.8L971.0 149.8L972.0 149.8L973.0 149.8L974.0 149.7L975.0 149.7L976.0 149.7L977.0 149.6L978.0 149.6L979.0 149.6L980.0 149.5L981.0 149.5L982.0 149.5L983.0 149.4L984.0 149.4L985.0 149.3L986.0 149.3L987.0 149.2L988.0 149.2L989.0 149.2L990.0 149.1L991.0 149.1L992.0 149.0L993.0 148.9L994.0 148.9L995.0 148.8L996.0 148.8L997.0 148.7L998.0 148.6L999.0 148.6L1000.0 148.5L1001.0 148.4L1002.0 148.4L1003.0 148.3L1004.0 148.2L1005.0 148.1L1006.0 148.0L1007.0 147.9L1008.0 147.8L1009.0 147.7L1010.0 147.6L1011.0 147.5L1012.0 147.4L1013.0 147.3L1014.0 147.2L1015.0 147.1L1016.0 146.9L1017.0 146.8L1018.0 146.6L1019.0 146.5L1020.0 146.3L1021.0 146.2L1022.0 146.0L1023.0 145.8L1024.0 145.6L1025.0 145.5L1026.0 145.2L1027.0 145.0L1028.0 144.8L1029.0 144.6L1030.0 144.3L1031.0 144.1L1032.0 143.8L1033.0 143.5L1034.0 143.2L1035.0 142.9L1036.0 142.6L1037.0 142.3L1038.0 141.9L1039.0 141.6L1040.0 141.2L1041.0 140.8L1042.0 140.4L1043.0 140.0L1044.0 139.5L1045.0 139.1L1046.0 138.6L1047.0 138.1L1048.0 137.5L1049.0 137.0L1050.0 136.4L1051.0 135.8L1052.0 135.2L1053.0 134.6L1054.0 133.9L1055.0 133.2L1056.0 132.5L1057.0 131.8L1058.0 131.0L1059.0 130.2L1060.0 129.4L1061.0 128.6L1062.0 127.7L1063.0 126.8L1064.0 125.9L1065.0 124.9L1066.0 124.0L1067.0 123.0L1068.0 121.9L1069.0 120.9L1070.0 119.8L1071.0 118.7L1072.0 117.6L1073.0 116.5L1074.0 115.3L1075.0 114.1L1076.0 112.9L1077.0 111.7L1078.0 110.4L1079.0 109.2L1080.0 107.9L1081.0 106.6L1082.0 105.3L1083.0 104.1L1084.0 102.8L1085.0 101.5L1086.0 100.2L1087.0 98.9L1088.0 97.6L1089.0 96.4L1090.0 95.2L1091.0 94.0L1092.0 92.8L1093.0 91.7L1094.0 90.6L1095.0 89.6L1096.0 88.6L1097.0 87.7L1098.0 86.8L1099.0 86.0L1100.0 85.3L1101.0 84.7L1102.0 84.2L1103.0 83.7L1104.0 83.4L1105.0 83.1L1106.0 83.0L1107.0 82.9L1108.0 82.9L1109.0 83.1L1110.0 83.3L1111.0 83.6L1112.0 84.0L1113.0 84.5L1114.0 85.0L1115.0 85.6L1116.0 86.4L1117.0 87.1L1118.0 88.0L1119.0 88.9L1120.0 89.8L1121.0 90.9L1122.0 91.9L1123.0 93.0L1124.0 94.2L1125.0 95.4L1126.0 96.6L1127.0 97.9L1128.0 99.1L1129.0 100.4L1130.0 101.7L1131.0 103.0L1132.0 104.4L1133.0 105.7L1134.0 107.0L1135.0 108.4L1136.0 109.7L1137.0 111.0L1138.0 112.3L1139.0 113.6L1140.0 114.9L1141.0 116.2L1142.0 117.5L1143.0 118.7L1144.0 119.9L1145.0 121.1L1146.0 122.3L1147.0 123.5L1148.0 124.6L1149.0 125.7L1150.0 126.8L1151.0 127.9L1152.0 128.9L1153.0 129.9L1154.0 130.9L1155.0 131.9L1156.0 132.8L1157.0 133.7L1158.0 134.6L1159.0 135.4L1160.0 136.2L1161.0 137.0L1162.0 137.8L1163.0 138.5L1164.0 139.3L1165.0 140.0L1166.0 140.6L1167.0 141.2L1168.0 141.9L1169.0 142.5L1170.0 143.0L1171.0 143.6L1172.0 144.1L1173.0 144.6L1174.0 145.1L1175.0 145.5L1176.0 146.0L1177.0 146.4L1178.0 146.8L1179.0 147.2L1180.0 147.5L1181.0 147.9L1182.0 148.2L1183.0 148.5L1184.0 148.8L1185.0 149.1L1186.0 149.4L1187.0 149.7L1188.0 149.9L1189.0 150.2L1190.0 150.4L1191.0 150.6L1192.0 150.8L1193.0 151.0L1194.0 151.2L1195.0 151.4L1196.0 151.6L1197.0 151.7L1198.0 151.9L1199.0 152.1L1200.0 152.2L1201.0 152.3L1202.0 152.5L1203.0 152.6L1204.0 152.7L1205.0 152.9L1206.0 153.0L1207.0 153.1L1208.0 153.2L1209.0 153.3L1210.0 153.4L1211.0 153.5L1212.0 153.6L1213.0 153.7L1214.0 153.8L1215.0 153.8L1216.0 153.9L1217.0 154.0L1218.0 154.1L1219.0 154.2L1220.0 154.2L1221.0 154.3L1222.0 154.4L1223.0 154.5L1224.0 154.5L1225.0 154.6L1226.0 154.6L1227.0 154.7L1228.0 154.8L1229.0 154.8L1230.0 154.9L1231.0 155.0L1232.0 155.0L1233.0 155.1L1234.0 155.1L1235.0 155.2L1236.0 155.2L1237.0 155.3L1238.0 155.3L1239.0 155.4L1240.0 155.4L1241.0 155.5L1242.0 155.5L1243.0 155.6L1244.0 155.6L1245.0 155.7L1246.0 155.7L1247.0 155.8L1248.0 155.8L1249.0 155.8L1250.0 155.9L1251.0 155.9L1252.0 156.0L1253.0 156.0L1254.0 156.1L1255.0 156.1L1256.0 156.1L1257.0 156.2L1258.0 156.2L1259.0 156.3L1260.0 156.3L1261.0 156.3" fill="none" stroke="#38e238" stroke-width="2.3"/><path d="M888.0 151.2L889.0 151.2L890.0 151.2L891.0 151.2L892.0 151.2L893.0 151.2L894.0 151.3L895.0 151.3L896.0 151.3L897.0 151.3L898.0 151.3L899.0 151.3L900.0 151.3L901.0 151.3L902.0 151.4L903.0 151.4L904.0 151.4L905.0 151.4L906.0 151.4L907.0 151.4L908.0 151.4L909.0 151.4L910.0 151.4L911.0 151.5L912.0 151.5L913.0 151.5L914.0 151.5L915.0 151.5L916.0 151.5L917.0 151.5L918.0 151.5L919.0 151.5L920.0 151.6L921.0 151.6L922.0 151.6L923.0 151.6L924.0 151.6L925.0 151.6L926.0 151.6L927.0 151.6L928.0 151.6L929.0 151.6L930.0 151.7L931.0 151.7L932.0 151.7L933.0 151.7L934.0 151.7L935.0 151.7L936.0 151.7L937.0 151.7L938.0 151.7L939.0 151.7L940.0 151.8L941.0 151.8L942.0 151.8L943.0 151.8L944.0 151.8L945.0 151.8L946.0 151.8L947.0 151.8L948.0 151.8L949.0 151.8L950.0 151.8L951.0 151.8L952.0 151.8L953.0 151.9L954.0 151.9L955.0 151.9L956.0 151.9L957.0 151.9L958.0 151.9L959.0 151.9L960.0 151.9L961.0 151.9L962.0 151.9L963.0 151.9L964.0 151.9L965.0 151.9L966.0 151.9L967.0 151.9L968.0 151.9L969.0 151.9L970.0 151.9L971.0 152.0L972.0 152.0L973.0 152.0L974.0 152.0L975.0 152.0L976.0 152.0L977.0 152.0L978.0 152.0L979.0 152.0L980.0 152.0L981.0 152.0L982.0 152.0L983.0 152.0L984.0 152.0L985.0 152.0L986.0 152.0L987.0 152.0L988.0 152.0L989.0 152.0L990.0 152.0L991.0 152.0L992.0 152.0L993.0 152.0L994.0 152.0L995.0 152.0L996.0 152.0L997.0 152.0L998.0 151.9L999.0 151.9L1000.0 151.9L1001.0 151.9L1002.0 151.9L1003.0 151.9L1004.0 151.9L1005.0 151.9L1006.0 151.9L1007.0 151.9L1008.0 151.9L1009.0 151.9L1010.0 151.8L1011.0 151.8L1012.0 151.8L1013.0 151.8L1014.0 151.8L1015.0 151.8L1016.0 151.8L1017.0 151.7L1018.0 151.7L1019.0 151.7L1020.0 151.7L1021.0 151.7L1022.0 151.7L1023.0 151.6L1024.0 151.6L1025.0 151.6L1026.0 151.6L1027.0 151.5L1028.0 151.5L1029.0 151.5L1030.0 151.4L1031.0 151.4L1032.0 151.4L1033.0 151.3L1034.0 151.3L1035.0 151.3L1036.0 151.2L1037.0 151.2L1038.0 151.1L1039.0 151.1L1040.0 151.1L1041.0 151.0L1042.0 151.0L1043.0 150.9L1044.0 150.8L1045.0 150.8L1046.0 150.7L1047.0 150.7L1048.0 150.6L1049.0 150.5L1050.0 150.5L1051.0 150.4L1052.0 150.3L1053.0 150.2L1054.0 150.1L1055.0 150.1L1056.0 150.0L1057.0 149.9L1058.0 149.8L1059.0 149.7L1060.0 149.6L1061.0 149.4L1062.0 149.3L1063.0 149.2L1064.0 149.1L1065.0 148.9L1066.0 148.8L1067.0 148.6L1068.0 148.5L1069.0 148.3L1070.0 148.1L1071.0 148.0L1072.0 147.8L1073.0 147.6L1074.0 147.4L1075.0 147.1L1076.0 146.9L1077.0 146.7L1078.0 146.4L1079.0 146.1L1080.0 145.9L1081.0 145.6L1082.0 145.3L1083.0 144.9L1084.0 144.6L1085.0 144.2L1086.0 143.8L1087.0 143.4L1088.0 143.0L1089.0 142.5L1090.0 142.1L1091.0 141.6L1092.0 141.0L1093.0 140.5L1094.0 139.9L1095.0 139.2L1096.0 138.6L1097.0 137.9L1098.0 137.1L1099.0 136.4L1100.0 135.5L1101.0 134.7L1102.0 133.8L1103.0 132.8L1104.0 131.8L1105.0 130.8L1106.0 129.7L1107.0 128.5L1108.0 127.3L1109.0 126.0L1110.0 124.7L1111.0 123.4L1112.0 122.0L1113.0 120.5L1114.0 119.1L1115.0 117.6L1116.0 116.1L1117.0 114.6L1118.0 113.1L1119.0 111.7L1120.0 110.2L1121.0 108.9L1122.0 107.6L1123.0 106.5L1124.0 105.5L1125.0 104.6L1126.0 103.9L1127.0 103.4L1128.0 103.0L1129.0 102.9L1130.0 103.0L1131.0 103.2L1132.0 103.6L1133.0 104.1L1134.0 104.8L1135.0 105.6L1136.0 106.6L1137.0 107.6L1138.0 108.8L1139.0 110.0L1140.0 111.3L1141.0 112.6L1142.0 114.0L1143.0 115.5L1144.0 116.9L1145.0 118.3L1146.0 119.8L1147.0 121.2L1148.0 122.6L1149.0 124.0L1150.0 125.4L1151.0 126.7L1152.0 128.0L1153.0 129.3L1154.0 130.5L1155.0 131.7L1156.0 132.8L1157.0 133.9L1158.0 135.0L1159.0 136.0L1160.0 137.0L1161.0 137.9L1162.0 138.8L1163.0 139.7L1164.0 140.5L1165.0 141.3L1166.0 142.0L1167.0 142.7L1168.0 143.4L1169.0 144.0L1170.0 144.6L1171.0 145.1L1172.0 145.7L1173.0 146.2L1174.0 146.7L1175.0 147.1L1176.0 147.5L1177.0 147.9L1178.0 148.3L1179.0 148.7L1180.0 149.0L1181.0 149.3L1182.0 149.6L1183.0 149.9L1184.0 150.2L1185.0 150.4L1186.0 150.7L1187.0 150.9L1188.0 151.1L1189.0 151.3L1190.0 151.5L1191.0 151.7L1192.0 151.9L1193.0 152.1L1194.0 152.2L1195.0 152.4L1196.0 152.5L1197.0 152.7L1198.0 152.8L1199.0 152.9L1200.0 153.1L1201.0 153.2L1202.0 153.3L1203.0 153.4L1204.0 153.5L1205.0 153.6L1206.0 153.7L1207.0 153.8L1208.0 153.9L1209.0 154.0L1210.0 154.1L1211.0 154.2L1212.0 154.3L1213.0 154.4L1214.0 154.5L1215.0 154.5L1216.0 154.6L1217.0 154.7L1218.0 154.8L1219.0 154.8L1220.0 154.9L1221.0 155.0L1222.0 155.0L1223.0 155.1L1224.0 155.2L1225.0 155.2L1226.0 155.3L1227.0 155.3L1228.0 155.4L1229.0 155.5L1230.0 155.5L1231.0 155.6L1232.0 155.6L1233.0 155.7L1234.0 155.7L1235.0 155.8L1236.0 155.8L1237.0 155.9L1238.0 155.9L1239.0 156.0L1240.0 156.0L1241.0 156.1L1242.0 156.1L1243.0 156.2L1244.0 156.2L1245.0 156.2L1246.0 156.3L1247.0 156.3L1248.0 156.4L1249.0 156.4L1250.0 156.4L1251.0 156.5L1252.0 156.5L1253.0 156.6L1254.0 156.6L1255.0 156.6L1256.0 156.7L1257.0 156.7L1258.0 156.8L1259.0 156.8L1260.0 156.8L1261.0 156.9" fill="none" stroke="#f09434" stroke-width="2.3"/><path d="M888.0 149.8L889.0 149.8L890.0 149.8L891.0 149.8L892.0 149.8L893.0 149.8L894.0 149.8L895.0 149.8L896.0 149.8L897.0 149.7L898.0 149.7L899.0 149.7L900.0 149.7L901.0 149.7L902.0 149.7L903.0 149.7L904.0 149.7L905.0 149.7L906.0 149.7L907.0 149.7L908.0 149.7L909.0 149.7L910.0 149.7L911.0 149.7L912.0 149.7L913.0 149.6L914.0 149.6L915.0 149.6L916.0 149.6L917.0 149.6L918.0 149.6L919.0 149.6L920.0 149.5L921.0 149.5L922.0 149.5L923.0 149.5L924.0 149.5L925.0 149.4L926.0 149.4L927.0 149.4L928.0 149.4L929.0 149.3L930.0 149.3L931.0 149.3L932.0 149.2L933.0 149.2L934.0 149.2L935.0 149.1L936.0 149.1L937.0 149.1L938.0 149.0L939.0 149.0L940.0 148.9L941.0 148.8L942.0 148.8L943.0 148.7L944.0 148.7L945.0 148.6L946.0 148.5L947.0 148.4L948.0 148.4L949.0 148.3L950.0 148.2L951.0 148.1L952.0 148.0L953.0 147.9L954.0 147.8L955.0 147.7L956.0 147.5L957.0 147.4L958.0 147.3L959.0 147.1L960.0 147.0L961.0 146.8L962.0 146.7L963.0 146.5L964.0 146.3L965.0 146.1L966.0 145.9L967.0 145.7L968.0 145.5L969.0 145.3L970.0 145.0L971.0 144.8L972.0 144.5L973.0 144.3L974.0 144.0L975.0 143.7L976.0 143.4L977.0 143.1L978.0 142.8L979.0 142.5L980.0 142.2L981.0 141.8L982.0 141.4L983.0 141.1L984.0 140.7L985.0 140.3L986.0 139.9L987.0 139.5L988.0 139.1L989.0 138.6L990.0 138.2L991.0 137.7L992.0 137.2L993.0 136.8L994.0 136.3L995.0 135.8L996.0 135.2L997.0 134.7L998.0 134.2L999.0 133.7L1000.0 133.1L1001.0 132.5L1002.0 132.0L1003.0 131.4L1004.0 130.8L1005.0 130.2L1006.0 129.6L1007.0 129.1L1008.0 128.4L1009.0 127.8L1010.0 127.2L1011.0 126.6L1012.0 126.0L1013.0 125.4L1014.0 124.8L1015.0 124.1L1016.0 123.5L1017.0 122.9L1018.0 122.3L1019.0 121.6L1020.0 121.0L1021.0 120.4L1022.0 119.8L1023.0 119.2L1024.0 118.6L1025.0 118.0L1026.0 117.4L1027.0 116.8L1028.0 116.2L1029.0 115.6L1030.0 115.0L1031.0 114.4L1032.0 113.9L1033.0 113.3L1034.0 112.7L1035.0 112.2L1036.0 111.6L1037.0 111.1L1038.0 110.6L1039.0 110.0L1040.0 109.5L1041.0 109.0L1042.0 108.5L1043.0 108.0L1044.0 107.5L1045.0 107.0L1046.0 106.6L1047.0 106.2L1048.0 105.8L1049.0 105.4L1050.0 105.1L1051.0 104.7L1052.0 104.4L1053.0 104.1L1054.0 103.8L1055.0 103.5L1056.0 103.2L1057.0 102.9L1058.0 102.6L1059.0 102.2L1060.0 101.8L1061.0 101.4L1062.0 101.0L1063.0 100.6L1064.0 100.1L1065.0 99.6L1066.0 99.0L1067.0 98.4L1068.0 97.8L1069.0 97.1L1070.0 96.4L1071.0 95.6L1072.0 94.8L1073.0 94.0L1074.0 93.1L1075.0 92.1L1076.0 91.2L1077.0 90.1L1078.0 89.1L1079.0 88.0L1080.0 86.8L1081.0 85.6L1082.0 84.4L1083.0 83.1L1084.0 81.9L1085.0 80.5L1086.0 79.2L1087.0 77.8L1088.0 76.4L1089.0 75.0L1090.0 73.6L1091.0 72.2L1092.0 70.7L1093.0 69.3L1094.0 67.8L1095.0 66.4L1096.0 65.0L1097.0 63.6L1098.0 62.2L1099.0 60.8L1100.0 59.5L1101.0 58.2L1102.0 56.9L1103.0 55.6L1104.0 54.4L1105.0 53.2L1106.0 52.1L1107.0 51.0L1108.0 50.0L1109.0 49.0L1110.0 48.0L1111.0 47.0L1112.0 46.1L1113.0 45.3L1114.0 44.5L1115.0 43.7L1116.0 43.0L1117.0 42.3L1118.0 41.8L1119.0 41.3L1120.0 40.9L1121.0 40.7L1122.0 40.5L1123.0 40.6L1124.0 40.7L1125.0 41.1L1126.0 41.7L1127.0 42.4L1128.0 43.4L1129.0 44.6L1130.0 46.0L1131.0 47.6L1132.0 49.4L1133.0 51.3L1134.0 53.3L1135.0 55.5L1136.0 57.8L1137.0 60.2L1138.0 62.7L1139.0 65.3L1140.0 67.9L1141.0 70.5L1142.0 73.2L1143.0 75.9L1144.0 78.6L1145.0 81.2L1146.0 83.9L1147.0 86.5L1148.0 89.0L1149.0 91.6L1150.0 94.0L1151.0 96.5L1152.0 98.8L1153.0 101.1L1154.0 103.3L1155.0 105.5L1156.0 107.6L1157.0 109.6L1158.0 111.5L1159.0 113.4L1160.0 115.2L1161.0 116.9L1162.0 118.6L1163.0 120.2L1164.0 121.7L1165.0 123.2L1166.0 124.6L1167.0 126.0L1168.0 127.2L1169.0 128.5L1170.0 129.6L1171.0 130.7L1172.0 131.8L1173.0 132.8L1174.0 133.7L1175.0 134.7L1176.0 135.5L1177.0 136.3L1178.0 137.1L1179.0 137.9L1180.0 138.6L1181.0 139.2L1182.0 139.9L1183.0 140.5L1184.0 141.0L1185.0 141.6L1186.0 142.1L1187.0 142.6L1188.0 143.1L1189.0 143.5L1190.0 143.9L1191.0 144.3L1192.0 144.7L1193.0 145.1L1194.0 145.4L1195.0 145.8L1196.0 146.1L1197.0 146.4L1198.0 146.7L1199.0 147.0L1200.0 147.2L1201.0 147.5L1202.0 147.8L1203.0 148.0L1204.0 148.2L1205.0 148.4L1206.0 148.6L1207.0 148.9L1208.0 149.1L1209.0 149.2L1210.0 149.4L1211.0 149.6L1212.0 149.8L1213.0 149.9L1214.0 150.1L1215.0 150.3L1216.0 150.4L1217.0 150.6L1218.0 150.7L1219.0 150.8L1220.0 151.0L1221.0 151.1L1222.0 151.2L1223.0 151.4L1224.0 151.5L1225.0 151.6L1226.0 151.7L1227.0 151.8L1228.0 151.9L1229.0 152.0L1230.0 152.2L1231.0 152.3L1232.0 152.4L1233.0 152.5L1234.0 152.6L1235.0 152.7L1236.0 152.7L1237.0 152.8L1238.0 152.9L1239.0 153.0L1240.0 153.1L1241.0 153.2L1242.0 153.3L1243.0 153.3L1244.0 153.4L1245.0 153.5L1246.0 153.6L1247.0 153.7L1248.0 153.7L1249.0 153.8L1250.0 153.9L1251.0 154.0L1252.0 154.0L1253.0 154.1L1254.0 154.2L1255.0 154.2L1256.0 154.3L1257.0 154.4L1258.0 154.4L1259.0 154.5L1260.0 154.5L1261.0 154.6" fill="none" stroke="#1a1ad6" stroke-width="3.3"/></g><g clip-path="url(#cc1)"><path d="M889.5 311.9h0M893.2 309.2h0M897.0 311.4h0M900.7 311.0h0M904.5 311.8h0M908.2 309.8h0M911.9 310.3h0M915.7 310.8h0M919.4 310.4h0M923.2 310.5h0M926.9 308.5h0M930.6 308.2h0M934.4 308.6h0M938.1 306.7h0M941.9 307.3h0M945.6 307.0h0M949.3 305.7h0M953.1 303.6h0M956.8 303.1h0M960.6 302.1h0M964.3 301.3h0M968.0 299.8h0M971.8 297.8h0M975.5 295.3h0M979.3 293.4h0M983.0 292.1h0M986.7 290.1h0M990.5 288.3h0M994.2 285.8h0M998.0 284.2h0M1001.7 281.6h0M1005.4 279.9h0M1009.2 277.5h0M1012.9 275.7h0M1016.7 272.4h0M1020.4 270.3h0M1024.1 268.1h0M1027.9 267.0h0M1031.6 265.6h0M1035.4 264.1h0M1039.1 261.6h0M1042.8 259.8h0M1046.6 259.0h0M1050.3 257.3h0M1054.1 255.4h0M1057.8 255.3h0M1061.5 252.7h0M1065.3 249.7h0M1069.0 247.8h0M1072.8 243.9h0M1076.5 240.4h0M1080.2 235.4h0M1084.0 230.9h0M1087.7 225.7h0M1091.5 221.2h0M1095.2 217.0h0M1098.9 212.6h0M1102.7 208.9h0M1106.4 206.9h0M1110.2 203.4h0M1113.9 203.4h0M1117.6 203.5h0M1121.4 203.1h0M1125.1 204.4h0M1128.9 205.4h0M1132.6 211.5h0M1136.3 217.1h0M1140.1 226.7h0M1143.8 235.5h0M1147.6 245.5h0M1151.3 253.7h0M1155.0 262.7h0M1158.8 269.3h0M1162.5 277.7h0M1166.3 283.8h0M1170.0 288.5h0M1173.7 293.2h0M1177.5 296.3h0M1181.2 298.8h0M1185.0 301.4h0M1188.7 302.6h0M1192.4 305.3h0M1196.2 306.2h0M1199.9 307.4h0M1203.7 308.1h0M1207.4 308.7h0M1211.1 309.3h0M1214.9 310.4h0M1218.6 311.8h0M1222.4 310.6h0M1226.1 312.5h0M1229.8 315.4h0M1233.6 313.5h0M1237.3 313.7h0M1241.1 314.5h0M1244.8 314.5h0M1248.5 315.0h0M1252.3 315.3h0M1256.0 314.8h0M1259.8 316.6h0" stroke="#111" stroke-width="3.0" stroke-linecap="square" fill="none"/><path d="M888.0 308.0L889.0 308.0L890.0 308.0L891.0 308.0L892.0 307.9L893.0 307.9L894.0 307.9L895.0 307.9L896.0 307.9L897.0 307.9L898.0 307.9L899.0 307.9L900.0 307.9L901.0 307.9L902.0 307.9L903.0 307.8L904.0 307.8L905.0 307.8L906.0 307.8L907.0 307.8L908.0 307.8L909.0 307.8L910.0 307.7L911.0 307.7L912.0 307.7L913.0 307.7L914.0 307.7L915.0 307.6L916.0 307.6L917.0 307.6L918.0 307.6L919.0 307.6L920.0 307.5L921.0 307.5L922.0 307.5L923.0 307.4L924.0 307.4L925.0 307.4L926.0 307.3L927.0 307.3L928.0 307.2L929.0 307.2L930.0 307.1L931.0 307.1L932.0 307.0L933.0 307.0L934.0 306.9L935.0 306.9L936.0 306.8L937.0 306.7L938.0 306.7L939.0 306.6L940.0 306.5L941.0 306.4L942.0 306.3L943.0 306.2L944.0 306.1L945.0 306.0L946.0 305.9L947.0 305.8L948.0 305.7L949.0 305.6L950.0 305.4L951.0 305.3L952.0 305.2L953.0 305.0L954.0 304.9L955.0 304.7L956.0 304.5L957.0 304.4L958.0 304.2L959.0 304.0L960.0 303.8L961.0 303.6L962.0 303.4L963.0 303.1L964.0 302.9L965.0 302.7L966.0 302.4L967.0 302.2L968.0 301.9L969.0 301.6L970.0 301.3L971.0 301.1L972.0 300.8L973.0 300.4L974.0 300.1L975.0 299.8L976.0 299.5L977.0 299.1L978.0 298.7L979.0 298.4L980.0 298.0L981.0 297.6L982.0 297.2L983.0 296.8L984.0 296.4L985.0 296.0L986.0 295.5L987.0 295.1L988.0 294.6L989.0 294.2L990.0 293.7L991.0 293.2L992.0 292.8L993.0 292.3L994.0 291.8L995.0 291.3L996.0 290.8L997.0 290.2L998.0 289.7L999.0 289.2L1000.0 288.7L1001.0 288.1L1002.0 287.6L1003.0 287.1L1004.0 286.5L1005.0 286.0L1006.0 285.5L1007.0 284.9L1008.0 284.4L1009.0 283.8L1010.0 283.3L1011.0 282.8L1012.0 282.3L1013.0 281.7L1014.0 281.2L1015.0 280.7L1016.0 280.2L1017.0 279.7L1018.0 279.2L1019.0 278.8L1020.0 278.3L1021.0 277.8L1022.0 277.4L1023.0 277.0L1024.0 276.6L1025.0 276.2L1026.0 275.8L1027.0 275.4L1028.0 275.1L1029.0 274.8L1030.0 274.5L1031.0 274.2L1032.0 273.9L1033.0 273.7L1034.0 273.5L1035.0 273.3L1036.0 273.1L1037.0 273.0L1038.0 272.9L1039.0 272.8L1040.0 272.7L1041.0 272.7L1042.0 272.7L1043.0 272.7L1044.0 272.8L1045.0 272.9L1046.0 273.0L1047.0 273.3L1048.0 273.6L1049.0 273.9L1050.0 274.3L1051.0 274.7L1052.0 275.2L1053.0 275.7L1054.0 276.3L1055.0 276.9L1056.0 277.5L1057.0 278.1L1058.0 278.8L1059.0 279.4L1060.0 280.1L1061.0 280.9L1062.0 281.6L1063.0 282.3L1064.0 283.0L1065.0 283.7L1066.0 284.5L1067.0 285.2L1068.0 285.9L1069.0 286.6L1070.0 287.3L1071.0 288.0L1072.0 288.7L1073.0 289.4L1074.0 290.1L1075.0 290.7L1076.0 291.4L1077.0 292.0L1078.0 292.6L1079.0 293.2L1080.0 293.8L1081.0 294.4L1082.0 294.9L1083.0 295.5L1084.0 296.0L1085.0 296.5L1086.0 297.0L1087.0 297.5L1088.0 298.0L1089.0 298.5L1090.0 298.9L1091.0 299.4L1092.0 299.8L1093.0 300.2L1094.0 300.6L1095.0 301.0L1096.0 301.4L1097.0 301.8L1098.0 302.1L1099.0 302.5L1100.0 302.8L1101.0 303.2L1102.0 303.5L1103.0 303.8L1104.0 304.1L1105.0 304.4L1106.0 304.7L1107.0 305.0L1108.0 305.2L1109.0 305.5L1110.0 305.8L1111.0 306.0L1112.0 306.3L1113.0 306.5L1114.0 306.7L1115.0 307.0L1116.0 307.2L1117.0 307.4L1118.0 307.6L1119.0 307.8L1120.0 308.0L1121.0 308.2L1122.0 308.4L1123.0 308.6L1124.0 308.8L1125.0 308.9L1126.0 309.1L1127.0 309.3L1128.0 309.4L1129.0 309.6L1130.0 309.8L1131.0 309.9L1132.0 310.1L1133.0 310.2L1134.0 310.4L1135.0 310.5L1136.0 310.6L1137.0 310.8L1138.0 310.9L1139.0 311.0L1140.0 311.1L1141.0 311.2L1142.0 311.4L1143.0 311.5L1144.0 311.6L1145.0 311.7L1146.0 311.8L1147.0 311.9L1148.0 312.0L1149.0 312.1L1150.0 312.1L1151.0 312.2L1152.0 312.3L1153.0 312.4L1154.0 312.5L1155.0 312.5L1156.0 312.6L1157.0 312.7L1158.0 312.8L1159.0 312.8L1160.0 312.9L1161.0 313.0L1162.0 313.0L1163.0 313.1L1164.0 313.1L1165.0 313.2L1166.0 313.3L1167.0 313.3L1168.0 313.4L1169.0 313.4L1170.0 313.5L1171.0 313.5L1172.0 313.6L1173.0 313.6L1174.0 313.6L1175.0 313.7L1176.0 313.7L1177.0 313.8L1178.0 313.8L1179.0 313.9L1180.0 313.9L1181.0 313.9L1182.0 314.0L1183.0 314.0L1184.0 314.0L1185.0 314.1L1186.0 314.1L1187.0 314.1L1188.0 314.2L1189.0 314.2L1190.0 314.2L1191.0 314.3L1192.0 314.3L1193.0 314.3L1194.0 314.4L1195.0 314.4L1196.0 314.4L1197.0 314.4L1198.0 314.5L1199.0 314.5L1200.0 314.5L1201.0 314.6L1202.0 314.6L1203.0 314.6L1204.0 314.6L1205.0 314.7L1206.0 314.7L1207.0 314.7L1208.0 314.7L1209.0 314.7L1210.0 314.8L1211.0 314.8L1212.0 314.8L1213.0 314.8L1214.0 314.9L1215.0 314.9L1216.0 314.9L1217.0 314.9L1218.0 314.9L1219.0 315.0L1220.0 315.0L1221.0 315.0L1222.0 315.0L1223.0 315.0L1224.0 315.1L1225.0 315.1L1226.0 315.1L1227.0 315.1L1228.0 315.1L1229.0 315.1L1230.0 315.2L1231.0 315.2L1232.0 315.2L1233.0 315.2L1234.0 315.2L1235.0 315.2L1236.0 315.3L1237.0 315.3L1238.0 315.3L1239.0 315.3L1240.0 315.3L1241.0 315.3L1242.0 315.3L1243.0 315.4L1244.0 315.4L1245.0 315.4L1246.0 315.4L1247.0 315.4L1248.0 315.4L1249.0 315.4L1250.0 315.5L1251.0 315.5L1252.0 315.5L1253.0 315.5L1254.0 315.5L1255.0 315.5L1256.0 315.5L1257.0 315.5L1258.0 315.6L1259.0 315.6L1260.0 315.6L1261.0 315.6" fill="none" stroke="#e8282c" stroke-width="2.3"/><path d="M888.0 308.1L889.0 308.1L890.0 308.1L891.0 308.1L892.0 308.1L893.0 308.1L894.0 308.1L895.0 308.1L896.0 308.1L897.0 308.1L898.0 308.1L899.0 308.1L900.0 308.1L901.0 308.1L902.0 308.1L903.0 308.1L904.0 308.1L905.0 308.1L906.0 308.1L907.0 308.1L908.0 308.1L909.0 308.1L910.0 308.1L911.0 308.1L912.0 308.1L913.0 308.1L914.0 308.1L915.0 308.1L916.0 308.1L917.0 308.1L918.0 308.1L919.0 308.1L920.0 308.1L921.0 308.1L922.0 308.1L923.0 308.0L924.0 308.0L925.0 308.0L926.0 308.0L927.0 308.0L928.0 308.0L929.0 308.0L930.0 308.0L931.0 308.0L932.0 308.0L933.0 308.0L934.0 308.0L935.0 308.0L936.0 308.0L937.0 308.0L938.0 308.0L939.0 308.0L940.0 308.0L941.0 308.0L942.0 308.0L943.0 307.9L944.0 307.9L945.0 307.9L946.0 307.9L947.0 307.9L948.0 307.9L949.0 307.9L950.0 307.9L951.0 307.9L952.0 307.9L953.0 307.9L954.0 307.9L955.0 307.9L956.0 307.9L957.0 307.8L958.0 307.8L959.0 307.8L960.0 307.8L961.0 307.8L962.0 307.8L963.0 307.8L964.0 307.8L965.0 307.8L966.0 307.8L967.0 307.7L968.0 307.7L969.0 307.7L970.0 307.7L971.0 307.7L972.0 307.7L973.0 307.7L974.0 307.7L975.0 307.7L976.0 307.6L977.0 307.6L978.0 307.6L979.0 307.6L980.0 307.6L981.0 307.6L982.0 307.6L983.0 307.5L984.0 307.5L985.0 307.5L986.0 307.5L987.0 307.5L988.0 307.5L989.0 307.5L990.0 307.4L991.0 307.4L992.0 307.4L993.0 307.4L994.0 307.4L995.0 307.3L996.0 307.3L997.0 307.3L998.0 307.3L999.0 307.2L1000.0 307.2L1001.0 307.2L1002.0 307.2L1003.0 307.1L1004.0 307.1L1005.0 307.1L1006.0 307.0L1007.0 307.0L1008.0 307.0L1009.0 306.9L1010.0 306.9L1011.0 306.8L1012.0 306.8L1013.0 306.7L1014.0 306.7L1015.0 306.6L1016.0 306.6L1017.0 306.5L1018.0 306.4L1019.0 306.3L1020.0 306.3L1021.0 306.2L1022.0 306.1L1023.0 306.0L1024.0 305.9L1025.0 305.7L1026.0 305.6L1027.0 305.5L1028.0 305.3L1029.0 305.2L1030.0 305.0L1031.0 304.8L1032.0 304.6L1033.0 304.4L1034.0 304.2L1035.0 303.9L1036.0 303.7L1037.0 303.4L1038.0 303.1L1039.0 302.8L1040.0 302.5L1041.0 302.1L1042.0 301.7L1043.0 301.3L1044.0 300.9L1045.0 300.4L1046.0 299.9L1047.0 299.4L1048.0 298.8L1049.0 298.3L1050.0 297.6L1051.0 297.0L1052.0 296.3L1053.0 295.6L1054.0 294.8L1055.0 294.0L1056.0 293.2L1057.0 292.3L1058.0 291.4L1059.0 290.5L1060.0 289.5L1061.0 288.5L1062.0 287.4L1063.0 286.3L1064.0 285.2L1065.0 284.0L1066.0 282.8L1067.0 281.5L1068.0 280.3L1069.0 278.9L1070.0 277.6L1071.0 276.2L1072.0 274.8L1073.0 273.4L1074.0 271.9L1075.0 270.5L1076.0 269.0L1077.0 267.5L1078.0 266.0L1079.0 264.5L1080.0 263.0L1081.0 261.5L1082.0 260.0L1083.0 258.5L1084.0 257.0L1085.0 255.6L1086.0 254.2L1087.0 252.8L1088.0 251.4L1089.0 250.2L1090.0 248.9L1091.0 247.8L1092.0 246.7L1093.0 245.6L1094.0 244.7L1095.0 243.8L1096.0 243.1L1097.0 242.4L1098.0 241.8L1099.0 241.4L1100.0 241.1L1101.0 240.8L1102.0 240.7L1103.0 240.7L1104.0 240.9L1105.0 241.2L1106.0 241.6L1107.0 242.1L1108.0 242.8L1109.0 243.6L1110.0 244.6L1111.0 245.6L1112.0 246.7L1113.0 247.9L1114.0 249.2L1115.0 250.6L1116.0 252.0L1117.0 253.5L1118.0 255.1L1119.0 256.6L1120.0 258.2L1121.0 259.8L1122.0 261.4L1123.0 263.0L1124.0 264.7L1125.0 266.3L1126.0 267.9L1127.0 269.5L1128.0 271.1L1129.0 272.6L1130.0 274.2L1131.0 275.7L1132.0 277.1L1133.0 278.6L1134.0 280.0L1135.0 281.3L1136.0 282.7L1137.0 284.0L1138.0 285.2L1139.0 286.4L1140.0 287.6L1141.0 288.8L1142.0 289.9L1143.0 290.9L1144.0 291.9L1145.0 292.9L1146.0 293.9L1147.0 294.8L1148.0 295.6L1149.0 296.5L1150.0 297.3L1151.0 298.0L1152.0 298.8L1153.0 299.5L1154.0 300.1L1155.0 300.8L1156.0 301.4L1157.0 301.9L1158.0 302.5L1159.0 303.0L1160.0 303.5L1161.0 304.0L1162.0 304.4L1163.0 304.9L1164.0 305.3L1165.0 305.6L1166.0 306.0L1167.0 306.4L1168.0 306.7L1169.0 307.0L1170.0 307.3L1171.0 307.6L1172.0 307.9L1173.0 308.1L1174.0 308.4L1175.0 308.6L1176.0 308.8L1177.0 309.0L1178.0 309.2L1179.0 309.4L1180.0 309.6L1181.0 309.8L1182.0 309.9L1183.0 310.1L1184.0 310.3L1185.0 310.4L1186.0 310.5L1187.0 310.7L1188.0 310.8L1189.0 310.9L1190.0 311.1L1191.0 311.2L1192.0 311.3L1193.0 311.4L1194.0 311.5L1195.0 311.6L1196.0 311.7L1197.0 311.8L1198.0 311.9L1199.0 312.0L1200.0 312.1L1201.0 312.1L1202.0 312.2L1203.0 312.3L1204.0 312.4L1205.0 312.5L1206.0 312.5L1207.0 312.6L1208.0 312.7L1209.0 312.7L1210.0 312.8L1211.0 312.9L1212.0 312.9L1213.0 313.0L1214.0 313.1L1215.0 313.1L1216.0 313.2L1217.0 313.2L1218.0 313.3L1219.0 313.3L1220.0 313.4L1221.0 313.4L1222.0 313.5L1223.0 313.5L1224.0 313.6L1225.0 313.6L1226.0 313.7L1227.0 313.7L1228.0 313.8L1229.0 313.8L1230.0 313.8L1231.0 313.9L1232.0 313.9L1233.0 314.0L1234.0 314.0L1235.0 314.0L1236.0 314.1L1237.0 314.1L1238.0 314.2L1239.0 314.2L1240.0 314.2L1241.0 314.3L1242.0 314.3L1243.0 314.3L1244.0 314.4L1245.0 314.4L1246.0 314.4L1247.0 314.4L1248.0 314.5L1249.0 314.5L1250.0 314.5L1251.0 314.6L1252.0 314.6L1253.0 314.6L1254.0 314.6L1255.0 314.7L1256.0 314.7L1257.0 314.7L1258.0 314.8L1259.0 314.8L1260.0 314.8L1261.0 314.8" fill="none" stroke="#38e238" stroke-width="2.3"/><path d="M888.0 308.3L889.0 308.3L890.0 308.3L891.0 308.3L892.0 308.3L893.0 308.3L894.0 308.3L895.0 308.3L896.0 308.3L897.0 308.3L898.0 308.3L899.0 308.3L900.0 308.3L901.0 308.3L902.0 308.3L903.0 308.3L904.0 308.3L905.0 308.3L906.0 308.3L907.0 308.3L908.0 308.3L909.0 308.3L910.0 308.3L911.0 308.2L912.0 308.2L913.0 308.2L914.0 308.2L915.0 308.2L916.0 308.2L917.0 308.2L918.0 308.2L919.0 308.2L920.0 308.2L921.0 308.2L922.0 308.2L923.0 308.2L924.0 308.2L925.0 308.2L926.0 308.2L927.0 308.2L928.0 308.2L929.0 308.2L930.0 308.2L931.0 308.2L932.0 308.2L933.0 308.2L934.0 308.2L935.0 308.2L936.0 308.2L937.0 308.2L938.0 308.2L939.0 308.2L940.0 308.2L941.0 308.2L942.0 308.2L943.0 308.2L944.0 308.2L945.0 308.2L946.0 308.2L947.0 308.2L948.0 308.2L949.0 308.2L950.0 308.2L951.0 308.2L952.0 308.2L953.0 308.2L954.0 308.2L955.0 308.2L956.0 308.2L957.0 308.2L958.0 308.2L959.0 308.2L960.0 308.2L961.0 308.2L962.0 308.2L963.0 308.2L964.0 308.2L965.0 308.1L966.0 308.1L967.0 308.1L968.0 308.1L969.0 308.1L970.0 308.1L971.0 308.1L972.0 308.1L973.0 308.1L974.0 308.1L975.0 308.1L976.0 308.1L977.0 308.1L978.0 308.1L979.0 308.1L980.0 308.1L981.0 308.1L982.0 308.1L983.0 308.1L984.0 308.1L985.0 308.1L986.0 308.1L987.0 308.1L988.0 308.1L989.0 308.1L990.0 308.1L991.0 308.1L992.0 308.1L993.0 308.0L994.0 308.0L995.0 308.0L996.0 308.0L997.0 308.0L998.0 308.0L999.0 308.0L1000.0 308.0L1001.0 308.0L1002.0 308.0L1003.0 308.0L1004.0 308.0L1005.0 308.0L1006.0 308.0L1007.0 308.0L1008.0 308.0L1009.0 308.0L1010.0 308.0L1011.0 308.0L1012.0 307.9L1013.0 307.9L1014.0 307.9L1015.0 307.9L1016.0 307.9L1017.0 307.9L1018.0 307.9L1019.0 307.9L1020.0 307.9L1021.0 307.9L1022.0 307.9L1023.0 307.8L1024.0 307.8L1025.0 307.8L1026.0 307.8L1027.0 307.8L1028.0 307.8L1029.0 307.8L1030.0 307.7L1031.0 307.7L1032.0 307.7L1033.0 307.7L1034.0 307.7L1035.0 307.6L1036.0 307.6L1037.0 307.6L1038.0 307.6L1039.0 307.5L1040.0 307.5L1041.0 307.5L1042.0 307.4L1043.0 307.4L1044.0 307.4L1045.0 307.3L1046.0 307.3L1047.0 307.3L1048.0 307.2L1049.0 307.2L1050.0 307.1L1051.0 307.1L1052.0 307.0L1053.0 307.0L1054.0 306.9L1055.0 306.8L1056.0 306.8L1057.0 306.7L1058.0 306.6L1059.0 306.6L1060.0 306.5L1061.0 306.4L1062.0 306.3L1063.0 306.2L1064.0 306.1L1065.0 306.0L1066.0 305.9L1067.0 305.8L1068.0 305.7L1069.0 305.5L1070.0 305.4L1071.0 305.2L1072.0 305.1L1073.0 304.9L1074.0 304.7L1075.0 304.5L1076.0 304.3L1077.0 304.1L1078.0 303.9L1079.0 303.7L1080.0 303.4L1081.0 303.1L1082.0 302.8L1083.0 302.5L1084.0 302.2L1085.0 301.8L1086.0 301.4L1087.0 301.0L1088.0 300.5L1089.0 300.1L1090.0 299.6L1091.0 299.0L1092.0 298.4L1093.0 297.8L1094.0 297.2L1095.0 296.5L1096.0 295.7L1097.0 295.0L1098.0 294.1L1099.0 293.3L1100.0 292.3L1101.0 291.4L1102.0 290.3L1103.0 289.2L1104.0 288.1L1105.0 286.9L1106.0 285.7L1107.0 284.4L1108.0 283.0L1109.0 281.6L1110.0 280.1L1111.0 278.6L1112.0 277.1L1113.0 275.5L1114.0 273.8L1115.0 272.2L1116.0 270.5L1117.0 268.8L1118.0 267.2L1119.0 265.5L1120.0 263.9L1121.0 262.4L1122.0 260.9L1123.0 259.5L1124.0 258.2L1125.0 257.1L1126.0 256.1L1127.0 255.3L1128.0 254.7L1129.0 254.3L1130.0 254.1L1131.0 254.1L1132.0 254.3L1133.0 254.7L1134.0 255.3L1135.0 256.1L1136.0 257.0L1137.0 258.0L1138.0 259.2L1139.0 260.5L1140.0 261.9L1141.0 263.4L1142.0 265.0L1143.0 266.6L1144.0 268.2L1145.0 269.9L1146.0 271.6L1147.0 273.3L1148.0 275.0L1149.0 276.7L1150.0 278.3L1151.0 280.0L1152.0 281.6L1153.0 283.1L1154.0 284.7L1155.0 286.1L1156.0 287.6L1157.0 289.0L1158.0 290.3L1159.0 291.6L1160.0 292.8L1161.0 294.0L1162.0 295.1L1163.0 296.2L1164.0 297.2L1165.0 298.2L1166.0 299.1L1167.0 300.0L1168.0 300.8L1169.0 301.6L1170.0 302.3L1171.0 303.0L1172.0 303.7L1173.0 304.3L1174.0 304.9L1175.0 305.4L1176.0 306.0L1177.0 306.4L1178.0 306.9L1179.0 307.3L1180.0 307.7L1181.0 308.1L1182.0 308.4L1183.0 308.7L1184.0 309.0L1185.0 309.3L1186.0 309.6L1187.0 309.8L1188.0 310.1L1189.0 310.3L1190.0 310.5L1191.0 310.7L1192.0 310.9L1193.0 311.1L1194.0 311.2L1195.0 311.4L1196.0 311.5L1197.0 311.7L1198.0 311.8L1199.0 312.0L1200.0 312.1L1201.0 312.2L1202.0 312.3L1203.0 312.4L1204.0 312.5L1205.0 312.6L1206.0 312.7L1207.0 312.8L1208.0 312.9L1209.0 313.0L1210.0 313.1L1211.0 313.1L1212.0 313.2L1213.0 313.3L1214.0 313.3L1215.0 313.4L1216.0 313.5L1217.0 313.5L1218.0 313.6L1219.0 313.7L1220.0 313.7L1221.0 313.8L1222.0 313.8L1223.0 313.9L1224.0 313.9L1225.0 314.0L1226.0 314.0L1227.0 314.1L1228.0 314.1L1229.0 314.2L1230.0 314.2L1231.0 314.3L1232.0 314.3L1233.0 314.4L1234.0 314.4L1235.0 314.4L1236.0 314.5L1237.0 314.5L1238.0 314.6L1239.0 314.6L1240.0 314.6L1241.0 314.7L1242.0 314.7L1243.0 314.7L1244.0 314.8L1245.0 314.8L1246.0 314.8L1247.0 314.8L1248.0 314.9L1249.0 314.9L1250.0 314.9L1251.0 315.0L1252.0 315.0L1253.0 315.0L1254.0 315.0L1255.0 315.1L1256.0 315.1L1257.0 315.1L1258.0 315.1L1259.0 315.2L1260.0 315.2L1261.0 315.2" fill="none" stroke="#f09434" stroke-width="2.3"/><path d="M888.0 307.0L889.0 307.0L890.0 307.0L891.0 307.0L892.0 307.0L893.0 307.0L894.0 307.0L895.0 306.9L896.0 306.9L897.0 306.9L898.0 306.9L899.0 306.9L900.0 306.8L901.0 306.8L902.0 306.8L903.0 306.8L904.0 306.8L905.0 306.7L906.0 306.7L907.0 306.7L908.0 306.7L909.0 306.6L910.0 306.6L911.0 306.6L912.0 306.6L913.0 306.5L914.0 306.5L915.0 306.5L916.0 306.4L917.0 306.4L918.0 306.4L919.0 306.3L920.0 306.3L921.0 306.2L922.0 306.2L923.0 306.1L924.0 306.1L925.0 306.0L926.0 306.0L927.0 305.9L928.0 305.9L929.0 305.8L930.0 305.8L931.0 305.7L932.0 305.6L933.0 305.6L934.0 305.5L935.0 305.4L936.0 305.3L937.0 305.2L938.0 305.1L939.0 305.0L940.0 305.0L941.0 304.9L942.0 304.7L943.0 304.6L944.0 304.5L945.0 304.4L946.0 304.3L947.0 304.1L948.0 304.0L949.0 303.9L950.0 303.7L951.0 303.5L952.0 303.4L953.0 303.2L954.0 303.0L955.0 302.9L956.0 302.7L957.0 302.5L958.0 302.3L959.0 302.0L960.0 301.8L961.0 301.6L962.0 301.4L963.0 301.1L964.0 300.9L965.0 300.6L966.0 300.3L967.0 300.0L968.0 299.7L969.0 299.4L970.0 299.1L971.0 298.8L972.0 298.5L973.0 298.1L974.0 297.8L975.0 297.4L976.0 297.0L977.0 296.6L978.0 296.2L979.0 295.8L980.0 295.4L981.0 295.0L982.0 294.6L983.0 294.1L984.0 293.7L985.0 293.2L986.0 292.7L987.0 292.2L988.0 291.7L989.0 291.2L990.0 290.7L991.0 290.2L992.0 289.7L993.0 289.1L994.0 288.6L995.0 288.0L996.0 287.5L997.0 286.9L998.0 286.3L999.0 285.7L1000.0 285.2L1001.0 284.6L1002.0 284.0L1003.0 283.4L1004.0 282.8L1005.0 282.1L1006.0 281.5L1007.0 280.9L1008.0 280.3L1009.0 279.7L1010.0 279.1L1011.0 278.4L1012.0 277.8L1013.0 277.2L1014.0 276.6L1015.0 276.0L1016.0 275.3L1017.0 274.7L1018.0 274.1L1019.0 273.5L1020.0 272.9L1021.0 272.3L1022.0 271.7L1023.0 271.2L1024.0 270.6L1025.0 270.0L1026.0 269.4L1027.0 268.9L1028.0 268.3L1029.0 267.8L1030.0 267.2L1031.0 266.7L1032.0 266.2L1033.0 265.7L1034.0 265.2L1035.0 264.6L1036.0 264.1L1037.0 263.7L1038.0 263.2L1039.0 262.7L1040.0 262.2L1041.0 261.7L1042.0 261.2L1043.0 260.7L1044.0 260.3L1045.0 259.8L1046.0 259.4L1047.0 259.0L1048.0 258.7L1049.0 258.3L1050.0 258.0L1051.0 257.6L1052.0 257.3L1053.0 257.0L1054.0 256.7L1055.0 256.3L1056.0 256.0L1057.0 255.6L1058.0 255.3L1059.0 254.9L1060.0 254.4L1061.0 254.0L1062.0 253.5L1063.0 252.9L1064.0 252.3L1065.0 251.7L1066.0 251.1L1067.0 250.3L1068.0 249.6L1069.0 248.8L1070.0 247.9L1071.0 247.0L1072.0 246.1L1073.0 245.1L1074.0 244.1L1075.0 243.0L1076.0 241.9L1077.0 240.7L1078.0 239.5L1079.0 238.3L1080.0 237.0L1081.0 235.7L1082.0 234.4L1083.0 233.0L1084.0 231.7L1085.0 230.3L1086.0 228.9L1087.0 227.5L1088.0 226.1L1089.0 224.7L1090.0 223.3L1091.0 222.0L1092.0 220.6L1093.0 219.3L1094.0 218.0L1095.0 216.7L1096.0 215.5L1097.0 214.3L1098.0 213.2L1099.0 212.1L1100.0 211.1L1101.0 210.1L1102.0 209.2L1103.0 208.3L1104.0 207.5L1105.0 206.8L1106.0 206.1L1107.0 205.5L1108.0 205.0L1109.0 204.6L1110.0 204.2L1111.0 203.8L1112.0 203.5L1113.0 203.3L1114.0 203.1L1115.0 202.9L1116.0 202.7L1117.0 202.6L1118.0 202.6L1119.0 202.6L1120.0 202.6L1121.0 202.8L1122.0 203.0L1123.0 203.3L1124.0 203.7L1125.0 204.2L1126.0 204.9L1127.0 205.8L1128.0 206.8L1129.0 208.0L1130.0 209.3L1131.0 210.9L1132.0 212.6L1133.0 214.5L1134.0 216.5L1135.0 218.6L1136.0 220.9L1137.0 223.3L1138.0 225.8L1139.0 228.3L1140.0 230.9L1141.0 233.6L1142.0 236.2L1143.0 238.9L1144.0 241.6L1145.0 244.3L1146.0 247.0L1147.0 249.6L1148.0 252.2L1149.0 254.7L1150.0 257.2L1151.0 259.6L1152.0 262.0L1153.0 264.2L1154.0 266.4L1155.0 268.6L1156.0 270.6L1157.0 272.6L1158.0 274.5L1159.0 276.3L1160.0 278.1L1161.0 279.8L1162.0 281.4L1163.0 282.9L1164.0 284.3L1165.0 285.7L1166.0 287.0L1167.0 288.3L1168.0 289.4L1169.0 290.6L1170.0 291.6L1171.0 292.6L1172.0 293.6L1173.0 294.4L1174.0 295.3L1175.0 296.1L1176.0 296.8L1177.0 297.5L1178.0 298.2L1179.0 298.8L1180.0 299.4L1181.0 300.0L1182.0 300.5L1183.0 301.0L1184.0 301.5L1185.0 302.0L1186.0 302.4L1187.0 302.8L1188.0 303.2L1189.0 303.5L1190.0 303.9L1191.0 304.2L1192.0 304.5L1193.0 304.8L1194.0 305.1L1195.0 305.4L1196.0 305.6L1197.0 305.9L1198.0 306.1L1199.0 306.3L1200.0 306.5L1201.0 306.8L1202.0 307.0L1203.0 307.2L1204.0 307.4L1205.0 307.5L1206.0 307.7L1207.0 307.9L1208.0 308.0L1209.0 308.2L1210.0 308.4L1211.0 308.5L1212.0 308.7L1213.0 308.8L1214.0 308.9L1215.0 309.1L1216.0 309.2L1217.0 309.3L1218.0 309.5L1219.0 309.6L1220.0 309.7L1221.0 309.8L1222.0 309.9L1223.0 310.0L1224.0 310.1L1225.0 310.2L1226.0 310.3L1227.0 310.4L1228.0 310.5L1229.0 310.6L1230.0 310.7L1231.0 310.8L1232.0 310.9L1233.0 311.0L1234.0 311.1L1235.0 311.2L1236.0 311.2L1237.0 311.3L1238.0 311.4L1239.0 311.5L1240.0 311.5L1241.0 311.6L1242.0 311.7L1243.0 311.8L1244.0 311.8L1245.0 311.9L1246.0 312.0L1247.0 312.0L1248.0 312.1L1249.0 312.2L1250.0 312.2L1251.0 312.3L1252.0 312.3L1253.0 312.4L1254.0 312.4L1255.0 312.5L1256.0 312.6L1257.0 312.6L1258.0 312.7L1259.0 312.7L1260.0 312.8L1261.0 312.8" fill="none" stroke="#1a1ad6" stroke-width="3.3"/></g><g clip-path="url(#cc2)"><path d="M889.5 468.4h0M893.2 468.8h0M897.0 467.9h0M900.7 468.3h0M904.5 467.4h0M908.2 469.2h0M911.9 467.5h0M915.7 467.2h0M919.4 465.8h0M923.2 464.3h0M926.9 464.6h0M930.6 464.5h0M934.4 463.4h0M938.1 462.0h0M941.9 460.9h0M945.6 459.4h0M949.3 458.6h0M953.1 457.8h0M956.8 456.2h0M960.6 454.3h0M964.3 451.6h0M968.0 449.6h0M971.8 446.9h0M975.5 444.5h0M979.3 441.6h0M983.0 438.7h0M986.7 434.9h0M990.5 431.5h0M994.2 429.0h0M998.0 425.4h0M1001.7 419.4h0M1005.4 417.5h0M1009.2 414.0h0M1012.9 411.0h0M1016.7 405.9h0M1020.4 403.4h0M1024.1 402.0h0M1027.9 400.4h0M1031.6 398.1h0M1035.4 398.7h0M1039.1 398.1h0M1042.8 397.8h0M1046.6 398.1h0M1050.3 397.0h0M1054.1 397.7h0M1057.8 395.9h0M1061.5 397.5h0M1065.3 396.2h0M1069.0 393.7h0M1072.8 390.1h0M1076.5 387.6h0M1080.2 384.4h0M1084.0 378.7h0M1087.7 375.2h0M1091.5 371.1h0M1095.2 365.9h0M1098.9 362.4h0M1102.7 360.7h0M1106.4 358.6h0M1110.2 358.5h0M1113.9 358.1h0M1117.6 358.3h0M1121.4 360.7h0M1125.1 363.0h0M1128.9 367.5h0M1132.6 374.1h0M1136.3 382.3h0M1140.1 389.8h0M1143.8 399.8h0M1147.6 406.4h0M1151.3 415.5h0M1155.0 423.4h0M1158.8 428.8h0M1162.5 435.2h0M1166.3 441.3h0M1170.0 446.1h0M1173.7 450.2h0M1177.5 453.2h0M1181.2 455.7h0M1185.0 457.3h0M1188.7 460.2h0M1192.4 463.0h0M1196.2 463.6h0M1199.9 464.0h0M1203.7 465.6h0M1207.4 466.7h0M1211.1 468.1h0M1214.9 467.6h0M1218.6 469.0h0M1222.4 469.7h0M1226.1 469.6h0M1229.8 470.3h0M1233.6 470.5h0M1237.3 471.3h0M1241.1 471.8h0M1244.8 471.1h0M1248.5 472.2h0M1252.3 473.7h0M1256.0 472.9h0M1259.8 471.9h0" stroke="#111" stroke-width="3.0" stroke-linecap="square" fill="none"/><path d="M888.0 465.8L889.0 465.8L890.0 465.8L891.0 465.8L892.0 465.7L893.0 465.7L894.0 465.7L895.0 465.7L896.0 465.6L897.0 465.6L898.0 465.6L899.0 465.6L900.0 465.5L901.0 465.5L902.0 465.5L903.0 465.4L904.0 465.4L905.0 465.4L906.0 465.3L907.0 465.3L908.0 465.3L909.0 465.2L910.0 465.2L911.0 465.1L912.0 465.1L913.0 465.0L914.0 465.0L915.0 464.9L916.0 464.9L917.0 464.8L918.0 464.8L919.0 464.7L920.0 464.7L921.0 464.6L922.0 464.5L923.0 464.5L924.0 464.4L925.0 464.3L926.0 464.2L927.0 464.1L928.0 464.0L929.0 463.9L930.0 463.9L931.0 463.7L932.0 463.6L933.0 463.5L934.0 463.4L935.0 463.3L936.0 463.2L937.0 463.0L938.0 462.9L939.0 462.7L940.0 462.6L941.0 462.4L942.0 462.2L943.0 462.1L944.0 461.9L945.0 461.7L946.0 461.5L947.0 461.2L948.0 461.0L949.0 460.8L950.0 460.5L951.0 460.3L952.0 460.0L953.0 459.7L954.0 459.4L955.0 459.1L956.0 458.8L957.0 458.5L958.0 458.1L959.0 457.8L960.0 457.4L961.0 457.0L962.0 456.6L963.0 456.2L964.0 455.8L965.0 455.3L966.0 454.9L967.0 454.4L968.0 453.9L969.0 453.4L970.0 452.9L971.0 452.3L972.0 451.8L973.0 451.2L974.0 450.6L975.0 450.0L976.0 449.4L977.0 448.7L978.0 448.1L979.0 447.4L980.0 446.7L981.0 446.0L982.0 445.2L983.0 444.5L984.0 443.7L985.0 443.0L986.0 442.2L987.0 441.4L988.0 440.5L989.0 439.7L990.0 438.9L991.0 438.0L992.0 437.1L993.0 436.3L994.0 435.4L995.0 434.5L996.0 433.6L997.0 432.7L998.0 431.7L999.0 430.8L1000.0 429.9L1001.0 429.0L1002.0 428.0L1003.0 427.1L1004.0 426.2L1005.0 425.3L1006.0 424.3L1007.0 423.4L1008.0 422.5L1009.0 421.6L1010.0 420.7L1011.0 419.9L1012.0 419.0L1013.0 418.2L1014.0 417.4L1015.0 416.6L1016.0 415.8L1017.0 415.0L1018.0 414.3L1019.0 413.6L1020.0 413.0L1021.0 412.4L1022.0 411.8L1023.0 411.2L1024.0 410.7L1025.0 410.3L1026.0 409.8L1027.0 409.5L1028.0 409.1L1029.0 408.9L1030.0 408.6L1031.0 408.4L1032.0 408.3L1033.0 408.2L1034.0 408.2L1035.0 408.2L1036.0 408.3L1037.0 408.5L1038.0 408.7L1039.0 409.0L1040.0 409.4L1041.0 409.8L1042.0 410.2L1043.0 410.8L1044.0 411.4L1045.0 412.0L1046.0 412.7L1047.0 413.4L1048.0 414.2L1049.0 415.0L1050.0 415.8L1051.0 416.7L1052.0 417.6L1053.0 418.5L1054.0 419.5L1055.0 420.5L1056.0 421.5L1057.0 422.5L1058.0 423.5L1059.0 424.6L1060.0 425.6L1061.0 426.6L1062.0 427.7L1063.0 428.7L1064.0 429.8L1065.0 430.8L1066.0 431.9L1067.0 432.9L1068.0 434.0L1069.0 435.0L1070.0 436.0L1071.0 437.0L1072.0 438.0L1073.0 439.0L1074.0 439.9L1075.0 440.9L1076.0 441.8L1077.0 442.7L1078.0 443.6L1079.0 444.5L1080.0 445.4L1081.0 446.2L1082.0 447.0L1083.0 447.8L1084.0 448.6L1085.0 449.4L1086.0 450.2L1087.0 450.9L1088.0 451.6L1089.0 452.3L1090.0 453.0L1091.0 453.6L1092.0 454.3L1093.0 454.9L1094.0 455.5L1095.0 456.1L1096.0 456.7L1097.0 457.2L1098.0 457.7L1099.0 458.3L1100.0 458.8L1101.0 459.2L1102.0 459.7L1103.0 460.2L1104.0 460.6L1105.0 461.0L1106.0 461.4L1107.0 461.8L1108.0 462.2L1109.0 462.6L1110.0 462.9L1111.0 463.2L1112.0 463.6L1113.0 463.9L1114.0 464.2L1115.0 464.5L1116.0 464.8L1117.0 465.0L1118.0 465.3L1119.0 465.5L1120.0 465.8L1121.0 466.0L1122.0 466.2L1123.0 466.5L1124.0 466.7L1125.0 466.9L1126.0 467.1L1127.0 467.3L1128.0 467.4L1129.0 467.6L1130.0 467.8L1131.0 467.9L1132.0 468.1L1133.0 468.2L1134.0 468.4L1135.0 468.5L1136.0 468.7L1137.0 468.8L1138.0 468.9L1139.0 469.0L1140.0 469.2L1141.0 469.3L1142.0 469.4L1143.0 469.5L1144.0 469.6L1145.0 469.7L1146.0 469.8L1147.0 469.9L1148.0 469.9L1149.0 470.0L1150.0 470.1L1151.0 470.2L1152.0 470.3L1153.0 470.3L1154.0 470.4L1155.0 470.5L1156.0 470.5L1157.0 470.6L1158.0 470.7L1159.0 470.7L1160.0 470.8L1161.0 470.9L1162.0 470.9L1163.0 471.0L1164.0 471.0L1165.0 471.1L1166.0 471.1L1167.0 471.2L1168.0 471.2L1169.0 471.3L1170.0 471.3L1171.0 471.3L1172.0 471.4L1173.0 471.4L1174.0 471.5L1175.0 471.5L1176.0 471.5L1177.0 471.6L1178.0 471.6L1179.0 471.7L1180.0 471.7L1181.0 471.7L1182.0 471.8L1183.0 471.8L1184.0 471.8L1185.0 471.9L1186.0 471.9L1187.0 471.9L1188.0 471.9L1189.0 472.0L1190.0 472.0L1191.0 472.0L1192.0 472.1L1193.0 472.1L1194.0 472.1L1195.0 472.1L1196.0 472.2L1197.0 472.2L1198.0 472.2L1199.0 472.2L1200.0 472.3L1201.0 472.3L1202.0 472.3L1203.0 472.3L1204.0 472.4L1205.0 472.4L1206.0 472.4L1207.0 472.4L1208.0 472.4L1209.0 472.5L1210.0 472.5L1211.0 472.5L1212.0 472.5L1213.0 472.5L1214.0 472.6L1215.0 472.6L1216.0 472.6L1217.0 472.6L1218.0 472.6L1219.0 472.7L1220.0 472.7L1221.0 472.7L1222.0 472.7L1223.0 472.7L1224.0 472.7L1225.0 472.8L1226.0 472.8L1227.0 472.8L1228.0 472.8L1229.0 472.8L1230.0 472.8L1231.0 472.8L1232.0 472.9L1233.0 472.9L1234.0 472.9L1235.0 472.9L1236.0 472.9L1237.0 472.9L1238.0 472.9L1239.0 473.0L1240.0 473.0L1241.0 473.0L1242.0 473.0L1243.0 473.0L1244.0 473.0L1245.0 473.0L1246.0 473.1L1247.0 473.1L1248.0 473.1L1249.0 473.1L1250.0 473.1L1251.0 473.1L1252.0 473.1L1253.0 473.1L1254.0 473.1L1255.0 473.2L1256.0 473.2L1257.0 473.2L1258.0 473.2L1259.0 473.2L1260.0 473.2L1261.0 473.2" fill="none" stroke="#e8282c" stroke-width="2.3"/><path d="M888.0 466.9L889.0 466.9L890.0 466.9L891.0 466.9L892.0 466.8L893.0 466.8L894.0 466.8L895.0 466.8L896.0 466.8L897.0 466.8L898.0 466.8L899.0 466.8L900.0 466.8L901.0 466.8L902.0 466.8L903.0 466.8L904.0 466.8L905.0 466.8L906.0 466.8L907.0 466.8L908.0 466.8L909.0 466.8L910.0 466.8L911.0 466.7L912.0 466.7L913.0 466.7L914.0 466.7L915.0 466.7L916.0 466.7L917.0 466.7L918.0 466.7L919.0 466.7L920.0 466.7L921.0 466.7L922.0 466.7L923.0 466.7L924.0 466.7L925.0 466.6L926.0 466.6L927.0 466.6L928.0 466.6L929.0 466.6L930.0 466.6L931.0 466.6L932.0 466.6L933.0 466.6L934.0 466.6L935.0 466.6L936.0 466.5L937.0 466.5L938.0 466.5L939.0 466.5L940.0 466.5L941.0 466.5L942.0 466.5L943.0 466.5L944.0 466.5L945.0 466.5L946.0 466.4L947.0 466.4L948.0 466.4L949.0 466.4L950.0 466.4L951.0 466.4L952.0 466.4L953.0 466.4L954.0 466.3L955.0 466.3L956.0 466.3L957.0 466.3L958.0 466.3L959.0 466.3L960.0 466.3L961.0 466.2L962.0 466.2L963.0 466.2L964.0 466.2L965.0 466.2L966.0 466.2L967.0 466.1L968.0 466.1L969.0 466.1L970.0 466.1L971.0 466.1L972.0 466.1L973.0 466.0L974.0 466.0L975.0 466.0L976.0 466.0L977.0 466.0L978.0 465.9L979.0 465.9L980.0 465.9L981.0 465.9L982.0 465.9L983.0 465.8L984.0 465.8L985.0 465.8L986.0 465.8L987.0 465.7L988.0 465.7L989.0 465.7L990.0 465.7L991.0 465.6L992.0 465.6L993.0 465.6L994.0 465.5L995.0 465.5L996.0 465.5L997.0 465.5L998.0 465.4L999.0 465.4L1000.0 465.3L1001.0 465.3L1002.0 465.3L1003.0 465.2L1004.0 465.2L1005.0 465.1L1006.0 465.1L1007.0 465.0L1008.0 465.0L1009.0 464.9L1010.0 464.9L1011.0 464.8L1012.0 464.7L1013.0 464.7L1014.0 464.6L1015.0 464.5L1016.0 464.4L1017.0 464.4L1018.0 464.3L1019.0 464.2L1020.0 464.1L1021.0 464.0L1022.0 463.8L1023.0 463.7L1024.0 463.6L1025.0 463.4L1026.0 463.3L1027.0 463.1L1028.0 462.9L1029.0 462.7L1030.0 462.5L1031.0 462.3L1032.0 462.1L1033.0 461.8L1034.0 461.6L1035.0 461.3L1036.0 461.0L1037.0 460.7L1038.0 460.3L1039.0 460.0L1040.0 459.6L1041.0 459.2L1042.0 458.7L1043.0 458.2L1044.0 457.8L1045.0 457.2L1046.0 456.7L1047.0 456.1L1048.0 455.5L1049.0 454.8L1050.0 454.1L1051.0 453.4L1052.0 452.6L1053.0 451.8L1054.0 451.0L1055.0 450.1L1056.0 449.2L1057.0 448.2L1058.0 447.2L1059.0 446.2L1060.0 445.1L1061.0 444.0L1062.0 442.8L1063.0 441.6L1064.0 440.4L1065.0 439.1L1066.0 437.8L1067.0 436.4L1068.0 435.0L1069.0 433.6L1070.0 432.1L1071.0 430.6L1072.0 429.1L1073.0 427.5L1074.0 425.9L1075.0 424.3L1076.0 422.7L1077.0 421.1L1078.0 419.4L1079.0 417.8L1080.0 416.1L1081.0 414.5L1082.0 412.9L1083.0 411.3L1084.0 409.7L1085.0 408.1L1086.0 406.6L1087.0 405.1L1088.0 403.7L1089.0 402.3L1090.0 401.0L1091.0 399.7L1092.0 398.6L1093.0 397.5L1094.0 396.6L1095.0 395.7L1096.0 395.0L1097.0 394.3L1098.0 393.8L1099.0 393.4L1100.0 393.2L1101.0 393.1L1102.0 393.1L1103.0 393.3L1104.0 393.6L1105.0 394.2L1106.0 394.9L1107.0 395.8L1108.0 396.8L1109.0 398.0L1110.0 399.3L1111.0 400.7L1112.0 402.2L1113.0 403.8L1114.0 405.5L1115.0 407.3L1116.0 409.1L1117.0 410.9L1118.0 412.8L1119.0 414.7L1120.0 416.6L1121.0 418.5L1122.0 420.4L1123.0 422.2L1124.0 424.1L1125.0 425.9L1126.0 427.7L1127.0 429.5L1128.0 431.2L1129.0 432.9L1130.0 434.6L1131.0 436.2L1132.0 437.7L1133.0 439.2L1134.0 440.7L1135.0 442.1L1136.0 443.5L1137.0 444.8L1138.0 446.1L1139.0 447.3L1140.0 448.4L1141.0 449.6L1142.0 450.6L1143.0 451.6L1144.0 452.6L1145.0 453.5L1146.0 454.4L1147.0 455.3L1148.0 456.1L1149.0 456.8L1150.0 457.6L1151.0 458.3L1152.0 458.9L1153.0 459.5L1154.0 460.1L1155.0 460.7L1156.0 461.2L1157.0 461.7L1158.0 462.2L1159.0 462.6L1160.0 463.0L1161.0 463.4L1162.0 463.8L1163.0 464.2L1164.0 464.5L1165.0 464.8L1166.0 465.1L1167.0 465.4L1168.0 465.7L1169.0 466.0L1170.0 466.2L1171.0 466.4L1172.0 466.7L1173.0 466.9L1174.0 467.1L1175.0 467.3L1176.0 467.4L1177.0 467.6L1178.0 467.8L1179.0 467.9L1180.0 468.1L1181.0 468.2L1182.0 468.4L1183.0 468.5L1184.0 468.6L1185.0 468.8L1186.0 468.9L1187.0 469.0L1188.0 469.1L1189.0 469.2L1190.0 469.3L1191.0 469.4L1192.0 469.5L1193.0 469.6L1194.0 469.7L1195.0 469.8L1196.0 469.9L1197.0 470.0L1198.0 470.1L1199.0 470.1L1200.0 470.2L1201.0 470.3L1202.0 470.4L1203.0 470.4L1204.0 470.5L1205.0 470.6L1206.0 470.6L1207.0 470.7L1208.0 470.7L1209.0 470.8L1210.0 470.9L1211.0 470.9L1212.0 471.0L1213.0 471.0L1214.0 471.1L1215.0 471.1L1216.0 471.2L1217.0 471.2L1218.0 471.3L1219.0 471.3L1220.0 471.4L1221.0 471.4L1222.0 471.5L1223.0 471.5L1224.0 471.6L1225.0 471.6L1226.0 471.6L1227.0 471.7L1228.0 471.7L1229.0 471.8L1230.0 471.8L1231.0 471.8L1232.0 471.9L1233.0 471.9L1234.0 471.9L1235.0 472.0L1236.0 472.0L1237.0 472.0L1238.0 472.1L1239.0 472.1L1240.0 472.1L1241.0 472.1L1242.0 472.2L1243.0 472.2L1244.0 472.2L1245.0 472.3L1246.0 472.3L1247.0 472.3L1248.0 472.3L1249.0 472.4L1250.0 472.4L1251.0 472.4L1252.0 472.4L1253.0 472.5L1254.0 472.5L1255.0 472.5L1256.0 472.5L1257.0 472.6L1258.0 472.6L1259.0 472.6L1260.0 472.6L1261.0 472.6" fill="none" stroke="#38e238" stroke-width="2.3"/><path d="M888.0 467.3L889.0 467.3L890.0 467.3L891.0 467.3L892.0 467.3L893.0 467.3L894.0 467.3L895.0 467.3L896.0 467.3L897.0 467.3L898.0 467.3L899.0 467.3L900.0 467.3L901.0 467.3L902.0 467.3L903.0 467.3L904.0 467.3L905.0 467.3L906.0 467.2L907.0 467.2L908.0 467.2L909.0 467.2L910.0 467.2L911.0 467.2L912.0 467.2L913.0 467.2L914.0 467.2L915.0 467.2L916.0 467.2L917.0 467.2L918.0 467.2L919.0 467.2L920.0 467.2L921.0 467.2L922.0 467.2L923.0 467.2L924.0 467.2L925.0 467.2L926.0 467.2L927.0 467.2L928.0 467.2L929.0 467.2L930.0 467.2L931.0 467.2L932.0 467.2L933.0 467.2L934.0 467.2L935.0 467.2L936.0 467.2L937.0 467.2L938.0 467.2L939.0 467.2L940.0 467.2L941.0 467.2L942.0 467.2L943.0 467.2L944.0 467.2L945.0 467.2L946.0 467.2L947.0 467.2L948.0 467.2L949.0 467.2L950.0 467.2L951.0 467.2L952.0 467.2L953.0 467.2L954.0 467.2L955.0 467.2L956.0 467.2L957.0 467.2L958.0 467.2L959.0 467.2L960.0 467.2L961.0 467.2L962.0 467.2L963.0 467.2L964.0 467.2L965.0 467.2L966.0 467.2L967.0 467.2L968.0 467.2L969.0 467.2L970.0 467.2L971.0 467.2L972.0 467.2L973.0 467.2L974.0 467.2L975.0 467.2L976.0 467.2L977.0 467.2L978.0 467.2L979.0 467.2L980.0 467.2L981.0 467.2L982.0 467.2L983.0 467.2L984.0 467.2L985.0 467.2L986.0 467.2L987.0 467.2L988.0 467.2L989.0 467.2L990.0 467.2L991.0 467.2L992.0 467.2L993.0 467.2L994.0 467.2L995.0 467.2L996.0 467.2L997.0 467.2L998.0 467.2L999.0 467.2L1000.0 467.2L1001.0 467.2L1002.0 467.2L1003.0 467.2L1004.0 467.2L1005.0 467.2L1006.0 467.2L1007.0 467.2L1008.0 467.2L1009.0 467.2L1010.0 467.2L1011.0 467.2L1012.0 467.2L1013.0 467.2L1014.0 467.2L1015.0 467.2L1016.0 467.2L1017.0 467.2L1018.0 467.2L1019.0 467.2L1020.0 467.2L1021.0 467.2L1022.0 467.2L1023.0 467.2L1024.0 467.2L1025.0 467.2L1026.0 467.2L1027.0 467.2L1028.0 467.2L1029.0 467.2L1030.0 467.2L1031.0 467.2L1032.0 467.2L1033.0 467.2L1034.0 467.2L1035.0 467.2L1036.0 467.2L1037.0 467.2L1038.0 467.2L1039.0 467.1L1040.0 467.1L1041.0 467.1L1042.0 467.1L1043.0 467.1L1044.0 467.1L1045.0 467.0L1046.0 467.0L1047.0 467.0L1048.0 467.0L1049.0 466.9L1050.0 466.9L1051.0 466.9L1052.0 466.8L1053.0 466.8L1054.0 466.7L1055.0 466.7L1056.0 466.6L1057.0 466.6L1058.0 466.5L1059.0 466.5L1060.0 466.4L1061.0 466.3L1062.0 466.3L1063.0 466.2L1064.0 466.1L1065.0 466.0L1066.0 465.9L1067.0 465.8L1068.0 465.7L1069.0 465.6L1070.0 465.5L1071.0 465.4L1072.0 465.2L1073.0 465.1L1074.0 464.9L1075.0 464.7L1076.0 464.6L1077.0 464.4L1078.0 464.1L1079.0 463.9L1080.0 463.7L1081.0 463.4L1082.0 463.1L1083.0 462.8L1084.0 462.4L1085.0 462.0L1086.0 461.6L1087.0 461.2L1088.0 460.8L1089.0 460.3L1090.0 459.7L1091.0 459.2L1092.0 458.5L1093.0 457.9L1094.0 457.2L1095.0 456.4L1096.0 455.6L1097.0 454.8L1098.0 453.9L1099.0 452.9L1100.0 451.9L1101.0 450.9L1102.0 449.8L1103.0 448.6L1104.0 447.4L1105.0 446.1L1106.0 444.7L1107.0 443.4L1108.0 441.9L1109.0 440.4L1110.0 438.9L1111.0 437.4L1112.0 435.8L1113.0 434.1L1114.0 432.5L1115.0 430.9L1116.0 429.2L1117.0 427.6L1118.0 426.1L1119.0 424.5L1120.0 423.1L1121.0 421.7L1122.0 420.4L1123.0 419.3L1124.0 418.3L1125.0 417.4L1126.0 416.7L1127.0 416.2L1128.0 416.0L1129.0 415.9L1130.0 416.0L1131.0 416.2L1132.0 416.7L1133.0 417.2L1134.0 417.9L1135.0 418.7L1136.0 419.6L1137.0 420.6L1138.0 421.7L1139.0 422.9L1140.0 424.2L1141.0 425.5L1142.0 426.9L1143.0 428.3L1144.0 429.7L1145.0 431.1L1146.0 432.6L1147.0 434.0L1148.0 435.5L1149.0 436.9L1150.0 438.3L1151.0 439.7L1152.0 441.1L1153.0 442.4L1154.0 443.8L1155.0 445.0L1156.0 446.3L1157.0 447.5L1158.0 448.6L1159.0 449.8L1160.0 450.8L1161.0 451.9L1162.0 452.9L1163.0 453.8L1164.0 454.8L1165.0 455.6L1166.0 456.5L1167.0 457.3L1168.0 458.1L1169.0 458.8L1170.0 459.5L1171.0 460.1L1172.0 460.8L1173.0 461.4L1174.0 461.9L1175.0 462.5L1176.0 463.0L1177.0 463.4L1178.0 463.9L1179.0 464.3L1180.0 464.7L1181.0 465.1L1182.0 465.4L1183.0 465.8L1184.0 466.1L1185.0 466.4L1186.0 466.7L1187.0 466.9L1188.0 467.2L1189.0 467.4L1190.0 467.7L1191.0 467.9L1192.0 468.1L1193.0 468.3L1194.0 468.4L1195.0 468.6L1196.0 468.8L1197.0 468.9L1198.0 469.1L1199.0 469.2L1200.0 469.4L1201.0 469.5L1202.0 469.6L1203.0 469.7L1204.0 469.8L1205.0 469.9L1206.0 470.1L1207.0 470.1L1208.0 470.2L1209.0 470.3L1210.0 470.4L1211.0 470.5L1212.0 470.6L1213.0 470.7L1214.0 470.7L1215.0 470.8L1216.0 470.9L1217.0 471.0L1218.0 471.0L1219.0 471.1L1220.0 471.2L1221.0 471.2L1222.0 471.3L1223.0 471.3L1224.0 471.4L1225.0 471.4L1226.0 471.5L1227.0 471.5L1228.0 471.6L1229.0 471.6L1230.0 471.7L1231.0 471.7L1232.0 471.8L1233.0 471.8L1234.0 471.9L1235.0 471.9L1236.0 472.0L1237.0 472.0L1238.0 472.0L1239.0 472.1L1240.0 472.1L1241.0 472.1L1242.0 472.2L1243.0 472.2L1244.0 472.2L1245.0 472.3L1246.0 472.3L1247.0 472.3L1248.0 472.4L1249.0 472.4L1250.0 472.4L1251.0 472.5L1252.0 472.5L1253.0 472.5L1254.0 472.5L1255.0 472.6L1256.0 472.6L1257.0 472.6L1258.0 472.6L1259.0 472.7L1260.0 472.7L1261.0 472.7" fill="none" stroke="#f09434" stroke-width="2.3"/><path d="M888.0 464.8L889.0 464.8L890.0 464.8L891.0 464.7L892.0 464.7L893.0 464.7L894.0 464.6L895.0 464.6L896.0 464.6L897.0 464.5L898.0 464.5L899.0 464.4L900.0 464.4L901.0 464.4L902.0 464.3L903.0 464.3L904.0 464.2L905.0 464.2L906.0 464.1L907.0 464.1L908.0 464.0L909.0 464.0L910.0 463.9L911.0 463.9L912.0 463.8L913.0 463.8L914.0 463.7L915.0 463.6L916.0 463.6L917.0 463.5L918.0 463.4L919.0 463.4L920.0 463.3L921.0 463.2L922.0 463.1L923.0 463.0L924.0 462.9L925.0 462.9L926.0 462.8L927.0 462.7L928.0 462.6L929.0 462.4L930.0 462.3L931.0 462.2L932.0 462.1L933.0 462.0L934.0 461.8L935.0 461.7L936.0 461.5L937.0 461.4L938.0 461.2L939.0 461.0L940.0 460.9L941.0 460.7L942.0 460.5L943.0 460.3L944.0 460.1L945.0 459.9L946.0 459.6L947.0 459.4L948.0 459.1L949.0 458.9L950.0 458.6L951.0 458.3L952.0 458.0L953.0 457.7L954.0 457.4L955.0 457.1L956.0 456.8L957.0 456.4L958.0 456.0L959.0 455.6L960.0 455.2L961.0 454.8L962.0 454.4L963.0 454.0L964.0 453.5L965.0 453.0L966.0 452.5L967.0 452.0L968.0 451.5L969.0 450.9L970.0 450.4L971.0 449.8L972.0 449.2L973.0 448.6L974.0 448.0L975.0 447.3L976.0 446.7L977.0 446.0L978.0 445.3L979.0 444.5L980.0 443.8L981.0 443.1L982.0 442.3L983.0 441.5L984.0 440.7L985.0 439.9L986.0 439.0L987.0 438.2L988.0 437.3L989.0 436.4L990.0 435.5L991.0 434.6L992.0 433.7L993.0 432.7L994.0 431.8L995.0 430.8L996.0 429.9L997.0 428.9L998.0 427.9L999.0 426.9L1000.0 425.9L1001.0 424.9L1002.0 423.9L1003.0 422.9L1004.0 421.9L1005.0 420.9L1006.0 419.9L1007.0 418.9L1008.0 417.9L1009.0 416.9L1010.0 415.9L1011.0 414.9L1012.0 414.0L1013.0 413.0L1014.0 412.1L1015.0 411.2L1016.0 410.3L1017.0 409.4L1018.0 408.5L1019.0 407.7L1020.0 406.9L1021.0 406.1L1022.0 405.3L1023.0 404.6L1024.0 403.9L1025.0 403.2L1026.0 402.6L1027.0 402.0L1028.0 401.4L1029.0 400.9L1030.0 400.4L1031.0 400.0L1032.0 399.5L1033.0 399.1L1034.0 398.8L1035.0 398.5L1036.0 398.2L1037.0 398.0L1038.0 397.8L1039.0 397.6L1040.0 397.5L1041.0 397.4L1042.0 397.4L1043.0 397.4L1044.0 397.4L1045.0 397.4L1046.0 397.5L1047.0 397.5L1048.0 397.6L1049.0 397.6L1050.0 397.7L1051.0 397.8L1052.0 397.8L1053.0 397.8L1054.0 397.9L1055.0 397.9L1056.0 397.8L1057.0 397.8L1058.0 397.7L1059.0 397.5L1060.0 397.4L1061.0 397.2L1062.0 396.9L1063.0 396.6L1064.0 396.3L1065.0 395.9L1066.0 395.5L1067.0 395.0L1068.0 394.4L1069.0 393.9L1070.0 393.2L1071.0 392.5L1072.0 391.8L1073.0 391.0L1074.0 390.1L1075.0 389.2L1076.0 388.3L1077.0 387.3L1078.0 386.3L1079.0 385.2L1080.0 384.1L1081.0 383.0L1082.0 381.8L1083.0 380.6L1084.0 379.4L1085.0 378.2L1086.0 376.9L1087.0 375.7L1088.0 374.4L1089.0 373.1L1090.0 371.9L1091.0 370.7L1092.0 369.5L1093.0 368.3L1094.0 367.1L1095.0 366.0L1096.0 365.0L1097.0 363.9L1098.0 363.0L1099.0 362.1L1100.0 361.2L1101.0 360.4L1102.0 359.7L1103.0 359.1L1104.0 358.6L1105.0 358.2L1106.0 357.9L1107.0 357.6L1108.0 357.5L1109.0 357.5L1110.0 357.5L1111.0 357.6L1112.0 357.8L1113.0 358.0L1114.0 358.3L1115.0 358.6L1116.0 358.9L1117.0 359.3L1118.0 359.8L1119.0 360.3L1120.0 360.9L1121.0 361.6L1122.0 362.3L1123.0 363.2L1124.0 364.1L1125.0 365.2L1126.0 366.5L1127.0 367.9L1128.0 369.4L1129.0 371.1L1130.0 372.9L1131.0 374.9L1132.0 376.9L1133.0 379.0L1134.0 381.2L1135.0 383.5L1136.0 385.9L1137.0 388.3L1138.0 390.7L1139.0 393.1L1140.0 395.6L1141.0 398.1L1142.0 400.6L1143.0 403.1L1144.0 405.5L1145.0 407.9L1146.0 410.3L1147.0 412.6L1148.0 414.9L1149.0 417.1L1150.0 419.3L1151.0 421.4L1152.0 423.5L1153.0 425.5L1154.0 427.4L1155.0 429.3L1156.0 431.1L1157.0 432.8L1158.0 434.5L1159.0 436.1L1160.0 437.6L1161.0 439.1L1162.0 440.5L1163.0 441.8L1164.0 443.1L1165.0 444.3L1166.0 445.5L1167.0 446.6L1168.0 447.7L1169.0 448.7L1170.0 449.6L1171.0 450.6L1172.0 451.4L1173.0 452.3L1174.0 453.0L1175.0 453.8L1176.0 454.5L1177.0 455.2L1178.0 455.8L1179.0 456.4L1180.0 457.0L1181.0 457.5L1182.0 458.0L1183.0 458.5L1184.0 459.0L1185.0 459.4L1186.0 459.8L1187.0 460.2L1188.0 460.6L1189.0 461.0L1190.0 461.3L1191.0 461.7L1192.0 462.0L1193.0 462.3L1194.0 462.6L1195.0 462.8L1196.0 463.1L1197.0 463.4L1198.0 463.6L1199.0 463.8L1200.0 464.1L1201.0 464.3L1202.0 464.5L1203.0 464.7L1204.0 464.9L1205.0 465.1L1206.0 465.2L1207.0 465.4L1208.0 465.6L1209.0 465.7L1210.0 465.9L1211.0 466.1L1212.0 466.2L1213.0 466.3L1214.0 466.5L1215.0 466.6L1216.0 466.8L1217.0 466.9L1218.0 467.0L1219.0 467.1L1220.0 467.3L1221.0 467.4L1222.0 467.5L1223.0 467.6L1224.0 467.7L1225.0 467.8L1226.0 467.9L1227.0 468.0L1228.0 468.1L1229.0 468.2L1230.0 468.3L1231.0 468.4L1232.0 468.5L1233.0 468.6L1234.0 468.6L1235.0 468.7L1236.0 468.8L1237.0 468.9L1238.0 469.0L1239.0 469.0L1240.0 469.1L1241.0 469.2L1242.0 469.2L1243.0 469.3L1244.0 469.4L1245.0 469.5L1246.0 469.5L1247.0 469.6L1248.0 469.6L1249.0 469.7L1250.0 469.8L1251.0 469.8L1252.0 469.9L1253.0 469.9L1254.0 470.0L1255.0 470.1L1256.0 470.1L1257.0 470.2L1258.0 470.2L1259.0 470.3L1260.0 470.3L1261.0 470.4" fill="none" stroke="#1a1ad6" stroke-width="3.3"/></g><line x1="197.0" y1="5.5" x2="197.0" y2="485.0" stroke="#111" stroke-width="2.2"/><line x1="259.6" y1="2.77" x2="259.6" y2="485.0" stroke="#222" stroke-width="2.6" stroke-dasharray="8 11.23"/><line x1="562.9" y1="5.3" x2="562.9" y2="484.0" stroke="#222" stroke-width="2.6" stroke-dasharray="8.5 6 2 7.35"/><line x1="725.4" y1="5.3" x2="725.4" y2="484.0" stroke="#222" stroke-width="2.6" stroke-dasharray="8.5 6 2 7.35"/><line x1="1033.1" y1="2.15" x2="1033.1" y2="482.5" stroke="#222" stroke-width="2.6" stroke-dasharray="7 6 2 6 2 5.65"/><line x1="1107.7" y1="3.0" x2="1107.7" y2="162.2" stroke="#222" stroke-width="2.6" stroke-dasharray="7 11.6"/><line x1="1102.7" y1="163.0" x2="1102.7" y2="322.5" stroke="#222" stroke-width="2.6" stroke-dasharray="7 11.6"/><line x1="1098.7" y1="323.7" x2="1098.7" y2="482.5" stroke="#222" stroke-width="2.6" stroke-dasharray="7 11.6"/><line x1="1129.8" y1="1.7" x2="1129.8" y2="482.5" stroke="#111" stroke-width="2.2"/><path d="M412.3,485.0 V479.5 M381.4,485.0 V482.0 M350.5,485.0 V479.5 M319.6,485.0 V482.0 M288.7,485.0 V479.5 M257.8,485.0 V482.0 M226.9,485.0 V479.5 M196.0,485.0 V482.0 M165.1,485.0 V479.5 M134.2,485.0 V482.0 M103.3,485.0 V479.5 M72.4,485.0 V482.0 M41.5,485.0 V479.5 " stroke="#111" stroke-width="2" fill="none"/><line x1="41.5" y1="165.5" x2="412.3" y2="165.5" stroke="#111" stroke-width="2.6"/><line x1="41.5" y1="325.5" x2="412.3" y2="325.5" stroke="#111" stroke-width="2.6"/><rect x="41.5" y="5.5" width="370.8" height="479.5" fill="none" stroke="#111" stroke-width="3.2" rx="1.5"/><text x="412.3" y="509.7" font-size="22" text-anchor="middle">152</text><text x="350.5" y="509.7" font-size="22" text-anchor="middle">154</text><text x="288.7" y="509.7" font-size="22" text-anchor="middle">156</text><text x="226.9" y="509.7" font-size="22" text-anchor="middle">158</text><text x="165.1" y="509.7" font-size="22" text-anchor="middle">160</text><text x="103.3" y="509.7" font-size="22" text-anchor="middle">162</text><text x="41.5" y="509.7" font-size="22" text-anchor="middle">164</text><text x="226.9" y="538.0" font-size="31.5" text-anchor="middle">Binding energy (eV)</text><path d="M835.5,484.0 V478.5 M809.0,484.0 V481.0 M782.6,484.0 V478.5 M756.1,484.0 V481.0 M729.6,484.0 V478.5 M703.2,484.0 V481.0 M676.7,484.0 V478.5 M650.2,484.0 V481.0 M623.8,484.0 V478.5 M597.3,484.0 V481.0 M570.9,484.0 V478.5 M544.4,484.0 V481.0 M517.9,484.0 V478.5 M491.5,484.0 V481.0 M465.0,484.0 V478.5 " stroke="#111" stroke-width="2" fill="none"/><line x1="465.0" y1="164.8" x2="835.5" y2="164.8" stroke="#111" stroke-width="2.6"/><line x1="465.0" y1="324.8" x2="835.5" y2="324.8" stroke="#111" stroke-width="2.6"/><rect x="465.0" y="5.5" width="370.5" height="478.5" fill="none" stroke="#111" stroke-width="3.2" rx="1.5"/><text x="835.5" y="508.7" font-size="22" text-anchor="middle">454</text><text x="782.6" y="508.7" font-size="22" text-anchor="middle">456</text><text x="729.6" y="508.7" font-size="22" text-anchor="middle">458</text><text x="676.7" y="508.7" font-size="22" text-anchor="middle">460</text><text x="623.8" y="508.7" font-size="22" text-anchor="middle">462</text><text x="570.9" y="508.7" font-size="22" text-anchor="middle">464</text><text x="517.9" y="508.7" font-size="22" text-anchor="middle">466</text><text x="465.0" y="508.7" font-size="22" text-anchor="middle">468</text><text x="650.2" y="537.0" font-size="31.5" text-anchor="middle">Binding energy (eV)</text><path d="M1261.7,482.5 V477.0 M1224.3,482.5 V479.5 M1187.0,482.5 V477.0 M1149.6,482.5 V479.5 M1112.2,482.5 V477.0 M1074.8,482.5 V479.5 M1037.5,482.5 V477.0 M1000.1,482.5 V479.5 M962.7,482.5 V477.0 M925.4,482.5 V479.5 M888.0,482.5 V477.0 " stroke="#111" stroke-width="2" fill="none"/><line x1="888.0" y1="162.2" x2="1261.7" y2="162.2" stroke="#111" stroke-width="2.6"/><line x1="888.0" y1="322.5" x2="1261.7" y2="322.5" stroke="#111" stroke-width="2.6"/><rect x="888.0" y="1.7" width="373.7" height="480.8" fill="none" stroke="#111" stroke-width="3.2" rx="1.5"/><text x="1261.7" y="507.2" font-size="22" text-anchor="middle">526</text><text x="1187.0" y="507.2" font-size="22" text-anchor="middle">528</text><text x="1112.2" y="507.2" font-size="22" text-anchor="middle">530</text><text x="1037.5" y="507.2" font-size="22" text-anchor="middle">532</text><text x="962.7" y="507.2" font-size="22" text-anchor="middle">534</text><text x="888.0" y="507.2" font-size="22" text-anchor="middle">536</text><text x="1074.8" y="535.5" font-size="31.5" text-anchor="middle">Binding energy (eV)</text><text transform="translate(24.0,237.0) rotate(-90)" font-size="32" text-anchor="middle">Intensity (a. u.)</text><text transform="translate(448.5,237.5) rotate(-90)" font-size="32" text-anchor="middle">Intensity (a. u.)</text><text transform="translate(873.0,234.5) rotate(-90)" font-size="32" text-anchor="middle">Intensity (a. u.)</text><text x="47.6" y="29.1" font-size="23">(a) Y 3d</text><text x="295.1" y="36.1" font-size="24">YTi</text><text x="330.2" y="45.5" font-size="13.5">x</text><text x="339.1" y="36.1" font-size="24">O</text><text x="357.0" y="45.5" font-size="13.5">y</text><text x="336.7" y="142.0" font-size="24">900</text><text x="381.4" y="138.2" font-size="24">°</text><text x="390.2" y="142.0" font-size="24">C</text><text x="291.1" y="239.0" font-size="24">Y</text><text x="306.5" y="247.7" font-size="14">2</text><text x="315.1" y="239.0" font-size="24">O</text><text x="331.8" y="247.7" font-size="14">3</text><text x="337.4" y="307.1" font-size="24">800</text><text x="382.1" y="303.3" font-size="24">°</text><text x="390.9" y="307.1" font-size="24">C</text><text x="337.1" y="462.1" font-size="24">700</text><text x="381.8" y="458.3" font-size="24">°</text><text x="390.6" y="462.1" font-size="24">C</text><text x="472.3" y="28.9" font-size="23">(b) Ti</text><text x="759.2" y="122.4" font-size="24">900</text><text x="803.9" y="118.6" font-size="24">°</text><text x="812.7" y="122.4" font-size="24">C</text><text x="568.5" y="214.0" font-size="24">2</text><text x="580.0" y="214.0" font-size="24">p</text><text x="595.7" y="223.5" font-size="14">1/2</text><text x="729.8" y="188.0" font-size="24">2</text><text x="741.3" y="188.0" font-size="24">p</text><text x="757.0" y="197.5" font-size="14">3/2</text><text x="758.5" y="277.2" font-size="24">800</text><text x="803.2" y="273.4" font-size="24">°</text><text x="812.0" y="277.2" font-size="24">C</text><text x="743.1" y="352.4" font-size="24">TiO</text><text x="780.2" y="361.9" font-size="14">2</text><text x="759.2" y="431.4" font-size="24">700</text><text x="803.9" y="427.6" font-size="24">°</text><text x="812.7" y="431.4" font-size="24">C</text><text x="894.9" y="26.9" font-size="23">(c) O 1s</text><text x="1134.9" y="32.4" font-size="24">Y</text><text x="1150.3" y="41.1" font-size="14">2</text><text x="1158.9" y="32.4" font-size="24">O</text><text x="1175.6" y="41.1" font-size="14">3</text><text x="1184.5" y="134.6" font-size="24">900</text><text x="1229.2" y="130.8" font-size="24">°</text><text x="1238.0" y="134.6" font-size="24">C</text><text x="1139.2" y="210.2" font-size="24">YTi</text><text x="1174.3" y="219.6" font-size="13.5">x</text><text x="1183.2" y="210.2" font-size="24">O</text><text x="1201.1" y="219.6" font-size="13.5">y</text><text x="1186.3" y="298.9" font-size="24">800</text><text x="1231.0" y="295.1" font-size="24">°</text><text x="1239.8" y="298.9" font-size="24">C</text><text x="983.6" y="354.1" font-size="23">O-C</text><text x="1184.5" y="455.7" font-size="24">700</text><text x="1229.2" y="451.9" font-size="24">°</text><text x="1238.0" y="455.7" font-size="24">C</text><path d="M1108.3,184.3 Q1130.3,164.4 1150.3,177.2" fill="none" stroke="#111" stroke-width="2"/><path d="M1157.4,185.6 L1146.8,180.2 L1152.6,173.4 Z" fill="#111"/></svg></body></html>
